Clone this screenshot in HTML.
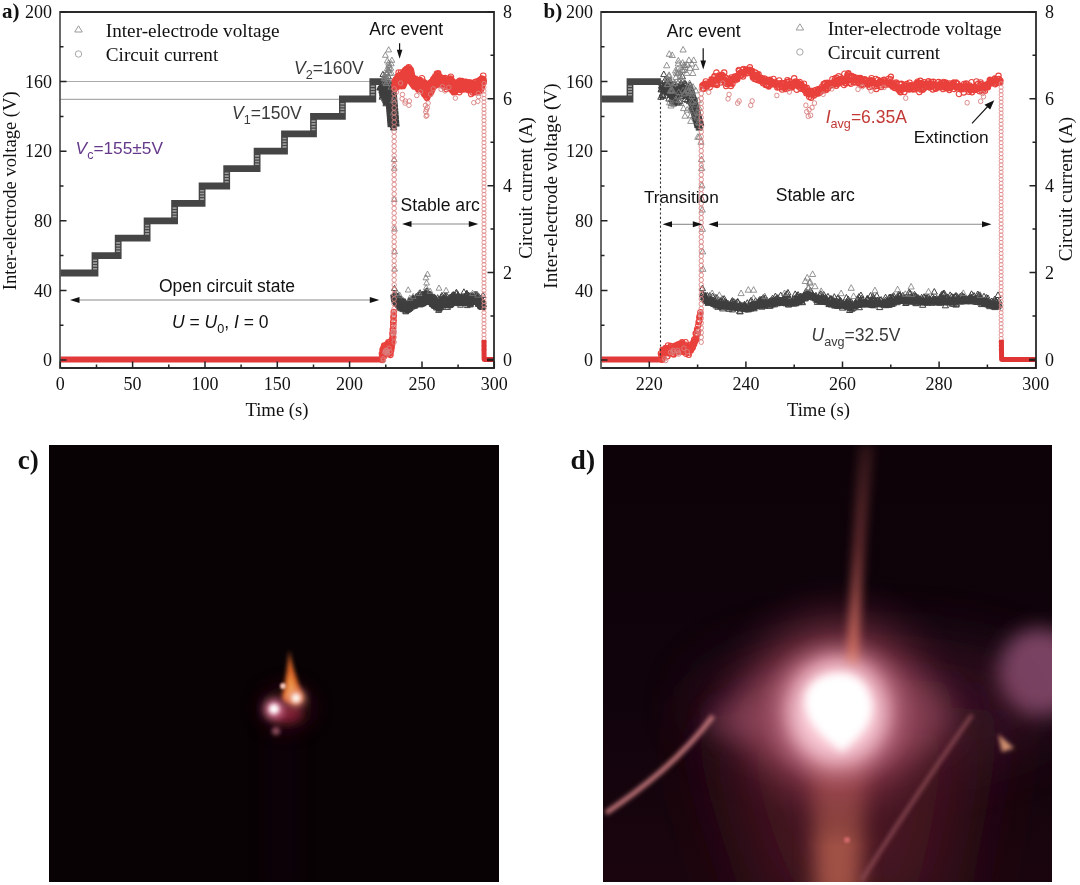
<!DOCTYPE html>
<html><head><meta charset="utf-8"><style>
html,body{margin:0;padding:0;background:#fff;width:1080px;height:885px;overflow:hidden}
svg{display:block;filter:blur(0.45px)}
</style></head><body>
<svg width="1080" height="885" viewBox="0 0 1080 885">
<rect width="1080" height="885" fill="#fff"/>
<clipPath id="clipa"><rect x="60" y="12" width="434" height="356"/></clipPath>
<g clip-path="url(#clipa)">
<line x1="60" y1="81.5" x2="372.8" y2="81.5" stroke="#aaa" stroke-width="1.2"/>
<line x1="60" y1="99.3" x2="342.4" y2="99.3" stroke="#aaa" stroke-width="1.2"/>
<path d="M53.1,273.0 L95.0,273.0 L95.0,255.6 L118.2,255.6 L118.2,238.2 L147.1,238.2 L147.1,220.8 L174.6,220.8 L174.6,203.4 L202.1,203.4 L202.1,186.0 L226.7,186.0 L226.7,168.6 L257.1,168.6 L257.1,151.2 L284.5,151.2 L284.5,133.8 L313.5,133.8 L313.5,116.4 L342.4,116.4 L342.4,99.0 L372.8,99.0 L372.8,81.6 L382.0,81.6" fill="none" stroke="#454545" stroke-width="6.8" stroke-linejoin="miter"/>
<line x1="95.0" y1="269.5" x2="95.0" y2="259.1" stroke="#9a9a9a" stroke-width="4" stroke-dasharray="1.6,1.2"/>
<line x1="118.2" y1="252.1" x2="118.2" y2="241.7" stroke="#9a9a9a" stroke-width="4" stroke-dasharray="1.6,1.2"/>
<line x1="147.1" y1="234.7" x2="147.1" y2="224.3" stroke="#9a9a9a" stroke-width="4" stroke-dasharray="1.6,1.2"/>
<line x1="174.6" y1="217.3" x2="174.6" y2="206.9" stroke="#9a9a9a" stroke-width="4" stroke-dasharray="1.6,1.2"/>
<line x1="202.1" y1="199.9" x2="202.1" y2="189.5" stroke="#9a9a9a" stroke-width="4" stroke-dasharray="1.6,1.2"/>
<line x1="226.7" y1="182.5" x2="226.7" y2="172.1" stroke="#9a9a9a" stroke-width="4" stroke-dasharray="1.6,1.2"/>
<line x1="257.1" y1="165.1" x2="257.1" y2="154.7" stroke="#9a9a9a" stroke-width="4" stroke-dasharray="1.6,1.2"/>
<line x1="284.5" y1="147.7" x2="284.5" y2="137.3" stroke="#9a9a9a" stroke-width="4" stroke-dasharray="1.6,1.2"/>
<line x1="313.5" y1="130.3" x2="313.5" y2="119.9" stroke="#9a9a9a" stroke-width="4" stroke-dasharray="1.6,1.2"/>
<line x1="342.4" y1="112.9" x2="342.4" y2="102.5" stroke="#9a9a9a" stroke-width="4" stroke-dasharray="1.6,1.2"/>
<line x1="372.8" y1="95.5" x2="372.8" y2="85.1" stroke="#9a9a9a" stroke-width="4" stroke-dasharray="1.6,1.2"/>
<path d="M56,359.5 L382.2,359.5" stroke="#e23a3a" stroke-width="6"/>
<path d="M394.6,293.9 L394.9,295.4 L395.2,298.4 L395.5,300.2 L395.8,300.6 L396.1,300.9 L396.4,301.3 L396.7,301.7 L396.9,302.1 L397.2,302.5 L397.5,302.9 L397.8,303.3 L398.1,303.7 L398.4,304.1 L398.7,304.5 L399.0,304.8 L399.3,305.0 L399.6,305.1 L399.8,305.2 L400.1,305.4 L400.4,305.5 L400.7,305.6 L401.0,305.7 L401.3,305.9 L401.6,306.0 L401.9,306.1 L402.2,306.2 L402.4,306.4 L402.7,306.5 L403.0,306.6 L403.3,306.8 L403.6,306.9 L403.9,307.0 L404.2,307.2 L404.5,307.3 L404.8,307.5 L405.0,307.6 L405.3,307.8 L405.6,307.9 L405.9,308.1 L406.2,308.2 L406.5,308.4 L406.8,308.5 L407.1,308.7 L407.4,308.8 L407.7,308.9 L407.9,308.9 L408.2,308.6 L408.5,308.3 L408.8,308.0 L409.1,307.7 L409.4,307.4 L409.7,307.1 L410.0,306.8 L410.3,306.5 L410.5,306.2 L410.8,306.0 L411.1,305.7 L411.4,305.4 L411.7,305.1 L412.0,304.8 L412.3,304.5 L412.6,304.3 L412.9,304.2 L413.2,304.0 L413.4,303.8 L413.7,303.7 L414.0,303.5 L414.3,303.4 L414.6,303.2 L414.9,303.0 L415.2,302.9 L415.5,302.7 L415.8,302.5 L416.0,302.4 L416.3,302.2 L416.6,302.1 L416.9,302.1 L417.2,302.1 L417.5,302.1 L417.8,302.1 L418.1,302.1 L418.4,302.1 L418.6,302.1 L418.9,302.1 L419.2,302.1 L419.5,302.1 L419.8,302.1 L420.1,302.1 L420.4,302.1 L420.7,302.1 L421.0,302.1 L421.3,302.1 L421.5,302.1 L421.8,302.1 L422.1,302.1 L422.4,302.1 L422.7,302.1 L423.0,302.1 L423.3,302.1 L423.6,301.3 L423.9,300.6 L424.1,299.8 L424.4,299.1 L424.7,298.3 L425.0,297.6 L425.3,296.8 L425.6,296.1 L425.9,295.3 L426.2,295.1 L426.5,295.6 L426.7,296.0 L427.0,296.4 L427.3,296.8 L427.6,297.3 L427.9,297.7 L428.2,298.1 L428.5,298.5 L428.8,299.0 L429.1,299.4 L429.4,299.8 L429.6,300.2 L429.9,300.7 L430.2,300.9 L430.5,301.1 L430.8,301.3 L431.1,301.5 L431.4,301.7 L431.7,301.9 L432.0,302.2 L432.2,302.4 L432.5,302.6 L432.8,302.8 L433.1,303.0 L433.4,303.2 L433.7,303.4 L434.0,303.7 L434.3,303.9 L434.6,304.1 L434.9,304.2 L435.1,304.4 L435.4,304.6 L435.7,304.8 L436.0,305.0 L436.3,305.1 L436.6,305.3 L436.9,305.5 L437.2,305.7 L437.5,305.9 L437.7,306.0 L438.0,306.2 L438.3,306.4 L438.6,306.6 L438.9,306.8 L439.2,306.4 L439.5,306.1 L439.8,305.8 L440.1,305.5 L440.3,305.2 L440.6,304.8 L440.9,304.5 L441.2,304.2 L441.5,303.9 L441.8,303.6 L442.1,303.2 L442.4,302.9 L442.7,303.0 L443.0,303.0 L443.2,303.1 L443.5,303.1 L443.8,303.1 L444.1,303.2 L444.4,303.2 L444.7,303.3 L445.0,303.3 L445.3,303.3 L445.6,303.4 L445.8,303.4 L446.1,303.5 L446.4,303.5 L446.7,303.6 L447.0,303.6 L447.3,303.6 L447.6,303.7 L447.9,303.7 L448.2,303.8 L448.4,303.8 L448.7,303.8 L449.0,303.9 L449.3,303.9 L449.6,304.0 L449.9,303.7 L450.2,303.4 L450.5,303.1 L450.8,302.9 L451.1,302.6 L451.3,302.3 L451.6,302.0 L451.9,301.7 L452.2,301.5 L452.5,301.2 L452.8,300.9 L453.1,300.6 L453.4,300.4 L453.7,300.1 L453.9,299.8 L454.2,299.9 L454.5,299.9 L454.8,300.0 L455.1,300.0 L455.4,300.1 L455.7,300.2 L456.0,300.2 L456.3,300.3 L456.6,300.3 L456.8,300.4 L457.1,300.5 L457.4,300.5 L457.7,300.6 L458.0,300.6 L458.3,300.7 L458.6,300.8 L458.9,300.8 L459.2,300.9 L459.4,300.9 L459.7,301.0 L460.0,301.1 L460.3,301.1 L460.6,301.2 L460.9,301.2 L461.2,301.2 L461.5,301.2 L461.8,301.2 L462.0,301.2 L462.3,301.3 L462.6,301.3 L462.9,301.3 L463.2,301.3 L463.5,301.3 L463.8,301.3 L464.1,301.3 L464.4,301.3 L464.7,301.4 L464.9,301.4 L465.2,301.4 L465.5,301.4 L465.8,301.4 L466.1,301.4 L466.4,301.4 L466.7,301.4 L467.0,301.5 L467.3,301.5 L467.5,301.5 L467.8,301.5 L468.1,301.5 L468.4,301.5 L468.7,301.5 L469.0,301.5 L469.3,301.5 L469.6,301.4 L469.9,301.4 L470.2,301.3 L470.4,301.2 L470.7,301.2 L471.0,301.1 L471.3,301.0 L471.6,301.0 L471.9,300.9 L472.2,300.9 L472.5,300.8 L472.8,300.7 L473.0,300.7 L473.3,300.6 L473.6,300.6 L473.9,300.5 L474.2,300.4 L474.5,300.4 L474.8,300.3 L475.1,300.3 L475.4,300.2 L475.6,300.1 L475.9,300.1 L476.2,300.0 L476.5,299.9 L476.8,299.9 L477.1,299.8 L477.4,300.0 L477.7,300.4 L478.0,300.8 L478.3,301.2 L478.5,301.7 L478.8,302.1 L479.1,302.5 L479.4,302.9 L479.7,303.3 L480.0,303.7 L480.3,304.1 L480.6,304.5 L480.9,305.0 L481.1,305.4 L481.4,305.3 L481.7,305.3 L482.0,305.3 L482.3,305.3 L482.6,305.3 L482.9,305.2 L483.2,305.2 L483.5,305.2" fill="none" stroke="#3e3e3e" stroke-width="9" stroke-linejoin="round"/>
<path d="M382.2,91.6 L382.3,91.2 L382.5,90.8 L382.6,90.4 L382.8,90.1 L382.9,89.8 L383.1,89.6 L383.2,89.5 L383.3,89.4 L383.5,89.5 L383.6,89.5 L383.8,89.7 L383.9,89.9 L384.1,90.2 L384.2,90.6 L384.4,91.0 L384.5,91.4 L384.7,91.8 L384.8,92.3 L384.9,92.7 L385.1,93.1 L385.2,93.5 L385.4,93.9 L385.5,94.1 L385.7,94.4 L385.8,94.5 L386.0,94.6 L386.1,94.6 L386.2,94.6 L386.4,94.5 L386.5,94.3 L386.7,94.0 L386.8,93.7 L387.0,93.3 L387.1,92.9 L387.3,92.5 L387.4,92.0 L387.5,91.6 L387.7,91.2 L387.8,90.8 L388.0,90.4 L388.1,90.1 L388.3,89.8 L388.4,89.6 L388.6,89.5 L388.7,89.4 L388.8,89.5 L389.0,89.6 L389.1,89.7 L389.3,90.0 L389.4,90.3 L389.6,90.6 L389.7,91.0 L389.9,91.4 L390.0,91.8 L390.1,92.3 L390.3,92.7 L390.4,93.1 L390.6,93.5 L390.7,93.9 L390.9,93.8 L391.0,95.5 L391.2,97.3 L391.3,99.0 L391.4,100.7 L391.6,102.5 L391.7,104.2 L391.9,106.0 L392.0,107.7 L392.2,109.4 L392.3,111.2 L392.5,112.9 L392.6,114.7 L392.8,116.4 L392.9,118.1 L393.0,119.9 L393.2,121.6 L393.3,123.4 L393.5,125.1 L393.6,126.8" fill="none" stroke="#3e3e3e" stroke-width="12" stroke-linejoin="round"/>
<path d="M394.5,87.1 L394.8,86.4 L395.1,85.7 L395.4,85.0 L395.6,84.3 L395.9,83.6 L396.2,82.9 L396.5,82.2 L396.8,81.7 L397.1,81.3 L397.4,81.0 L397.7,80.6 L398.0,80.3 L398.2,79.9 L398.5,79.6 L398.8,79.2 L399.1,78.9 L399.4,78.6 L399.7,78.2 L400.0,77.9 L400.3,77.5 L400.6,78.5 L400.9,79.4 L401.1,80.3 L401.4,81.3 L401.7,82.2 L402.0,83.2 L402.3,82.4 L402.6,81.6 L402.9,80.8 L403.2,80.0 L403.5,79.2 L403.7,78.4 L404.0,77.6 L404.3,76.8 L404.6,76.0 L404.9,75.2 L405.2,74.4 L405.5,73.6 L405.8,73.0 L406.1,72.8 L406.4,72.5 L406.6,72.3 L406.9,72.0 L407.2,71.8 L407.5,71.6 L407.8,71.3 L408.1,71.1 L408.4,70.8 L408.7,70.6 L409.0,72.0 L409.2,73.5 L409.5,74.9 L409.8,76.4 L410.1,77.3 L410.4,77.7 L410.7,78.1 L411.0,78.4 L411.3,78.8 L411.6,79.2 L411.8,79.6 L412.1,80.0 L412.4,80.4 L412.7,80.8 L413.0,81.2 L413.3,81.6 L413.6,82.0 L413.9,82.4 L414.2,82.8 L414.5,83.2 L414.7,83.3 L415.0,83.4 L415.3,83.6 L415.6,83.7 L415.9,83.9 L416.2,84.0 L416.5,84.1 L416.8,84.3 L417.1,84.4 L417.3,84.6 L417.6,84.7 L417.9,84.8 L418.2,85.0 L418.5,85.1 L418.8,85.3 L419.1,85.3 L419.4,85.3 L419.7,85.3 L419.9,85.3 L420.2,85.3 L420.5,85.3 L420.8,85.3 L421.1,85.3 L421.4,85.3 L421.7,85.3 L422.0,85.3 L422.3,85.3 L422.6,85.3 L422.8,85.3 L423.1,85.3 L423.4,85.3 L423.7,85.3 L424.0,85.3 L424.3,85.3 L424.6,86.6 L424.9,87.9 L425.2,89.2 L425.4,90.5 L425.7,91.8 L426.0,93.2 L426.3,93.1 L426.6,93.0 L426.9,92.9 L427.2,92.8 L427.5,92.7 L427.8,92.6 L428.1,92.5 L428.3,92.4 L428.6,92.3 L428.9,91.6 L429.2,91.0 L429.5,90.3 L429.8,89.6 L430.1,89.0 L430.4,88.3 L430.7,87.7 L430.9,87.0 L431.2,86.3 L431.5,85.7 L431.8,85.0 L432.1,84.4 L432.4,83.9 L432.7,83.7 L433.0,83.4 L433.3,83.2 L433.5,82.9 L433.8,82.7 L434.1,82.4 L434.4,82.2 L434.7,81.9 L435.0,81.7 L435.3,81.4 L435.6,81.2 L435.9,80.9 L436.2,80.7 L436.4,80.4 L436.7,80.2 L437.0,79.9 L437.3,79.7 L437.6,79.4 L437.9,79.2 L438.2,78.9 L438.5,78.9 L438.8,79.1 L439.0,79.4 L439.3,79.6 L439.6,79.8 L439.9,80.0 L440.2,80.3 L440.5,80.5 L440.8,80.7 L441.1,80.9 L441.4,81.2 L441.7,81.4 L441.9,81.6 L442.2,81.8 L442.5,82.0 L442.8,82.3 L443.1,82.5 L443.4,82.7 L443.7,82.9 L444.0,83.2 L444.3,83.1 L444.5,83.1 L444.8,83.0 L445.1,83.0 L445.4,83.0 L445.7,82.9 L446.0,82.9 L446.3,82.9 L446.6,82.8 L446.9,82.8 L447.1,82.7 L447.4,82.7 L447.7,82.7 L448.0,82.6 L448.3,82.6 L448.6,82.6 L448.9,82.5 L449.2,82.5 L449.5,82.4 L449.8,82.4 L450.0,82.4 L450.3,82.3 L450.6,82.3 L450.9,82.9 L451.2,83.6 L451.5,84.2 L451.8,84.9 L452.1,85.5 L452.4,86.2 L452.6,86.9 L452.9,87.5 L453.2,88.2 L453.5,88.8 L453.8,88.6 L454.1,88.5 L454.4,88.3 L454.7,88.1 L455.0,87.9 L455.2,87.7 L455.5,87.6 L455.8,87.4 L456.1,87.2 L456.4,87.0 L456.7,86.9 L457.0,86.7 L457.3,86.5 L457.6,86.3 L457.9,86.1 L458.1,86.0 L458.4,85.8 L458.7,85.6 L459.0,85.4 L459.3,85.3 L459.6,85.1 L459.9,84.9 L460.2,84.7 L460.5,84.6 L460.7,84.5 L461.0,84.5 L461.3,84.5 L461.6,84.6 L461.9,84.6 L462.2,84.6 L462.5,84.7 L462.8,84.7 L463.1,84.7 L463.4,84.7 L463.6,84.8 L463.9,84.8 L464.2,84.8 L464.5,84.9 L464.8,84.9 L465.1,84.9 L465.4,85.0 L465.7,85.0 L466.0,85.0 L466.2,85.0 L466.5,85.1 L466.8,85.1 L467.1,85.1 L467.4,85.2 L467.7,85.2 L468.0,85.2 L468.3,85.3 L468.6,85.3 L468.8,85.3 L469.1,85.4 L469.4,85.5 L469.7,85.6 L470.0,85.7 L470.3,85.8 L470.6,85.9 L470.9,86.0 L471.2,86.1 L471.5,86.2 L471.7,86.3 L472.0,86.4 L472.3,86.5 L472.6,86.6 L472.9,86.7 L473.2,86.8 L473.5,86.9 L473.8,87.1 L474.1,87.2 L474.3,87.3 L474.6,87.4 L474.9,87.5 L475.2,87.6 L475.5,87.7 L475.8,87.8 L476.1,87.9 L476.4,88.0 L476.7,88.1 L476.9,88.2 L477.2,88.3 L477.5,88.3 L477.8,88.4 L478.1,88.5 L478.4,88.6 L478.7,88.7 L479.0,88.8 L479.3,87.8 L479.6,86.8 L479.8,85.9 L480.1,84.9 L480.4,83.9 L480.7,82.9 L481.0,81.9 L481.3,81.4 L481.6,81.4 L481.9,81.4 L482.2,81.4 L482.4,81.4 L482.7,81.4 L483.0,81.4 L483.3,81.4 L483.6,81.4 L483.9,81.4" fill="none" stroke="#ea3e39" stroke-width="11" stroke-linejoin="round"/>
<path d="M382.0,94.0l2.9,5.2h-5.8zM382.1,86.5l2.9,5.2h-5.8zM382.2,85.8l2.9,5.2h-5.8zM382.3,82.8l2.9,5.2h-5.8zM382.3,80.6l2.9,5.2h-5.8zM382.4,82.9l2.9,5.2h-5.8zM382.5,90.7l2.9,5.2h-5.8zM382.6,92.1l2.9,5.2h-5.8zM382.6,85.6l2.9,5.2h-5.8zM382.7,83.5l2.9,5.2h-5.8zM382.8,92.9l2.9,5.2h-5.8zM382.8,87.1l2.9,5.2h-5.8zM382.9,71.3l2.9,5.2h-5.8zM383.0,86.3l2.9,5.2h-5.8zM383.1,86.4l2.9,5.2h-5.8zM383.1,84.3l2.9,5.2h-5.8zM383.2,77.4l2.9,5.2h-5.8zM383.3,88.1l2.9,5.2h-5.8zM383.3,81.3l2.9,5.2h-5.8zM383.4,86.4l2.9,5.2h-5.8zM383.5,82.4l2.9,5.2h-5.8zM383.6,83.8l2.9,5.2h-5.8zM383.6,84.7l2.9,5.2h-5.8zM383.7,85.1l2.9,5.2h-5.8zM383.8,83.4l2.9,5.2h-5.8zM383.9,82.7l2.9,5.2h-5.8zM383.9,78.3l2.9,5.2h-5.8zM384.0,85.4l2.9,5.2h-5.8zM384.1,82.3l2.9,5.2h-5.8zM384.1,87.0l2.9,5.2h-5.8zM384.2,87.5l2.9,5.2h-5.8zM384.3,86.9l2.9,5.2h-5.8zM384.4,81.2l2.9,5.2h-5.8zM384.4,95.7l2.9,5.2h-5.8zM384.5,80.8l2.9,5.2h-5.8zM384.6,88.7l2.9,5.2h-5.8zM384.7,83.7l2.9,5.2h-5.8zM384.7,77.2l2.9,5.2h-5.8zM384.8,89.0l2.9,5.2h-5.8zM384.9,80.5l2.9,5.2h-5.8zM384.9,90.8l2.9,5.2h-5.8zM385.0,92.1l2.9,5.2h-5.8zM385.1,91.9l2.9,5.2h-5.8zM385.2,87.8l2.9,5.2h-5.8zM385.2,96.1l2.9,5.2h-5.8zM385.3,82.8l2.9,5.2h-5.8zM385.4,89.5l2.9,5.2h-5.8zM385.4,93.9l2.9,5.2h-5.8zM385.5,97.8l2.9,5.2h-5.8zM385.6,85.6l2.9,5.2h-5.8zM385.7,88.2l2.9,5.2h-5.8zM385.7,88.2l2.9,5.2h-5.8zM385.8,100.6l2.9,5.2h-5.8zM385.9,97.9l2.9,5.2h-5.8zM386.0,87.1l2.9,5.2h-5.8zM386.0,96.4l2.9,5.2h-5.8zM386.1,81.7l2.9,5.2h-5.8zM386.2,91.4l2.9,5.2h-5.8zM386.2,99.0l2.9,5.2h-5.8zM386.3,84.9l2.9,5.2h-5.8zM386.4,89.7l2.9,5.2h-5.8zM386.5,98.4l2.9,5.2h-5.8zM386.5,84.2l2.9,5.2h-5.8zM386.6,81.9l2.9,5.2h-5.8zM386.7,93.5l2.9,5.2h-5.8zM386.7,86.8l2.9,5.2h-5.8zM386.8,99.5l2.9,5.2h-5.8zM386.9,86.4l2.9,5.2h-5.8zM387.0,85.7l2.9,5.2h-5.8zM387.0,90.0l2.9,5.2h-5.8zM387.1,86.6l2.9,5.2h-5.8zM387.2,85.8l2.9,5.2h-5.8zM387.3,99.7l2.9,5.2h-5.8zM387.3,90.2l2.9,5.2h-5.8zM387.4,86.0l2.9,5.2h-5.8zM387.5,86.6l2.9,5.2h-5.8zM387.5,91.6l2.9,5.2h-5.8zM387.6,83.7l2.9,5.2h-5.8zM387.7,98.2l2.9,5.2h-5.8zM387.8,82.2l2.9,5.2h-5.8zM387.8,86.8l2.9,5.2h-5.8zM387.9,81.2l2.9,5.2h-5.8zM388.0,93.1l2.9,5.2h-5.8zM388.0,80.0l2.9,5.2h-5.8zM388.1,93.5l2.9,5.2h-5.8zM388.2,93.4l2.9,5.2h-5.8zM388.3,81.5l2.9,5.2h-5.8zM388.3,87.8l2.9,5.2h-5.8zM388.4,90.5l2.9,5.2h-5.8zM388.5,73.6l2.9,5.2h-5.8zM388.6,87.4l2.9,5.2h-5.8zM388.6,90.6l2.9,5.2h-5.8zM388.7,83.8l2.9,5.2h-5.8zM388.8,87.4l2.9,5.2h-5.8zM388.8,89.9l2.9,5.2h-5.8zM388.9,86.6l2.9,5.2h-5.8zM389.0,81.0l2.9,5.2h-5.8zM389.1,85.0l2.9,5.2h-5.8zM389.1,89.7l2.9,5.2h-5.8zM389.2,90.4l2.9,5.2h-5.8zM389.3,80.4l2.9,5.2h-5.8zM389.4,96.1l2.9,5.2h-5.8zM389.4,91.9l2.9,5.2h-5.8zM389.5,81.5l2.9,5.2h-5.8zM389.6,88.0l2.9,5.2h-5.8zM389.6,87.8l2.9,5.2h-5.8zM389.7,88.9l2.9,5.2h-5.8zM389.8,88.2l2.9,5.2h-5.8zM389.9,83.9l2.9,5.2h-5.8zM389.9,96.9l2.9,5.2h-5.8zM390.0,88.1l2.9,5.2h-5.8zM390.1,90.0l2.9,5.2h-5.8zM390.1,92.4l2.9,5.2h-5.8zM390.2,91.2l2.9,5.2h-5.8zM390.3,83.9l2.9,5.2h-5.8zM390.4,92.0l2.9,5.2h-5.8zM390.4,93.1l2.9,5.2h-5.8zM390.5,94.0l2.9,5.2h-5.8zM390.6,90.4l2.9,5.2h-5.8zM390.7,98.3l2.9,5.2h-5.8zM390.7,89.9l2.9,5.2h-5.8zM390.8,82.0l2.9,5.2h-5.8zM390.9,85.3l2.9,5.2h-5.8zM390.9,87.1l2.9,5.2h-5.8zM391.0,85.4l2.9,5.2h-5.8zM391.1,93.1l2.9,5.2h-5.8zM391.2,93.0l2.9,5.2h-5.8zM391.2,96.3l2.9,5.2h-5.8zM391.3,92.6l2.9,5.2h-5.8zM391.4,94.5l2.9,5.2h-5.8zM391.4,104.6l2.9,5.2h-5.8zM391.5,102.8l2.9,5.2h-5.8zM391.6,101.5l2.9,5.2h-5.8zM391.7,100.1l2.9,5.2h-5.8zM391.7,101.4l2.9,5.2h-5.8zM391.8,101.6l2.9,5.2h-5.8zM391.9,105.5l2.9,5.2h-5.8zM392.0,106.6l2.9,5.2h-5.8zM392.0,104.6l2.9,5.2h-5.8zM392.1,95.0l2.9,5.2h-5.8zM392.2,98.4l2.9,5.2h-5.8zM392.2,112.4l2.9,5.2h-5.8zM392.3,107.9l2.9,5.2h-5.8zM392.4,104.2l2.9,5.2h-5.8zM392.5,109.0l2.9,5.2h-5.8zM392.5,112.5l2.9,5.2h-5.8zM392.6,115.5l2.9,5.2h-5.8zM392.7,112.9l2.9,5.2h-5.8zM392.8,111.8l2.9,5.2h-5.8zM392.8,113.8l2.9,5.2h-5.8zM392.9,113.7l2.9,5.2h-5.8zM393.0,105.6l2.9,5.2h-5.8zM393.0,110.5l2.9,5.2h-5.8zM393.1,118.4l2.9,5.2h-5.8zM393.2,122.4l2.9,5.2h-5.8zM393.3,120.0l2.9,5.2h-5.8zM393.3,115.3l2.9,5.2h-5.8zM393.4,122.2l2.9,5.2h-5.8zM393.5,124.8l2.9,5.2h-5.8zM393.5,122.6l2.9,5.2h-5.8zM393.6,116.9l2.9,5.2h-5.8zM393.7,124.1l2.9,5.2h-5.8zM394.5,290.8l2.9,5.2h-5.8zM394.5,285.4l2.9,5.2h-5.8zM394.6,291.3l2.9,5.2h-5.8zM394.8,294.3l2.9,5.2h-5.8zM394.9,292.4l2.9,5.2h-5.8zM395.1,294.0l2.9,5.2h-5.8zM395.2,295.4l2.9,5.2h-5.8zM395.4,297.3l2.9,5.2h-5.8zM395.5,296.7l2.9,5.2h-5.8zM395.6,298.3l2.9,5.2h-5.8zM395.8,297.9l2.9,5.2h-5.8zM395.9,297.3l2.9,5.2h-5.8zM395.9,292.6l2.9,5.2h-5.8zM396.1,296.8l2.9,5.2h-5.8zM396.2,299.9l2.9,5.2h-5.8zM396.4,299.8l2.9,5.2h-5.8zM396.5,299.3l2.9,5.2h-5.8zM396.7,295.0l2.9,5.2h-5.8zM396.7,292.8l2.9,5.2h-5.8zM396.8,298.6l2.9,5.2h-5.8zM396.9,296.7l2.9,5.2h-5.8zM397.1,296.5l2.9,5.2h-5.8zM397.2,297.6l2.9,5.2h-5.8zM397.4,298.7l2.9,5.2h-5.8zM397.5,297.7l2.9,5.2h-5.8zM397.5,293.2l2.9,5.2h-5.8zM397.7,297.3l2.9,5.2h-5.8zM397.8,300.9l2.9,5.2h-5.8zM398.0,299.3l2.9,5.2h-5.8zM398.1,301.1l2.9,5.2h-5.8zM398.2,298.3l2.9,5.2h-5.8zM398.4,297.6l2.9,5.2h-5.8zM398.4,294.8l2.9,5.2h-5.8zM398.5,302.5l2.9,5.2h-5.8zM398.7,301.6l2.9,5.2h-5.8zM398.8,300.5l2.9,5.2h-5.8zM398.8,294.7l2.9,5.2h-5.8zM399.0,301.7l2.9,5.2h-5.8zM399.1,304.0l2.9,5.2h-5.8zM399.3,302.0l2.9,5.2h-5.8zM399.4,300.8l2.9,5.2h-5.8zM399.6,299.9l2.9,5.2h-5.8zM399.7,302.5l2.9,5.2h-5.8zM399.8,298.2l2.9,5.2h-5.8zM400.0,303.2l2.9,5.2h-5.8zM400.1,303.1l2.9,5.2h-5.8zM400.1,297.6l2.9,5.2h-5.8zM400.3,301.2l2.9,5.2h-5.8zM400.4,304.0l2.9,5.2h-5.8zM400.4,299.0l2.9,5.2h-5.8zM400.6,305.5l2.9,5.2h-5.8zM400.6,296.1l2.9,5.2h-5.8zM400.7,302.2l2.9,5.2h-5.8zM400.9,301.9l2.9,5.2h-5.8zM401.0,302.7l2.9,5.2h-5.8zM401.0,295.8l2.9,5.2h-5.8zM401.1,300.8l2.9,5.2h-5.8zM401.1,298.6l2.9,5.2h-5.8zM401.3,303.0l2.9,5.2h-5.8zM401.4,301.8l2.9,5.2h-5.8zM401.6,299.5l2.9,5.2h-5.8zM401.7,299.9l2.9,5.2h-5.8zM401.9,303.0l2.9,5.2h-5.8zM402.0,301.0l2.9,5.2h-5.8zM402.2,303.6l2.9,5.2h-5.8zM402.3,300.9l2.9,5.2h-5.8zM402.4,305.9l2.9,5.2h-5.8zM402.6,302.3l2.9,5.2h-5.8zM402.7,304.6l2.9,5.2h-5.8zM402.9,303.7l2.9,5.2h-5.8zM403.0,302.3l2.9,5.2h-5.8zM403.2,301.7l2.9,5.2h-5.8zM403.2,299.7l2.9,5.2h-5.8zM403.3,303.0l2.9,5.2h-5.8zM403.3,298.9l2.9,5.2h-5.8zM403.5,306.5l2.9,5.2h-5.8zM403.5,297.7l2.9,5.2h-5.8zM403.6,302.8l2.9,5.2h-5.8zM403.7,302.3l2.9,5.2h-5.8zM403.9,302.9l2.9,5.2h-5.8zM403.9,298.9l2.9,5.2h-5.8zM404.0,304.4l2.9,5.2h-5.8zM404.2,301.6l2.9,5.2h-5.8zM404.3,302.3l2.9,5.2h-5.8zM404.5,304.6l2.9,5.2h-5.8zM404.6,299.8l2.9,5.2h-5.8zM404.8,302.6l2.9,5.2h-5.8zM404.9,304.8l2.9,5.2h-5.8zM405.0,298.8l2.9,5.2h-5.8zM405.0,298.9l2.9,5.2h-5.8zM405.2,303.8l2.9,5.2h-5.8zM405.3,303.6l2.9,5.2h-5.8zM405.5,303.4l2.9,5.2h-5.8zM405.6,307.9l2.9,5.2h-5.8zM405.8,308.6l2.9,5.2h-5.8zM405.8,301.8l2.9,5.2h-5.8zM405.9,304.6l2.9,5.2h-5.8zM406.1,303.3l2.9,5.2h-5.8zM406.2,303.9l2.9,5.2h-5.8zM406.4,302.5l2.9,5.2h-5.8zM406.5,305.4l2.9,5.2h-5.8zM406.6,304.2l2.9,5.2h-5.8zM406.8,305.3l2.9,5.2h-5.8zM406.9,303.2l2.9,5.2h-5.8zM407.1,302.3l2.9,5.2h-5.8zM407.1,301.4l2.9,5.2h-5.8zM407.2,303.3l2.9,5.2h-5.8zM407.4,303.8l2.9,5.2h-5.8zM407.5,304.2l2.9,5.2h-5.8zM407.7,303.7l2.9,5.2h-5.8zM407.8,305.3l2.9,5.2h-5.8zM407.9,299.9l2.9,5.2h-5.8zM408.1,304.8l2.9,5.2h-5.8zM408.2,306.5l2.9,5.2h-5.8zM408.4,303.3l2.9,5.2h-5.8zM408.5,304.7l2.9,5.2h-5.8zM408.7,303.4l2.9,5.2h-5.8zM408.8,304.7l2.9,5.2h-5.8zM409.0,305.8l2.9,5.2h-5.8zM409.0,298.4l2.9,5.2h-5.8zM409.1,302.6l2.9,5.2h-5.8zM409.1,297.4l2.9,5.2h-5.8zM409.2,302.1l2.9,5.2h-5.8zM409.2,301.1l2.9,5.2h-5.8zM409.4,302.8l2.9,5.2h-5.8zM409.5,302.1l2.9,5.2h-5.8zM409.7,304.4l2.9,5.2h-5.8zM409.8,304.6l2.9,5.2h-5.8zM410.0,305.4l2.9,5.2h-5.8zM410.1,301.5l2.9,5.2h-5.8zM410.3,301.4l2.9,5.2h-5.8zM410.4,302.6l2.9,5.2h-5.8zM410.4,297.9l2.9,5.2h-5.8zM410.5,301.2l2.9,5.2h-5.8zM410.7,300.9l2.9,5.2h-5.8zM410.8,299.9l2.9,5.2h-5.8zM411.0,300.5l2.9,5.2h-5.8zM411.1,299.9l2.9,5.2h-5.8zM411.3,300.6l2.9,5.2h-5.8zM411.4,297.8l2.9,5.2h-5.8zM411.4,299.0l2.9,5.2h-5.8zM411.6,299.3l2.9,5.2h-5.8zM411.7,302.7l2.9,5.2h-5.8zM411.7,296.6l2.9,5.2h-5.8zM411.8,298.9l2.9,5.2h-5.8zM412.0,298.4l2.9,5.2h-5.8zM412.1,296.5l2.9,5.2h-5.8zM412.3,303.8l2.9,5.2h-5.8zM412.3,297.3l2.9,5.2h-5.8zM412.4,302.1l2.9,5.2h-5.8zM412.6,300.2l2.9,5.2h-5.8zM412.7,301.6l2.9,5.2h-5.8zM412.7,294.8l2.9,5.2h-5.8zM412.9,295.9l2.9,5.2h-5.8zM413.0,301.8l2.9,5.2h-5.8zM413.2,302.9l2.9,5.2h-5.8zM413.3,298.5l2.9,5.2h-5.8zM413.3,295.2l2.9,5.2h-5.8zM413.4,298.8l2.9,5.2h-5.8zM413.6,301.6l2.9,5.2h-5.8zM413.7,300.7l2.9,5.2h-5.8zM413.9,297.7l2.9,5.2h-5.8zM414.0,300.5l2.9,5.2h-5.8zM414.2,299.7l2.9,5.2h-5.8zM414.3,302.7l2.9,5.2h-5.8zM414.5,301.2l2.9,5.2h-5.8zM414.6,298.6l2.9,5.2h-5.8zM414.7,303.0l2.9,5.2h-5.8zM414.9,297.9l2.9,5.2h-5.8zM415.0,299.6l2.9,5.2h-5.8zM415.2,301.6l2.9,5.2h-5.8zM415.3,297.8l2.9,5.2h-5.8zM415.5,297.8l2.9,5.2h-5.8zM415.5,295.4l2.9,5.2h-5.8zM415.6,301.0l2.9,5.2h-5.8zM415.8,298.9l2.9,5.2h-5.8zM415.9,298.2l2.9,5.2h-5.8zM416.0,301.6l2.9,5.2h-5.8zM416.2,297.2l2.9,5.2h-5.8zM416.3,296.1l2.9,5.2h-5.8zM416.3,293.3l2.9,5.2h-5.8zM416.5,298.5l2.9,5.2h-5.8zM416.6,298.5l2.9,5.2h-5.8zM416.8,295.9l2.9,5.2h-5.8zM416.9,300.4l2.9,5.2h-5.8zM417.1,294.8l2.9,5.2h-5.8zM417.2,297.7l2.9,5.2h-5.8zM417.3,299.6l2.9,5.2h-5.8zM417.5,298.3l2.9,5.2h-5.8zM417.6,297.6l2.9,5.2h-5.8zM417.8,299.8l2.9,5.2h-5.8zM417.9,297.7l2.9,5.2h-5.8zM417.9,292.3l2.9,5.2h-5.8zM418.1,297.7l2.9,5.2h-5.8zM418.2,298.2l2.9,5.2h-5.8zM418.4,298.7l2.9,5.2h-5.8zM418.5,299.4l2.9,5.2h-5.8zM418.6,298.2l2.9,5.2h-5.8zM418.8,297.0l2.9,5.2h-5.8zM418.8,295.5l2.9,5.2h-5.8zM418.9,295.9l2.9,5.2h-5.8zM419.1,296.7l2.9,5.2h-5.8zM419.2,300.0l2.9,5.2h-5.8zM419.4,298.9l2.9,5.2h-5.8zM419.4,292.2l2.9,5.2h-5.8zM419.5,300.4l2.9,5.2h-5.8zM419.7,297.7l2.9,5.2h-5.8zM419.8,298.5l2.9,5.2h-5.8zM419.8,291.1l2.9,5.2h-5.8zM419.9,298.4l2.9,5.2h-5.8zM420.1,299.8l2.9,5.2h-5.8zM420.1,289.7l2.9,5.2h-5.8zM420.2,301.6l2.9,5.2h-5.8zM420.4,301.5l2.9,5.2h-5.8zM420.5,295.8l2.9,5.2h-5.8zM420.7,300.1l2.9,5.2h-5.8zM420.8,296.5l2.9,5.2h-5.8zM421.0,299.3l2.9,5.2h-5.8zM421.1,300.4l2.9,5.2h-5.8zM421.3,299.5l2.9,5.2h-5.8zM421.4,299.3l2.9,5.2h-5.8zM421.5,298.3l2.9,5.2h-5.8zM421.7,296.5l2.9,5.2h-5.8zM421.8,300.7l2.9,5.2h-5.8zM422.0,300.0l2.9,5.2h-5.8zM422.0,295.6l2.9,5.2h-5.8zM422.1,298.2l2.9,5.2h-5.8zM422.3,298.7l2.9,5.2h-5.8zM422.3,291.2l2.9,5.2h-5.8zM422.4,300.4l2.9,5.2h-5.8zM422.6,299.4l2.9,5.2h-5.8zM422.6,295.6l2.9,5.2h-5.8zM422.7,298.0l2.9,5.2h-5.8zM422.8,298.7l2.9,5.2h-5.8zM422.8,292.4l2.9,5.2h-5.8zM423.0,297.8l2.9,5.2h-5.8zM423.0,294.1l2.9,5.2h-5.8zM423.1,297.0l2.9,5.2h-5.8zM423.1,291.8l2.9,5.2h-5.8zM423.3,299.3l2.9,5.2h-5.8zM423.4,297.2l2.9,5.2h-5.8zM423.6,296.7l2.9,5.2h-5.8zM423.7,297.4l2.9,5.2h-5.8zM423.7,294.4l2.9,5.2h-5.8zM423.9,293.3l2.9,5.2h-5.8zM424.0,297.2l2.9,5.2h-5.8zM424.0,293.5l2.9,5.2h-5.8zM424.1,296.0l2.9,5.2h-5.8zM424.3,298.7l2.9,5.2h-5.8zM424.4,299.4l2.9,5.2h-5.8zM424.6,294.1l2.9,5.2h-5.8zM424.7,293.0l2.9,5.2h-5.8zM424.9,293.9l2.9,5.2h-5.8zM425.0,292.4l2.9,5.2h-5.8zM425.2,295.3l2.9,5.2h-5.8zM425.3,295.4l2.9,5.2h-5.8zM425.4,290.8l2.9,5.2h-5.8zM425.4,288.7l2.9,5.2h-5.8zM425.6,292.8l2.9,5.2h-5.8zM425.7,292.8l2.9,5.2h-5.8zM425.9,289.9l2.9,5.2h-5.8zM426.0,291.8l2.9,5.2h-5.8zM426.2,291.1l2.9,5.2h-5.8zM426.3,290.5l2.9,5.2h-5.8zM426.5,292.3l2.9,5.2h-5.8zM426.6,293.5l2.9,5.2h-5.8zM426.7,292.1l2.9,5.2h-5.8zM426.9,293.4l2.9,5.2h-5.8zM426.9,287.7l2.9,5.2h-5.8zM427.0,294.2l2.9,5.2h-5.8zM427.2,290.4l2.9,5.2h-5.8zM427.3,292.3l2.9,5.2h-5.8zM427.5,293.2l2.9,5.2h-5.8zM427.6,294.6l2.9,5.2h-5.8zM427.8,294.1l2.9,5.2h-5.8zM427.9,293.4l2.9,5.2h-5.8zM428.1,293.4l2.9,5.2h-5.8zM428.2,293.7l2.9,5.2h-5.8zM428.3,295.7l2.9,5.2h-5.8zM428.5,292.5l2.9,5.2h-5.8zM428.6,294.8l2.9,5.2h-5.8zM428.8,297.2l2.9,5.2h-5.8zM428.9,299.0l2.9,5.2h-5.8zM429.1,294.9l2.9,5.2h-5.8zM429.2,296.9l2.9,5.2h-5.8zM429.4,294.6l2.9,5.2h-5.8zM429.5,295.8l2.9,5.2h-5.8zM429.6,298.3l2.9,5.2h-5.8zM429.6,292.3l2.9,5.2h-5.8zM429.8,296.8l2.9,5.2h-5.8zM429.9,296.3l2.9,5.2h-5.8zM429.9,290.9l2.9,5.2h-5.8zM430.1,298.5l2.9,5.2h-5.8zM430.2,296.2l2.9,5.2h-5.8zM430.2,294.0l2.9,5.2h-5.8zM430.4,297.1l2.9,5.2h-5.8zM430.5,298.1l2.9,5.2h-5.8zM430.5,293.1l2.9,5.2h-5.8zM430.7,295.9l2.9,5.2h-5.8zM430.8,299.1l2.9,5.2h-5.8zM430.8,291.6l2.9,5.2h-5.8zM430.9,297.4l2.9,5.2h-5.8zM431.1,295.1l2.9,5.2h-5.8zM431.2,299.1l2.9,5.2h-5.8zM431.4,298.7l2.9,5.2h-5.8zM431.5,295.0l2.9,5.2h-5.8zM431.7,297.0l2.9,5.2h-5.8zM431.8,296.9l2.9,5.2h-5.8zM432.0,298.1l2.9,5.2h-5.8zM432.1,297.5l2.9,5.2h-5.8zM432.1,293.5l2.9,5.2h-5.8zM432.2,299.2l2.9,5.2h-5.8zM432.4,301.2l2.9,5.2h-5.8zM432.5,299.7l2.9,5.2h-5.8zM432.7,301.2l2.9,5.2h-5.8zM432.8,296.2l2.9,5.2h-5.8zM433.0,296.1l2.9,5.2h-5.8zM433.0,295.6l2.9,5.2h-5.8zM433.1,301.7l2.9,5.2h-5.8zM433.3,299.4l2.9,5.2h-5.8zM433.4,299.5l2.9,5.2h-5.8zM433.5,298.4l2.9,5.2h-5.8zM433.7,299.2l2.9,5.2h-5.8zM433.7,296.9l2.9,5.2h-5.8zM433.8,298.5l2.9,5.2h-5.8zM434.0,298.8l2.9,5.2h-5.8zM434.0,293.9l2.9,5.2h-5.8zM434.1,302.8l2.9,5.2h-5.8zM434.3,299.8l2.9,5.2h-5.8zM434.4,302.0l2.9,5.2h-5.8zM434.6,301.9l2.9,5.2h-5.8zM434.7,298.0l2.9,5.2h-5.8zM434.9,301.3l2.9,5.2h-5.8zM435.0,303.1l2.9,5.2h-5.8zM435.0,295.3l2.9,5.2h-5.8zM435.1,299.0l2.9,5.2h-5.8zM435.1,294.8l2.9,5.2h-5.8zM435.3,300.7l2.9,5.2h-5.8zM435.4,301.7l2.9,5.2h-5.8zM435.6,302.8l2.9,5.2h-5.8zM435.7,298.6l2.9,5.2h-5.8zM435.7,297.3l2.9,5.2h-5.8zM435.9,301.9l2.9,5.2h-5.8zM436.0,298.6l2.9,5.2h-5.8zM436.2,302.0l2.9,5.2h-5.8zM436.3,300.5l2.9,5.2h-5.8zM436.4,304.8l2.9,5.2h-5.8zM436.6,300.0l2.9,5.2h-5.8zM436.7,302.0l2.9,5.2h-5.8zM436.9,301.5l2.9,5.2h-5.8zM437.0,301.3l2.9,5.2h-5.8zM437.2,302.2l2.9,5.2h-5.8zM437.3,301.9l2.9,5.2h-5.8zM437.5,302.0l2.9,5.2h-5.8zM437.6,300.4l2.9,5.2h-5.8zM437.6,294.7l2.9,5.2h-5.8zM437.7,301.0l2.9,5.2h-5.8zM437.7,298.6l2.9,5.2h-5.8zM437.9,300.7l2.9,5.2h-5.8zM438.0,304.4l2.9,5.2h-5.8zM438.2,302.5l2.9,5.2h-5.8zM438.2,296.5l2.9,5.2h-5.8zM438.3,303.6l2.9,5.2h-5.8zM438.5,299.2l2.9,5.2h-5.8zM438.6,307.2l2.9,5.2h-5.8zM438.8,302.0l2.9,5.2h-5.8zM438.8,300.2l2.9,5.2h-5.8zM438.9,305.0l2.9,5.2h-5.8zM439.0,300.7l2.9,5.2h-5.8zM439.0,298.8l2.9,5.2h-5.8zM439.2,306.0l2.9,5.2h-5.8zM439.3,303.2l2.9,5.2h-5.8zM439.5,301.1l2.9,5.2h-5.8zM439.6,305.0l2.9,5.2h-5.8zM439.8,302.6l2.9,5.2h-5.8zM439.9,303.2l2.9,5.2h-5.8zM440.1,302.5l2.9,5.2h-5.8zM440.2,303.4l2.9,5.2h-5.8zM440.3,299.7l2.9,5.2h-5.8zM440.5,300.1l2.9,5.2h-5.8zM440.6,300.4l2.9,5.2h-5.8zM440.8,301.5l2.9,5.2h-5.8zM440.8,297.0l2.9,5.2h-5.8zM440.9,302.0l2.9,5.2h-5.8zM440.9,296.1l2.9,5.2h-5.8zM441.1,302.0l2.9,5.2h-5.8zM441.2,299.7l2.9,5.2h-5.8zM441.4,301.7l2.9,5.2h-5.8zM441.4,293.9l2.9,5.2h-5.8zM441.5,304.3l2.9,5.2h-5.8zM441.7,298.2l2.9,5.2h-5.8zM441.8,300.4l2.9,5.2h-5.8zM441.9,297.2l2.9,5.2h-5.8zM441.9,292.3l2.9,5.2h-5.8zM442.1,295.5l2.9,5.2h-5.8zM442.2,300.2l2.9,5.2h-5.8zM442.4,300.3l2.9,5.2h-5.8zM442.5,301.6l2.9,5.2h-5.8zM442.5,296.6l2.9,5.2h-5.8zM442.7,300.1l2.9,5.2h-5.8zM442.8,301.2l2.9,5.2h-5.8zM443.0,301.2l2.9,5.2h-5.8zM443.1,300.8l2.9,5.2h-5.8zM443.2,301.4l2.9,5.2h-5.8zM443.4,300.8l2.9,5.2h-5.8zM443.5,299.6l2.9,5.2h-5.8zM443.7,301.0l2.9,5.2h-5.8zM443.8,295.8l2.9,5.2h-5.8zM444.0,295.8l2.9,5.2h-5.8zM444.1,296.6l2.9,5.2h-5.8zM444.3,300.9l2.9,5.2h-5.8zM444.4,297.7l2.9,5.2h-5.8zM444.5,301.6l2.9,5.2h-5.8zM444.7,298.9l2.9,5.2h-5.8zM444.8,300.5l2.9,5.2h-5.8zM444.8,292.8l2.9,5.2h-5.8zM445.0,300.7l2.9,5.2h-5.8zM445.1,297.9l2.9,5.2h-5.8zM445.3,302.1l2.9,5.2h-5.8zM445.4,300.3l2.9,5.2h-5.8zM445.4,296.3l2.9,5.2h-5.8zM445.6,297.6l2.9,5.2h-5.8zM445.6,293.5l2.9,5.2h-5.8zM445.7,302.4l2.9,5.2h-5.8zM445.8,297.7l2.9,5.2h-5.8zM445.8,295.5l2.9,5.2h-5.8zM446.0,299.9l2.9,5.2h-5.8zM446.1,299.0l2.9,5.2h-5.8zM446.3,300.7l2.9,5.2h-5.8zM446.4,298.6l2.9,5.2h-5.8zM446.6,299.6l2.9,5.2h-5.8zM446.7,299.1l2.9,5.2h-5.8zM446.7,292.7l2.9,5.2h-5.8zM446.9,297.2l2.9,5.2h-5.8zM447.0,297.3l2.9,5.2h-5.8zM447.1,300.1l2.9,5.2h-5.8zM447.3,298.6l2.9,5.2h-5.8zM447.4,298.1l2.9,5.2h-5.8zM447.6,304.2l2.9,5.2h-5.8zM447.7,300.3l2.9,5.2h-5.8zM447.9,300.9l2.9,5.2h-5.8zM448.0,296.7l2.9,5.2h-5.8zM448.2,298.6l2.9,5.2h-5.8zM448.3,300.9l2.9,5.2h-5.8zM448.4,301.4l2.9,5.2h-5.8zM448.6,299.5l2.9,5.2h-5.8zM448.7,300.9l2.9,5.2h-5.8zM448.9,301.4l2.9,5.2h-5.8zM449.0,301.7l2.9,5.2h-5.8zM449.2,299.6l2.9,5.2h-5.8zM449.3,297.3l2.9,5.2h-5.8zM449.3,294.5l2.9,5.2h-5.8zM449.5,302.3l2.9,5.2h-5.8zM449.6,298.4l2.9,5.2h-5.8zM449.8,297.8l2.9,5.2h-5.8zM449.9,299.7l2.9,5.2h-5.8zM450.0,301.1l2.9,5.2h-5.8zM450.2,301.9l2.9,5.2h-5.8zM450.3,298.5l2.9,5.2h-5.8zM450.5,301.8l2.9,5.2h-5.8zM450.5,294.4l2.9,5.2h-5.8zM450.6,299.0l2.9,5.2h-5.8zM450.8,298.8l2.9,5.2h-5.8zM450.8,294.2l2.9,5.2h-5.8zM450.9,299.2l2.9,5.2h-5.8zM450.9,295.4l2.9,5.2h-5.8zM451.1,301.0l2.9,5.2h-5.8zM451.2,300.8l2.9,5.2h-5.8zM451.3,297.3l2.9,5.2h-5.8zM451.3,294.1l2.9,5.2h-5.8zM451.5,295.1l2.9,5.2h-5.8zM451.5,294.1l2.9,5.2h-5.8zM451.6,300.5l2.9,5.2h-5.8zM451.6,295.1l2.9,5.2h-5.8zM451.8,298.9l2.9,5.2h-5.8zM451.8,292.7l2.9,5.2h-5.8zM451.9,297.6l2.9,5.2h-5.8zM452.1,297.5l2.9,5.2h-5.8zM452.2,298.4l2.9,5.2h-5.8zM452.4,297.4l2.9,5.2h-5.8zM452.5,297.1l2.9,5.2h-5.8zM452.6,298.1l2.9,5.2h-5.8zM452.8,299.3l2.9,5.2h-5.8zM452.9,295.8l2.9,5.2h-5.8zM453.1,294.4l2.9,5.2h-5.8zM453.2,295.7l2.9,5.2h-5.8zM453.2,291.6l2.9,5.2h-5.8zM453.4,298.2l2.9,5.2h-5.8zM453.5,292.3l2.9,5.2h-5.8zM453.5,293.1l2.9,5.2h-5.8zM453.7,296.1l2.9,5.2h-5.8zM453.7,291.8l2.9,5.2h-5.8zM453.8,297.1l2.9,5.2h-5.8zM453.9,294.1l2.9,5.2h-5.8zM454.1,297.0l2.9,5.2h-5.8zM454.2,296.4l2.9,5.2h-5.8zM454.4,297.6l2.9,5.2h-5.8zM454.5,298.0l2.9,5.2h-5.8zM454.5,292.5l2.9,5.2h-5.8zM454.7,294.4l2.9,5.2h-5.8zM454.8,295.6l2.9,5.2h-5.8zM455.0,297.5l2.9,5.2h-5.8zM455.1,295.4l2.9,5.2h-5.8zM455.2,294.7l2.9,5.2h-5.8zM455.4,300.2l2.9,5.2h-5.8zM455.5,299.0l2.9,5.2h-5.8zM455.7,298.4l2.9,5.2h-5.8zM455.8,298.1l2.9,5.2h-5.8zM456.0,295.9l2.9,5.2h-5.8zM456.1,296.4l2.9,5.2h-5.8zM456.3,295.6l2.9,5.2h-5.8zM456.4,298.1l2.9,5.2h-5.8zM456.4,289.2l2.9,5.2h-5.8zM456.6,297.1l2.9,5.2h-5.8zM456.7,296.2l2.9,5.2h-5.8zM456.7,290.5l2.9,5.2h-5.8zM456.8,294.5l2.9,5.2h-5.8zM457.0,296.1l2.9,5.2h-5.8zM457.1,298.0l2.9,5.2h-5.8zM457.3,298.7l2.9,5.2h-5.8zM457.4,296.3l2.9,5.2h-5.8zM457.6,297.3l2.9,5.2h-5.8zM457.7,298.8l2.9,5.2h-5.8zM457.7,293.5l2.9,5.2h-5.8zM457.9,297.1l2.9,5.2h-5.8zM457.9,293.4l2.9,5.2h-5.8zM458.0,298.1l2.9,5.2h-5.8zM458.0,291.6l2.9,5.2h-5.8zM458.1,298.7l2.9,5.2h-5.8zM458.3,293.1l2.9,5.2h-5.8zM458.4,300.4l2.9,5.2h-5.8zM458.4,293.4l2.9,5.2h-5.8zM458.6,297.6l2.9,5.2h-5.8zM458.7,297.1l2.9,5.2h-5.8zM458.9,299.9l2.9,5.2h-5.8zM459.0,297.2l2.9,5.2h-5.8zM459.0,294.6l2.9,5.2h-5.8zM459.2,298.3l2.9,5.2h-5.8zM459.3,296.5l2.9,5.2h-5.8zM459.4,296.0l2.9,5.2h-5.8zM459.6,296.5l2.9,5.2h-5.8zM459.7,298.8l2.9,5.2h-5.8zM459.9,297.9l2.9,5.2h-5.8zM460.0,298.7l2.9,5.2h-5.8zM460.2,294.5l2.9,5.2h-5.8zM460.3,296.3l2.9,5.2h-5.8zM460.5,302.0l2.9,5.2h-5.8zM460.6,299.3l2.9,5.2h-5.8zM460.7,297.6l2.9,5.2h-5.8zM460.9,298.4l2.9,5.2h-5.8zM460.9,293.9l2.9,5.2h-5.8zM461.0,299.7l2.9,5.2h-5.8zM461.2,294.8l2.9,5.2h-5.8zM461.3,298.5l2.9,5.2h-5.8zM461.5,297.0l2.9,5.2h-5.8zM461.6,295.6l2.9,5.2h-5.8zM461.8,294.5l2.9,5.2h-5.8zM461.9,300.0l2.9,5.2h-5.8zM462.0,298.5l2.9,5.2h-5.8zM462.2,294.3l2.9,5.2h-5.8zM462.3,298.0l2.9,5.2h-5.8zM462.5,296.3l2.9,5.2h-5.8zM462.6,296.2l2.9,5.2h-5.8zM462.8,297.0l2.9,5.2h-5.8zM462.9,298.4l2.9,5.2h-5.8zM463.1,297.9l2.9,5.2h-5.8zM463.2,299.8l2.9,5.2h-5.8zM463.4,293.9l2.9,5.2h-5.8zM463.5,296.3l2.9,5.2h-5.8zM463.6,299.6l2.9,5.2h-5.8zM463.8,295.7l2.9,5.2h-5.8zM463.9,297.3l2.9,5.2h-5.8zM463.9,288.8l2.9,5.2h-5.8zM464.1,298.1l2.9,5.2h-5.8zM464.2,298.3l2.9,5.2h-5.8zM464.4,296.3l2.9,5.2h-5.8zM464.5,297.9l2.9,5.2h-5.8zM464.7,295.5l2.9,5.2h-5.8zM464.8,297.3l2.9,5.2h-5.8zM464.9,298.5l2.9,5.2h-5.8zM465.1,297.9l2.9,5.2h-5.8zM465.2,298.9l2.9,5.2h-5.8zM465.4,297.8l2.9,5.2h-5.8zM465.5,300.0l2.9,5.2h-5.8zM465.7,297.6l2.9,5.2h-5.8zM465.7,294.5l2.9,5.2h-5.8zM465.8,296.3l2.9,5.2h-5.8zM466.0,294.0l2.9,5.2h-5.8zM466.1,299.0l2.9,5.2h-5.8zM466.1,291.7l2.9,5.2h-5.8zM466.2,297.7l2.9,5.2h-5.8zM466.4,297.2l2.9,5.2h-5.8zM466.5,298.1l2.9,5.2h-5.8zM466.5,291.2l2.9,5.2h-5.8zM466.7,295.6l2.9,5.2h-5.8zM466.7,290.4l2.9,5.2h-5.8zM466.8,297.2l2.9,5.2h-5.8zM467.0,297.7l2.9,5.2h-5.8zM467.0,290.5l2.9,5.2h-5.8zM467.1,296.6l2.9,5.2h-5.8zM467.3,302.4l2.9,5.2h-5.8zM467.4,294.9l2.9,5.2h-5.8zM467.5,297.6l2.9,5.2h-5.8zM467.7,298.8l2.9,5.2h-5.8zM467.8,299.6l2.9,5.2h-5.8zM467.8,294.1l2.9,5.2h-5.8zM468.0,296.8l2.9,5.2h-5.8zM468.1,297.7l2.9,5.2h-5.8zM468.3,295.4l2.9,5.2h-5.8zM468.4,297.4l2.9,5.2h-5.8zM468.6,296.8l2.9,5.2h-5.8zM468.7,297.4l2.9,5.2h-5.8zM468.7,292.2l2.9,5.2h-5.8zM468.8,297.9l2.9,5.2h-5.8zM469.0,296.7l2.9,5.2h-5.8zM469.1,293.4l2.9,5.2h-5.8zM469.3,300.7l2.9,5.2h-5.8zM469.4,299.5l2.9,5.2h-5.8zM469.6,295.2l2.9,5.2h-5.8zM469.7,301.0l2.9,5.2h-5.8zM469.7,294.4l2.9,5.2h-5.8zM469.9,298.2l2.9,5.2h-5.8zM470.0,297.3l2.9,5.2h-5.8zM470.2,293.8l2.9,5.2h-5.8zM470.3,298.7l2.9,5.2h-5.8zM470.3,293.7l2.9,5.2h-5.8zM470.4,301.7l2.9,5.2h-5.8zM470.4,292.7l2.9,5.2h-5.8zM470.6,300.8l2.9,5.2h-5.8zM470.7,298.2l2.9,5.2h-5.8zM470.9,296.9l2.9,5.2h-5.8zM470.9,294.0l2.9,5.2h-5.8zM471.0,296.0l2.9,5.2h-5.8zM471.2,296.0l2.9,5.2h-5.8zM471.3,296.0l2.9,5.2h-5.8zM471.5,296.7l2.9,5.2h-5.8zM471.6,297.6l2.9,5.2h-5.8zM471.7,295.5l2.9,5.2h-5.8zM471.7,293.3l2.9,5.2h-5.8zM471.9,298.7l2.9,5.2h-5.8zM472.0,297.9l2.9,5.2h-5.8zM472.2,296.2l2.9,5.2h-5.8zM472.2,292.3l2.9,5.2h-5.8zM472.3,296.9l2.9,5.2h-5.8zM472.5,297.3l2.9,5.2h-5.8zM472.5,293.8l2.9,5.2h-5.8zM472.6,296.3l2.9,5.2h-5.8zM472.8,294.1l2.9,5.2h-5.8zM472.9,298.2l2.9,5.2h-5.8zM472.9,294.1l2.9,5.2h-5.8zM473.0,295.8l2.9,5.2h-5.8zM473.2,296.7l2.9,5.2h-5.8zM473.3,297.7l2.9,5.2h-5.8zM473.5,295.5l2.9,5.2h-5.8zM473.6,298.5l2.9,5.2h-5.8zM473.8,296.5l2.9,5.2h-5.8zM473.9,296.1l2.9,5.2h-5.8zM474.1,297.6l2.9,5.2h-5.8zM474.2,297.1l2.9,5.2h-5.8zM474.3,298.1l2.9,5.2h-5.8zM474.5,294.6l2.9,5.2h-5.8zM474.6,295.2l2.9,5.2h-5.8zM474.8,298.4l2.9,5.2h-5.8zM474.8,293.9l2.9,5.2h-5.8zM474.9,297.0l2.9,5.2h-5.8zM475.1,294.4l2.9,5.2h-5.8zM475.1,291.1l2.9,5.2h-5.8zM475.2,296.6l2.9,5.2h-5.8zM475.4,297.3l2.9,5.2h-5.8zM475.5,296.3l2.9,5.2h-5.8zM475.6,296.6l2.9,5.2h-5.8zM475.8,292.7l2.9,5.2h-5.8zM475.9,298.5l2.9,5.2h-5.8zM476.1,296.3l2.9,5.2h-5.8zM476.2,296.0l2.9,5.2h-5.8zM476.4,295.2l2.9,5.2h-5.8zM476.5,297.6l2.9,5.2h-5.8zM476.7,299.2l2.9,5.2h-5.8zM476.8,295.7l2.9,5.2h-5.8zM476.9,297.6l2.9,5.2h-5.8zM476.9,291.3l2.9,5.2h-5.8zM477.1,296.3l2.9,5.2h-5.8zM477.2,293.9l2.9,5.2h-5.8zM477.2,292.0l2.9,5.2h-5.8zM477.4,292.6l2.9,5.2h-5.8zM477.5,293.5l2.9,5.2h-5.8zM477.5,292.5l2.9,5.2h-5.8zM477.7,299.6l2.9,5.2h-5.8zM477.8,297.1l2.9,5.2h-5.8zM478.0,297.8l2.9,5.2h-5.8zM478.1,301.2l2.9,5.2h-5.8zM478.3,299.4l2.9,5.2h-5.8zM478.4,296.8l2.9,5.2h-5.8zM478.5,297.9l2.9,5.2h-5.8zM478.7,299.0l2.9,5.2h-5.8zM478.8,300.4l2.9,5.2h-5.8zM478.8,293.5l2.9,5.2h-5.8zM479.0,300.8l2.9,5.2h-5.8zM479.1,297.7l2.9,5.2h-5.8zM479.3,299.8l2.9,5.2h-5.8zM479.4,300.0l2.9,5.2h-5.8zM479.6,298.3l2.9,5.2h-5.8zM479.6,294.8l2.9,5.2h-5.8zM479.7,301.3l2.9,5.2h-5.8zM479.8,299.2l2.9,5.2h-5.8zM480.0,297.9l2.9,5.2h-5.8zM480.0,295.2l2.9,5.2h-5.8zM480.1,299.8l2.9,5.2h-5.8zM480.3,302.1l2.9,5.2h-5.8zM480.4,299.8l2.9,5.2h-5.8zM480.6,303.4l2.9,5.2h-5.8zM480.7,300.1l2.9,5.2h-5.8zM480.9,300.3l2.9,5.2h-5.8zM481.0,302.3l2.9,5.2h-5.8zM481.1,301.7l2.9,5.2h-5.8zM481.1,298.3l2.9,5.2h-5.8zM481.3,302.2l2.9,5.2h-5.8zM481.4,299.0l2.9,5.2h-5.8zM481.6,302.3l2.9,5.2h-5.8zM481.7,303.6l2.9,5.2h-5.8zM481.9,301.3l2.9,5.2h-5.8zM481.9,298.5l2.9,5.2h-5.8zM482.0,302.3l2.9,5.2h-5.8zM482.0,296.5l2.9,5.2h-5.8zM482.2,304.3l2.9,5.2h-5.8zM482.3,303.0l2.9,5.2h-5.8zM482.4,299.1l2.9,5.2h-5.8zM482.4,297.9l2.9,5.2h-5.8zM482.6,302.0l2.9,5.2h-5.8zM482.6,299.0l2.9,5.2h-5.8zM482.7,302.5l2.9,5.2h-5.8zM482.9,301.5l2.9,5.2h-5.8zM483.0,303.6l2.9,5.2h-5.8zM483.0,292.2l2.9,5.2h-5.8zM483.2,301.0l2.9,5.2h-5.8zM483.3,298.2l2.9,5.2h-5.8zM483.5,301.7l2.9,5.2h-5.8z" fill="none" stroke="#3f3f3f" stroke-width="1"/>
<path d="M383.9,75.3l2.9,5.2h-5.8zM384.1,75.8l2.9,5.2h-5.8zM384.4,73.4l2.9,5.2h-5.8zM384.5,72.1l2.9,5.2h-5.8zM384.7,78.8l2.9,5.2h-5.8zM385.4,52.1l2.9,5.2h-5.8zM386.0,80.4l2.9,5.2h-5.8zM386.2,80.1l2.9,5.2h-5.8zM386.5,74.2l2.9,5.2h-5.8zM386.7,69.9l2.9,5.2h-5.8zM387.1,70.5l2.9,5.2h-5.8zM387.2,65.5l2.9,5.2h-5.8zM387.3,57.7l2.9,5.2h-5.8zM387.5,78.1l2.9,5.2h-5.8zM388.0,76.3l2.9,5.2h-5.8zM388.4,66.7l2.9,5.2h-5.8zM388.6,59.9l2.9,5.2h-5.8zM388.6,67.4l2.9,5.2h-5.8zM388.8,62.1l2.9,5.2h-5.8zM389.2,64.0l2.9,5.2h-5.8zM389.8,70.0l2.9,5.2h-5.8zM390.7,80.4l2.9,5.2h-5.8zM390.8,65.1l2.9,5.2h-5.8zM390.9,83.9l2.9,5.2h-5.8zM391.6,70.1l2.9,5.2h-5.8zM393.2,109.7l2.9,5.2h-5.8zM393.3,97.4l2.9,5.2h-5.8zM388.7,46.7l2.9,5.2h-5.8zM391.3,60.6l2.9,5.2h-5.8zM391.9,57.1l2.9,5.2h-5.8zM394.2,156.3l2.9,5.2h-5.8zM394.3,165.0l2.9,5.2h-5.8zM394.5,225.9l2.9,5.2h-5.8zM394.6,248.5l2.9,5.2h-5.8zM394.6,265.9l2.9,5.2h-5.8zM394.3,196.3l2.9,5.2h-5.8zM409.8,295.1l2.9,5.2h-5.8zM413.2,293.4l2.9,5.2h-5.8zM426.2,284.6l2.9,5.2h-5.8zM430.1,288.1l2.9,5.2h-5.8zM439.0,285.0l2.9,5.2h-5.8zM446.1,287.3l2.9,5.2h-5.8zM472.6,290.2l2.9,5.2h-5.8zM397.4,290.3l2.9,5.2h-5.8zM399.6,292.0l2.9,5.2h-5.8zM408.2,286.8l2.9,5.2h-5.8zM419.1,290.3l2.9,5.2h-5.8zM425.9,274.6l2.9,5.2h-5.8zM426.6,279.8l2.9,5.2h-5.8zM427.5,271.1l2.9,5.2h-5.8zM477.7,292.0l2.9,5.2h-5.8z" fill="none" stroke="#7a7a7a" stroke-width="0.8"/>
<path d="M384.8,353.5a2.8,2.8 0 1 0 -5.6,0a2.8,2.8 0 1 0 5.6,0M384.9,359.1a2.8,2.8 0 1 0 -5.6,0a2.8,2.8 0 1 0 5.6,0M385.0,355.6a2.8,2.8 0 1 0 -5.6,0a2.8,2.8 0 1 0 5.6,0M385.1,357.7a2.8,2.8 0 1 0 -5.6,0a2.8,2.8 0 1 0 5.6,0M385.1,354.8a2.8,2.8 0 1 0 -5.6,0a2.8,2.8 0 1 0 5.6,0M385.2,359.8a2.8,2.8 0 1 0 -5.6,0a2.8,2.8 0 1 0 5.6,0M385.3,354.2a2.8,2.8 0 1 0 -5.6,0a2.8,2.8 0 1 0 5.6,0M385.4,349.8a2.8,2.8 0 1 0 -5.6,0a2.8,2.8 0 1 0 5.6,0M385.4,357.8a2.8,2.8 0 1 0 -5.6,0a2.8,2.8 0 1 0 5.6,0M385.5,355.5a2.8,2.8 0 1 0 -5.6,0a2.8,2.8 0 1 0 5.6,0M385.6,356.6a2.8,2.8 0 1 0 -5.6,0a2.8,2.8 0 1 0 5.6,0M385.6,350.0a2.8,2.8 0 1 0 -5.6,0a2.8,2.8 0 1 0 5.6,0M385.7,353.6a2.8,2.8 0 1 0 -5.6,0a2.8,2.8 0 1 0 5.6,0M385.8,353.1a2.8,2.8 0 1 0 -5.6,0a2.8,2.8 0 1 0 5.6,0M385.9,353.1a2.8,2.8 0 1 0 -5.6,0a2.8,2.8 0 1 0 5.6,0M385.9,349.5a2.8,2.8 0 1 0 -5.6,0a2.8,2.8 0 1 0 5.6,0M386.0,351.3a2.8,2.8 0 1 0 -5.6,0a2.8,2.8 0 1 0 5.6,0M386.1,348.8a2.8,2.8 0 1 0 -5.6,0a2.8,2.8 0 1 0 5.6,0M386.1,351.4a2.8,2.8 0 1 0 -5.6,0a2.8,2.8 0 1 0 5.6,0M386.2,350.9a2.8,2.8 0 1 0 -5.6,0a2.8,2.8 0 1 0 5.6,0M386.3,347.9a2.8,2.8 0 1 0 -5.6,0a2.8,2.8 0 1 0 5.6,0M386.4,352.6a2.8,2.8 0 1 0 -5.6,0a2.8,2.8 0 1 0 5.6,0M386.4,350.7a2.8,2.8 0 1 0 -5.6,0a2.8,2.8 0 1 0 5.6,0M386.5,351.2a2.8,2.8 0 1 0 -5.6,0a2.8,2.8 0 1 0 5.6,0M386.6,350.8a2.8,2.8 0 1 0 -5.6,0a2.8,2.8 0 1 0 5.6,0M386.7,350.5a2.8,2.8 0 1 0 -5.6,0a2.8,2.8 0 1 0 5.6,0M386.7,349.8a2.8,2.8 0 1 0 -5.6,0a2.8,2.8 0 1 0 5.6,0M386.8,356.3a2.8,2.8 0 1 0 -5.6,0a2.8,2.8 0 1 0 5.6,0M386.9,351.1a2.8,2.8 0 1 0 -5.6,0a2.8,2.8 0 1 0 5.6,0M386.9,351.0a2.8,2.8 0 1 0 -5.6,0a2.8,2.8 0 1 0 5.6,0M387.0,345.5a2.8,2.8 0 1 0 -5.6,0a2.8,2.8 0 1 0 5.6,0M387.1,352.2a2.8,2.8 0 1 0 -5.6,0a2.8,2.8 0 1 0 5.6,0M387.2,350.7a2.8,2.8 0 1 0 -5.6,0a2.8,2.8 0 1 0 5.6,0M387.2,353.3a2.8,2.8 0 1 0 -5.6,0a2.8,2.8 0 1 0 5.6,0M387.3,353.4a2.8,2.8 0 1 0 -5.6,0a2.8,2.8 0 1 0 5.6,0M387.4,348.7a2.8,2.8 0 1 0 -5.6,0a2.8,2.8 0 1 0 5.6,0M387.5,352.2a2.8,2.8 0 1 0 -5.6,0a2.8,2.8 0 1 0 5.6,0M387.5,352.8a2.8,2.8 0 1 0 -5.6,0a2.8,2.8 0 1 0 5.6,0M387.6,349.0a2.8,2.8 0 1 0 -5.6,0a2.8,2.8 0 1 0 5.6,0M387.7,347.5a2.8,2.8 0 1 0 -5.6,0a2.8,2.8 0 1 0 5.6,0M387.7,350.6a2.8,2.8 0 1 0 -5.6,0a2.8,2.8 0 1 0 5.6,0M387.8,346.1a2.8,2.8 0 1 0 -5.6,0a2.8,2.8 0 1 0 5.6,0M387.9,348.7a2.8,2.8 0 1 0 -5.6,0a2.8,2.8 0 1 0 5.6,0M388.0,352.2a2.8,2.8 0 1 0 -5.6,0a2.8,2.8 0 1 0 5.6,0M388.0,350.5a2.8,2.8 0 1 0 -5.6,0a2.8,2.8 0 1 0 5.6,0M388.1,350.1a2.8,2.8 0 1 0 -5.6,0a2.8,2.8 0 1 0 5.6,0M388.2,348.6a2.8,2.8 0 1 0 -5.6,0a2.8,2.8 0 1 0 5.6,0M388.2,348.1a2.8,2.8 0 1 0 -5.6,0a2.8,2.8 0 1 0 5.6,0M388.3,349.9a2.8,2.8 0 1 0 -5.6,0a2.8,2.8 0 1 0 5.6,0M388.4,348.2a2.8,2.8 0 1 0 -5.6,0a2.8,2.8 0 1 0 5.6,0M388.5,354.0a2.8,2.8 0 1 0 -5.6,0a2.8,2.8 0 1 0 5.6,0M388.5,353.8a2.8,2.8 0 1 0 -5.6,0a2.8,2.8 0 1 0 5.6,0M388.6,347.6a2.8,2.8 0 1 0 -5.6,0a2.8,2.8 0 1 0 5.6,0M388.7,354.4a2.8,2.8 0 1 0 -5.6,0a2.8,2.8 0 1 0 5.6,0M388.8,350.4a2.8,2.8 0 1 0 -5.6,0a2.8,2.8 0 1 0 5.6,0M388.8,351.8a2.8,2.8 0 1 0 -5.6,0a2.8,2.8 0 1 0 5.6,0M388.9,351.7a2.8,2.8 0 1 0 -5.6,0a2.8,2.8 0 1 0 5.6,0M389.0,349.1a2.8,2.8 0 1 0 -5.6,0a2.8,2.8 0 1 0 5.6,0M389.0,352.6a2.8,2.8 0 1 0 -5.6,0a2.8,2.8 0 1 0 5.6,0M389.1,350.8a2.8,2.8 0 1 0 -5.6,0a2.8,2.8 0 1 0 5.6,0M389.2,348.6a2.8,2.8 0 1 0 -5.6,0a2.8,2.8 0 1 0 5.6,0M389.3,345.5a2.8,2.8 0 1 0 -5.6,0a2.8,2.8 0 1 0 5.6,0M389.3,350.5a2.8,2.8 0 1 0 -5.6,0a2.8,2.8 0 1 0 5.6,0M389.4,346.6a2.8,2.8 0 1 0 -5.6,0a2.8,2.8 0 1 0 5.6,0M389.5,345.4a2.8,2.8 0 1 0 -5.6,0a2.8,2.8 0 1 0 5.6,0M389.5,350.7a2.8,2.8 0 1 0 -5.6,0a2.8,2.8 0 1 0 5.6,0M389.6,349.1a2.8,2.8 0 1 0 -5.6,0a2.8,2.8 0 1 0 5.6,0M389.7,350.3a2.8,2.8 0 1 0 -5.6,0a2.8,2.8 0 1 0 5.6,0M389.8,348.1a2.8,2.8 0 1 0 -5.6,0a2.8,2.8 0 1 0 5.6,0M389.8,345.9a2.8,2.8 0 1 0 -5.6,0a2.8,2.8 0 1 0 5.6,0M389.9,344.4a2.8,2.8 0 1 0 -5.6,0a2.8,2.8 0 1 0 5.6,0M390.0,346.4a2.8,2.8 0 1 0 -5.6,0a2.8,2.8 0 1 0 5.6,0M390.1,350.8a2.8,2.8 0 1 0 -5.6,0a2.8,2.8 0 1 0 5.6,0M390.1,347.3a2.8,2.8 0 1 0 -5.6,0a2.8,2.8 0 1 0 5.6,0M390.2,352.1a2.8,2.8 0 1 0 -5.6,0a2.8,2.8 0 1 0 5.6,0M390.3,347.4a2.8,2.8 0 1 0 -5.6,0a2.8,2.8 0 1 0 5.6,0M390.3,347.4a2.8,2.8 0 1 0 -5.6,0a2.8,2.8 0 1 0 5.6,0M390.4,348.2a2.8,2.8 0 1 0 -5.6,0a2.8,2.8 0 1 0 5.6,0M390.5,343.8a2.8,2.8 0 1 0 -5.6,0a2.8,2.8 0 1 0 5.6,0M390.6,349.7a2.8,2.8 0 1 0 -5.6,0a2.8,2.8 0 1 0 5.6,0M390.6,347.1a2.8,2.8 0 1 0 -5.6,0a2.8,2.8 0 1 0 5.6,0M390.7,348.7a2.8,2.8 0 1 0 -5.6,0a2.8,2.8 0 1 0 5.6,0M390.8,345.9a2.8,2.8 0 1 0 -5.6,0a2.8,2.8 0 1 0 5.6,0M390.8,345.2a2.8,2.8 0 1 0 -5.6,0a2.8,2.8 0 1 0 5.6,0M390.9,347.1a2.8,2.8 0 1 0 -5.6,0a2.8,2.8 0 1 0 5.6,0M391.0,343.5a2.8,2.8 0 1 0 -5.6,0a2.8,2.8 0 1 0 5.6,0M391.1,344.1a2.8,2.8 0 1 0 -5.6,0a2.8,2.8 0 1 0 5.6,0M391.1,349.4a2.8,2.8 0 1 0 -5.6,0a2.8,2.8 0 1 0 5.6,0M391.2,342.3a2.8,2.8 0 1 0 -5.6,0a2.8,2.8 0 1 0 5.6,0M391.3,349.5a2.8,2.8 0 1 0 -5.6,0a2.8,2.8 0 1 0 5.6,0M391.4,350.7a2.8,2.8 0 1 0 -5.6,0a2.8,2.8 0 1 0 5.6,0M391.4,349.8a2.8,2.8 0 1 0 -5.6,0a2.8,2.8 0 1 0 5.6,0M391.5,345.5a2.8,2.8 0 1 0 -5.6,0a2.8,2.8 0 1 0 5.6,0M391.6,352.0a2.8,2.8 0 1 0 -5.6,0a2.8,2.8 0 1 0 5.6,0M391.6,348.5a2.8,2.8 0 1 0 -5.6,0a2.8,2.8 0 1 0 5.6,0M391.7,345.4a2.8,2.8 0 1 0 -5.6,0a2.8,2.8 0 1 0 5.6,0M391.8,346.6a2.8,2.8 0 1 0 -5.6,0a2.8,2.8 0 1 0 5.6,0M391.9,351.2a2.8,2.8 0 1 0 -5.6,0a2.8,2.8 0 1 0 5.6,0M391.9,344.4a2.8,2.8 0 1 0 -5.6,0a2.8,2.8 0 1 0 5.6,0M392.0,351.5a2.8,2.8 0 1 0 -5.6,0a2.8,2.8 0 1 0 5.6,0M392.1,348.0a2.8,2.8 0 1 0 -5.6,0a2.8,2.8 0 1 0 5.6,0M392.2,350.9a2.8,2.8 0 1 0 -5.6,0a2.8,2.8 0 1 0 5.6,0M392.2,342.2a2.8,2.8 0 1 0 -5.6,0a2.8,2.8 0 1 0 5.6,0M392.3,353.7a2.8,2.8 0 1 0 -5.6,0a2.8,2.8 0 1 0 5.6,0M392.4,346.5a2.8,2.8 0 1 0 -5.6,0a2.8,2.8 0 1 0 5.6,0M392.4,347.5a2.8,2.8 0 1 0 -5.6,0a2.8,2.8 0 1 0 5.6,0M392.5,350.7a2.8,2.8 0 1 0 -5.6,0a2.8,2.8 0 1 0 5.6,0M392.6,348.8a2.8,2.8 0 1 0 -5.6,0a2.8,2.8 0 1 0 5.6,0M392.7,347.6a2.8,2.8 0 1 0 -5.6,0a2.8,2.8 0 1 0 5.6,0M392.7,348.8a2.8,2.8 0 1 0 -5.6,0a2.8,2.8 0 1 0 5.6,0M392.8,346.8a2.8,2.8 0 1 0 -5.6,0a2.8,2.8 0 1 0 5.6,0M392.9,346.4a2.8,2.8 0 1 0 -5.6,0a2.8,2.8 0 1 0 5.6,0M392.9,346.9a2.8,2.8 0 1 0 -5.6,0a2.8,2.8 0 1 0 5.6,0M393.0,348.9a2.8,2.8 0 1 0 -5.6,0a2.8,2.8 0 1 0 5.6,0M393.1,352.7a2.8,2.8 0 1 0 -5.6,0a2.8,2.8 0 1 0 5.6,0M393.2,354.8a2.8,2.8 0 1 0 -5.6,0a2.8,2.8 0 1 0 5.6,0M393.2,348.1a2.8,2.8 0 1 0 -5.6,0a2.8,2.8 0 1 0 5.6,0M393.3,352.6a2.8,2.8 0 1 0 -5.6,0a2.8,2.8 0 1 0 5.6,0M393.4,348.5a2.8,2.8 0 1 0 -5.6,0a2.8,2.8 0 1 0 5.6,0M393.5,349.9a2.8,2.8 0 1 0 -5.6,0a2.8,2.8 0 1 0 5.6,0M393.5,350.3a2.8,2.8 0 1 0 -5.6,0a2.8,2.8 0 1 0 5.6,0M393.6,349.7a2.8,2.8 0 1 0 -5.6,0a2.8,2.8 0 1 0 5.6,0M393.7,348.9a2.8,2.8 0 1 0 -5.6,0a2.8,2.8 0 1 0 5.6,0M393.7,346.5a2.8,2.8 0 1 0 -5.6,0a2.8,2.8 0 1 0 5.6,0M393.8,350.5a2.8,2.8 0 1 0 -5.6,0a2.8,2.8 0 1 0 5.6,0M393.9,349.8a2.8,2.8 0 1 0 -5.6,0a2.8,2.8 0 1 0 5.6,0M394.0,344.4a2.8,2.8 0 1 0 -5.6,0a2.8,2.8 0 1 0 5.6,0M394.0,348.3a2.8,2.8 0 1 0 -5.6,0a2.8,2.8 0 1 0 5.6,0M394.1,348.4a2.8,2.8 0 1 0 -5.6,0a2.8,2.8 0 1 0 5.6,0M394.2,348.1a2.8,2.8 0 1 0 -5.6,0a2.8,2.8 0 1 0 5.6,0M394.2,347.3a2.8,2.8 0 1 0 -5.6,0a2.8,2.8 0 1 0 5.6,0M394.3,345.3a2.8,2.8 0 1 0 -5.6,0a2.8,2.8 0 1 0 5.6,0M394.4,347.6a2.8,2.8 0 1 0 -5.6,0a2.8,2.8 0 1 0 5.6,0M394.5,345.0a2.8,2.8 0 1 0 -5.6,0a2.8,2.8 0 1 0 5.6,0M394.5,342.6a2.8,2.8 0 1 0 -5.6,0a2.8,2.8 0 1 0 5.6,0M394.6,342.2a2.8,2.8 0 1 0 -5.6,0a2.8,2.8 0 1 0 5.6,0M394.7,343.9a2.8,2.8 0 1 0 -5.6,0a2.8,2.8 0 1 0 5.6,0M394.8,344.2a2.8,2.8 0 1 0 -5.6,0a2.8,2.8 0 1 0 5.6,0M394.8,339.3a2.8,2.8 0 1 0 -5.6,0a2.8,2.8 0 1 0 5.6,0M394.9,340.8a2.8,2.8 0 1 0 -5.6,0a2.8,2.8 0 1 0 5.6,0M395.0,342.2a2.8,2.8 0 1 0 -5.6,0a2.8,2.8 0 1 0 5.6,0M395.0,341.5a2.8,2.8 0 1 0 -5.6,0a2.8,2.8 0 1 0 5.6,0M395.1,341.0a2.8,2.8 0 1 0 -5.6,0a2.8,2.8 0 1 0 5.6,0M395.2,340.5a2.8,2.8 0 1 0 -5.6,0a2.8,2.8 0 1 0 5.6,0M395.3,333.4a2.8,2.8 0 1 0 -5.6,0a2.8,2.8 0 1 0 5.6,0M395.3,339.1a2.8,2.8 0 1 0 -5.6,0a2.8,2.8 0 1 0 5.6,0M395.4,339.5a2.8,2.8 0 1 0 -5.6,0a2.8,2.8 0 1 0 5.6,0M395.5,336.1a2.8,2.8 0 1 0 -5.6,0a2.8,2.8 0 1 0 5.6,0M395.6,334.1a2.8,2.8 0 1 0 -5.6,0a2.8,2.8 0 1 0 5.6,0M395.6,333.8a2.8,2.8 0 1 0 -5.6,0a2.8,2.8 0 1 0 5.6,0M395.7,329.3a2.8,2.8 0 1 0 -5.6,0a2.8,2.8 0 1 0 5.6,0M395.8,330.8a2.8,2.8 0 1 0 -5.6,0a2.8,2.8 0 1 0 5.6,0M395.8,334.1a2.8,2.8 0 1 0 -5.6,0a2.8,2.8 0 1 0 5.6,0M395.9,331.1a2.8,2.8 0 1 0 -5.6,0a2.8,2.8 0 1 0 5.6,0M396.0,331.0a2.8,2.8 0 1 0 -5.6,0a2.8,2.8 0 1 0 5.6,0M396.1,325.2a2.8,2.8 0 1 0 -5.6,0a2.8,2.8 0 1 0 5.6,0M396.1,322.2a2.8,2.8 0 1 0 -5.6,0a2.8,2.8 0 1 0 5.6,0M396.2,321.8a2.8,2.8 0 1 0 -5.6,0a2.8,2.8 0 1 0 5.6,0M396.3,321.3a2.8,2.8 0 1 0 -5.6,0a2.8,2.8 0 1 0 5.6,0M396.3,317.2a2.8,2.8 0 1 0 -5.6,0a2.8,2.8 0 1 0 5.6,0M396.4,320.6a2.8,2.8 0 1 0 -5.6,0a2.8,2.8 0 1 0 5.6,0M396.5,316.1a2.8,2.8 0 1 0 -5.6,0a2.8,2.8 0 1 0 5.6,0M396.6,315.1a2.8,2.8 0 1 0 -5.6,0a2.8,2.8 0 1 0 5.6,0M396.6,312.2a2.8,2.8 0 1 0 -5.6,0a2.8,2.8 0 1 0 5.6,0M397.3,85.4a2.8,2.8 0 1 0 -5.6,0a2.8,2.8 0 1 0 5.6,0M397.4,88.4a2.8,2.8 0 1 0 -5.6,0a2.8,2.8 0 1 0 5.6,0M397.6,84.5a2.8,2.8 0 1 0 -5.6,0a2.8,2.8 0 1 0 5.6,0M397.7,88.7a2.8,2.8 0 1 0 -5.6,0a2.8,2.8 0 1 0 5.6,0M397.9,84.2a2.8,2.8 0 1 0 -5.6,0a2.8,2.8 0 1 0 5.6,0M398.0,84.1a2.8,2.8 0 1 0 -5.6,0a2.8,2.8 0 1 0 5.6,0M398.2,83.9a2.8,2.8 0 1 0 -5.6,0a2.8,2.8 0 1 0 5.6,0M398.3,81.4a2.8,2.8 0 1 0 -5.6,0a2.8,2.8 0 1 0 5.6,0M398.4,86.5a2.8,2.8 0 1 0 -5.6,0a2.8,2.8 0 1 0 5.6,0M398.6,84.5a2.8,2.8 0 1 0 -5.6,0a2.8,2.8 0 1 0 5.6,0M398.7,86.0a2.8,2.8 0 1 0 -5.6,0a2.8,2.8 0 1 0 5.6,0M398.9,83.4a2.8,2.8 0 1 0 -5.6,0a2.8,2.8 0 1 0 5.6,0M399.0,84.1a2.8,2.8 0 1 0 -5.6,0a2.8,2.8 0 1 0 5.6,0M399.2,83.6a2.8,2.8 0 1 0 -5.6,0a2.8,2.8 0 1 0 5.6,0M399.3,84.3a2.8,2.8 0 1 0 -5.6,0a2.8,2.8 0 1 0 5.6,0M399.5,87.3a2.8,2.8 0 1 0 -5.6,0a2.8,2.8 0 1 0 5.6,0M399.6,83.2a2.8,2.8 0 1 0 -5.6,0a2.8,2.8 0 1 0 5.6,0M399.7,82.1a2.8,2.8 0 1 0 -5.6,0a2.8,2.8 0 1 0 5.6,0M399.9,83.6a2.8,2.8 0 1 0 -5.6,0a2.8,2.8 0 1 0 5.6,0M400.0,79.3a2.8,2.8 0 1 0 -5.6,0a2.8,2.8 0 1 0 5.6,0M400.2,80.5a2.8,2.8 0 1 0 -5.6,0a2.8,2.8 0 1 0 5.6,0M400.3,80.0a2.8,2.8 0 1 0 -5.6,0a2.8,2.8 0 1 0 5.6,0M400.5,84.3a2.8,2.8 0 1 0 -5.6,0a2.8,2.8 0 1 0 5.6,0M400.6,84.1a2.8,2.8 0 1 0 -5.6,0a2.8,2.8 0 1 0 5.6,0M400.8,77.4a2.8,2.8 0 1 0 -5.6,0a2.8,2.8 0 1 0 5.6,0M400.9,76.2a2.8,2.8 0 1 0 -5.6,0a2.8,2.8 0 1 0 5.6,0M401.0,80.4a2.8,2.8 0 1 0 -5.6,0a2.8,2.8 0 1 0 5.6,0M401.2,84.5a2.8,2.8 0 1 0 -5.6,0a2.8,2.8 0 1 0 5.6,0M401.3,83.3a2.8,2.8 0 1 0 -5.6,0a2.8,2.8 0 1 0 5.6,0M401.5,72.6a2.8,2.8 0 1 0 -5.6,0a2.8,2.8 0 1 0 5.6,0M401.6,84.9a2.8,2.8 0 1 0 -5.6,0a2.8,2.8 0 1 0 5.6,0M401.8,77.8a2.8,2.8 0 1 0 -5.6,0a2.8,2.8 0 1 0 5.6,0M401.9,79.2a2.8,2.8 0 1 0 -5.6,0a2.8,2.8 0 1 0 5.6,0M402.1,75.9a2.8,2.8 0 1 0 -5.6,0a2.8,2.8 0 1 0 5.6,0M402.2,75.5a2.8,2.8 0 1 0 -5.6,0a2.8,2.8 0 1 0 5.6,0M402.4,78.8a2.8,2.8 0 1 0 -5.6,0a2.8,2.8 0 1 0 5.6,0M402.5,76.1a2.8,2.8 0 1 0 -5.6,0a2.8,2.8 0 1 0 5.6,0M402.6,82.5a2.8,2.8 0 1 0 -5.6,0a2.8,2.8 0 1 0 5.6,0M402.8,76.3a2.8,2.8 0 1 0 -5.6,0a2.8,2.8 0 1 0 5.6,0M402.9,80.1a2.8,2.8 0 1 0 -5.6,0a2.8,2.8 0 1 0 5.6,0M403.1,74.8a2.8,2.8 0 1 0 -5.6,0a2.8,2.8 0 1 0 5.6,0M403.2,77.0a2.8,2.8 0 1 0 -5.6,0a2.8,2.8 0 1 0 5.6,0M403.4,75.6a2.8,2.8 0 1 0 -5.6,0a2.8,2.8 0 1 0 5.6,0M403.5,78.9a2.8,2.8 0 1 0 -5.6,0a2.8,2.8 0 1 0 5.6,0M403.7,80.6a2.8,2.8 0 1 0 -5.6,0a2.8,2.8 0 1 0 5.6,0M403.8,72.6a2.8,2.8 0 1 0 -5.6,0a2.8,2.8 0 1 0 5.6,0M403.9,80.7a2.8,2.8 0 1 0 -5.6,0a2.8,2.8 0 1 0 5.6,0M404.1,82.5a2.8,2.8 0 1 0 -5.6,0a2.8,2.8 0 1 0 5.6,0M404.2,77.8a2.8,2.8 0 1 0 -5.6,0a2.8,2.8 0 1 0 5.6,0M404.4,86.1a2.8,2.8 0 1 0 -5.6,0a2.8,2.8 0 1 0 5.6,0M404.5,83.9a2.8,2.8 0 1 0 -5.6,0a2.8,2.8 0 1 0 5.6,0M404.7,81.4a2.8,2.8 0 1 0 -5.6,0a2.8,2.8 0 1 0 5.6,0M404.8,83.7a2.8,2.8 0 1 0 -5.6,0a2.8,2.8 0 1 0 5.6,0M405.0,84.0a2.8,2.8 0 1 0 -5.6,0a2.8,2.8 0 1 0 5.6,0M405.1,81.4a2.8,2.8 0 1 0 -5.6,0a2.8,2.8 0 1 0 5.6,0M405.2,78.8a2.8,2.8 0 1 0 -5.6,0a2.8,2.8 0 1 0 5.6,0M405.4,82.9a2.8,2.8 0 1 0 -5.6,0a2.8,2.8 0 1 0 5.6,0M405.5,80.4a2.8,2.8 0 1 0 -5.6,0a2.8,2.8 0 1 0 5.6,0M405.7,83.6a2.8,2.8 0 1 0 -5.6,0a2.8,2.8 0 1 0 5.6,0M405.8,85.9a2.8,2.8 0 1 0 -5.6,0a2.8,2.8 0 1 0 5.6,0M406.0,77.4a2.8,2.8 0 1 0 -5.6,0a2.8,2.8 0 1 0 5.6,0M406.1,79.0a2.8,2.8 0 1 0 -5.6,0a2.8,2.8 0 1 0 5.6,0M406.3,83.7a2.8,2.8 0 1 0 -5.6,0a2.8,2.8 0 1 0 5.6,0M406.4,80.2a2.8,2.8 0 1 0 -5.6,0a2.8,2.8 0 1 0 5.6,0M406.5,78.7a2.8,2.8 0 1 0 -5.6,0a2.8,2.8 0 1 0 5.6,0M406.7,78.4a2.8,2.8 0 1 0 -5.6,0a2.8,2.8 0 1 0 5.6,0M406.8,77.1a2.8,2.8 0 1 0 -5.6,0a2.8,2.8 0 1 0 5.6,0M407.0,76.4a2.8,2.8 0 1 0 -5.6,0a2.8,2.8 0 1 0 5.6,0M407.1,80.3a2.8,2.8 0 1 0 -5.6,0a2.8,2.8 0 1 0 5.6,0M407.3,79.1a2.8,2.8 0 1 0 -5.6,0a2.8,2.8 0 1 0 5.6,0M407.4,77.8a2.8,2.8 0 1 0 -5.6,0a2.8,2.8 0 1 0 5.6,0M407.6,79.0a2.8,2.8 0 1 0 -5.6,0a2.8,2.8 0 1 0 5.6,0M407.7,79.3a2.8,2.8 0 1 0 -5.6,0a2.8,2.8 0 1 0 5.6,0M407.8,77.1a2.8,2.8 0 1 0 -5.6,0a2.8,2.8 0 1 0 5.6,0M408.0,75.3a2.8,2.8 0 1 0 -5.6,0a2.8,2.8 0 1 0 5.6,0M408.1,70.0a2.8,2.8 0 1 0 -5.6,0a2.8,2.8 0 1 0 5.6,0M408.3,70.9a2.8,2.8 0 1 0 -5.6,0a2.8,2.8 0 1 0 5.6,0M408.4,73.0a2.8,2.8 0 1 0 -5.6,0a2.8,2.8 0 1 0 5.6,0M408.6,75.9a2.8,2.8 0 1 0 -5.6,0a2.8,2.8 0 1 0 5.6,0M408.7,73.1a2.8,2.8 0 1 0 -5.6,0a2.8,2.8 0 1 0 5.6,0M408.9,75.6a2.8,2.8 0 1 0 -5.6,0a2.8,2.8 0 1 0 5.6,0M409.0,74.9a2.8,2.8 0 1 0 -5.6,0a2.8,2.8 0 1 0 5.6,0M409.2,73.2a2.8,2.8 0 1 0 -5.6,0a2.8,2.8 0 1 0 5.6,0M409.3,69.9a2.8,2.8 0 1 0 -5.6,0a2.8,2.8 0 1 0 5.6,0M409.4,76.5a2.8,2.8 0 1 0 -5.6,0a2.8,2.8 0 1 0 5.6,0M409.6,68.9a2.8,2.8 0 1 0 -5.6,0a2.8,2.8 0 1 0 5.6,0M409.7,74.3a2.8,2.8 0 1 0 -5.6,0a2.8,2.8 0 1 0 5.6,0M409.9,71.6a2.8,2.8 0 1 0 -5.6,0a2.8,2.8 0 1 0 5.6,0M410.0,72.6a2.8,2.8 0 1 0 -5.6,0a2.8,2.8 0 1 0 5.6,0M410.2,71.1a2.8,2.8 0 1 0 -5.6,0a2.8,2.8 0 1 0 5.6,0M410.3,70.1a2.8,2.8 0 1 0 -5.6,0a2.8,2.8 0 1 0 5.6,0M410.5,69.4a2.8,2.8 0 1 0 -5.6,0a2.8,2.8 0 1 0 5.6,0M410.6,73.2a2.8,2.8 0 1 0 -5.6,0a2.8,2.8 0 1 0 5.6,0M410.7,70.5a2.8,2.8 0 1 0 -5.6,0a2.8,2.8 0 1 0 5.6,0M410.9,71.0a2.8,2.8 0 1 0 -5.6,0a2.8,2.8 0 1 0 5.6,0M411.0,70.6a2.8,2.8 0 1 0 -5.6,0a2.8,2.8 0 1 0 5.6,0M411.2,69.9a2.8,2.8 0 1 0 -5.6,0a2.8,2.8 0 1 0 5.6,0M411.3,69.7a2.8,2.8 0 1 0 -5.6,0a2.8,2.8 0 1 0 5.6,0M411.5,67.3a2.8,2.8 0 1 0 -5.6,0a2.8,2.8 0 1 0 5.6,0M411.6,69.9a2.8,2.8 0 1 0 -5.6,0a2.8,2.8 0 1 0 5.6,0M411.8,72.6a2.8,2.8 0 1 0 -5.6,0a2.8,2.8 0 1 0 5.6,0M411.9,73.2a2.8,2.8 0 1 0 -5.6,0a2.8,2.8 0 1 0 5.6,0M412.0,70.9a2.8,2.8 0 1 0 -5.6,0a2.8,2.8 0 1 0 5.6,0M412.2,70.9a2.8,2.8 0 1 0 -5.6,0a2.8,2.8 0 1 0 5.6,0M412.3,76.5a2.8,2.8 0 1 0 -5.6,0a2.8,2.8 0 1 0 5.6,0M412.5,77.8a2.8,2.8 0 1 0 -5.6,0a2.8,2.8 0 1 0 5.6,0M412.6,76.2a2.8,2.8 0 1 0 -5.6,0a2.8,2.8 0 1 0 5.6,0M412.8,76.4a2.8,2.8 0 1 0 -5.6,0a2.8,2.8 0 1 0 5.6,0M412.9,79.0a2.8,2.8 0 1 0 -5.6,0a2.8,2.8 0 1 0 5.6,0M413.1,72.4a2.8,2.8 0 1 0 -5.6,0a2.8,2.8 0 1 0 5.6,0M413.2,72.8a2.8,2.8 0 1 0 -5.6,0a2.8,2.8 0 1 0 5.6,0M413.3,75.4a2.8,2.8 0 1 0 -5.6,0a2.8,2.8 0 1 0 5.6,0M413.5,79.7a2.8,2.8 0 1 0 -5.6,0a2.8,2.8 0 1 0 5.6,0M413.6,74.8a2.8,2.8 0 1 0 -5.6,0a2.8,2.8 0 1 0 5.6,0M413.8,75.7a2.8,2.8 0 1 0 -5.6,0a2.8,2.8 0 1 0 5.6,0M413.9,77.9a2.8,2.8 0 1 0 -5.6,0a2.8,2.8 0 1 0 5.6,0M414.1,74.3a2.8,2.8 0 1 0 -5.6,0a2.8,2.8 0 1 0 5.6,0M414.2,80.5a2.8,2.8 0 1 0 -5.6,0a2.8,2.8 0 1 0 5.6,0M414.4,79.8a2.8,2.8 0 1 0 -5.6,0a2.8,2.8 0 1 0 5.6,0M414.5,78.1a2.8,2.8 0 1 0 -5.6,0a2.8,2.8 0 1 0 5.6,0M414.6,80.9a2.8,2.8 0 1 0 -5.6,0a2.8,2.8 0 1 0 5.6,0M414.8,77.7a2.8,2.8 0 1 0 -5.6,0a2.8,2.8 0 1 0 5.6,0M414.9,81.2a2.8,2.8 0 1 0 -5.6,0a2.8,2.8 0 1 0 5.6,0M415.1,79.9a2.8,2.8 0 1 0 -5.6,0a2.8,2.8 0 1 0 5.6,0M415.2,79.1a2.8,2.8 0 1 0 -5.6,0a2.8,2.8 0 1 0 5.6,0M415.4,83.1a2.8,2.8 0 1 0 -5.6,0a2.8,2.8 0 1 0 5.6,0M415.5,81.8a2.8,2.8 0 1 0 -5.6,0a2.8,2.8 0 1 0 5.6,0M415.7,79.9a2.8,2.8 0 1 0 -5.6,0a2.8,2.8 0 1 0 5.6,0M415.8,78.6a2.8,2.8 0 1 0 -5.6,0a2.8,2.8 0 1 0 5.6,0M416.0,78.7a2.8,2.8 0 1 0 -5.6,0a2.8,2.8 0 1 0 5.6,0M416.1,81.2a2.8,2.8 0 1 0 -5.6,0a2.8,2.8 0 1 0 5.6,0M416.2,85.0a2.8,2.8 0 1 0 -5.6,0a2.8,2.8 0 1 0 5.6,0M416.4,84.9a2.8,2.8 0 1 0 -5.6,0a2.8,2.8 0 1 0 5.6,0M416.5,80.3a2.8,2.8 0 1 0 -5.6,0a2.8,2.8 0 1 0 5.6,0M416.7,84.7a2.8,2.8 0 1 0 -5.6,0a2.8,2.8 0 1 0 5.6,0M416.8,80.0a2.8,2.8 0 1 0 -5.6,0a2.8,2.8 0 1 0 5.6,0M417.0,80.3a2.8,2.8 0 1 0 -5.6,0a2.8,2.8 0 1 0 5.6,0M417.1,86.5a2.8,2.8 0 1 0 -5.6,0a2.8,2.8 0 1 0 5.6,0M417.3,85.7a2.8,2.8 0 1 0 -5.6,0a2.8,2.8 0 1 0 5.6,0M417.4,81.0a2.8,2.8 0 1 0 -5.6,0a2.8,2.8 0 1 0 5.6,0M417.5,79.8a2.8,2.8 0 1 0 -5.6,0a2.8,2.8 0 1 0 5.6,0M417.7,80.8a2.8,2.8 0 1 0 -5.6,0a2.8,2.8 0 1 0 5.6,0M417.8,84.3a2.8,2.8 0 1 0 -5.6,0a2.8,2.8 0 1 0 5.6,0M418.0,82.7a2.8,2.8 0 1 0 -5.6,0a2.8,2.8 0 1 0 5.6,0M418.1,82.8a2.8,2.8 0 1 0 -5.6,0a2.8,2.8 0 1 0 5.6,0M418.3,84.3a2.8,2.8 0 1 0 -5.6,0a2.8,2.8 0 1 0 5.6,0M418.4,83.0a2.8,2.8 0 1 0 -5.6,0a2.8,2.8 0 1 0 5.6,0M418.6,78.9a2.8,2.8 0 1 0 -5.6,0a2.8,2.8 0 1 0 5.6,0M418.7,83.3a2.8,2.8 0 1 0 -5.6,0a2.8,2.8 0 1 0 5.6,0M418.8,82.0a2.8,2.8 0 1 0 -5.6,0a2.8,2.8 0 1 0 5.6,0M419.0,84.1a2.8,2.8 0 1 0 -5.6,0a2.8,2.8 0 1 0 5.6,0M419.1,84.7a2.8,2.8 0 1 0 -5.6,0a2.8,2.8 0 1 0 5.6,0M419.3,84.9a2.8,2.8 0 1 0 -5.6,0a2.8,2.8 0 1 0 5.6,0M419.4,82.8a2.8,2.8 0 1 0 -5.6,0a2.8,2.8 0 1 0 5.6,0M419.6,83.4a2.8,2.8 0 1 0 -5.6,0a2.8,2.8 0 1 0 5.6,0M419.7,87.4a2.8,2.8 0 1 0 -5.6,0a2.8,2.8 0 1 0 5.6,0M419.9,83.5a2.8,2.8 0 1 0 -5.6,0a2.8,2.8 0 1 0 5.6,0M420.0,86.5a2.8,2.8 0 1 0 -5.6,0a2.8,2.8 0 1 0 5.6,0M420.1,83.5a2.8,2.8 0 1 0 -5.6,0a2.8,2.8 0 1 0 5.6,0M420.3,80.4a2.8,2.8 0 1 0 -5.6,0a2.8,2.8 0 1 0 5.6,0M420.4,86.9a2.8,2.8 0 1 0 -5.6,0a2.8,2.8 0 1 0 5.6,0M420.6,84.4a2.8,2.8 0 1 0 -5.6,0a2.8,2.8 0 1 0 5.6,0M420.7,85.8a2.8,2.8 0 1 0 -5.6,0a2.8,2.8 0 1 0 5.6,0M420.9,82.9a2.8,2.8 0 1 0 -5.6,0a2.8,2.8 0 1 0 5.6,0M421.0,83.6a2.8,2.8 0 1 0 -5.6,0a2.8,2.8 0 1 0 5.6,0M421.2,89.5a2.8,2.8 0 1 0 -5.6,0a2.8,2.8 0 1 0 5.6,0M421.3,87.5a2.8,2.8 0 1 0 -5.6,0a2.8,2.8 0 1 0 5.6,0M421.4,86.8a2.8,2.8 0 1 0 -5.6,0a2.8,2.8 0 1 0 5.6,0M421.6,87.4a2.8,2.8 0 1 0 -5.6,0a2.8,2.8 0 1 0 5.6,0M421.7,83.7a2.8,2.8 0 1 0 -5.6,0a2.8,2.8 0 1 0 5.6,0M421.9,82.9a2.8,2.8 0 1 0 -5.6,0a2.8,2.8 0 1 0 5.6,0M422.0,86.2a2.8,2.8 0 1 0 -5.6,0a2.8,2.8 0 1 0 5.6,0M422.2,88.9a2.8,2.8 0 1 0 -5.6,0a2.8,2.8 0 1 0 5.6,0M422.3,84.9a2.8,2.8 0 1 0 -5.6,0a2.8,2.8 0 1 0 5.6,0M422.5,86.3a2.8,2.8 0 1 0 -5.6,0a2.8,2.8 0 1 0 5.6,0M422.6,82.1a2.8,2.8 0 1 0 -5.6,0a2.8,2.8 0 1 0 5.6,0M422.7,80.2a2.8,2.8 0 1 0 -5.6,0a2.8,2.8 0 1 0 5.6,0M422.9,88.3a2.8,2.8 0 1 0 -5.6,0a2.8,2.8 0 1 0 5.6,0M423.0,84.7a2.8,2.8 0 1 0 -5.6,0a2.8,2.8 0 1 0 5.6,0M423.2,87.6a2.8,2.8 0 1 0 -5.6,0a2.8,2.8 0 1 0 5.6,0M423.3,81.3a2.8,2.8 0 1 0 -5.6,0a2.8,2.8 0 1 0 5.6,0M423.5,85.6a2.8,2.8 0 1 0 -5.6,0a2.8,2.8 0 1 0 5.6,0M423.6,83.6a2.8,2.8 0 1 0 -5.6,0a2.8,2.8 0 1 0 5.6,0M423.8,84.5a2.8,2.8 0 1 0 -5.6,0a2.8,2.8 0 1 0 5.6,0M423.9,86.6a2.8,2.8 0 1 0 -5.6,0a2.8,2.8 0 1 0 5.6,0M424.1,87.5a2.8,2.8 0 1 0 -5.6,0a2.8,2.8 0 1 0 5.6,0M424.2,87.1a2.8,2.8 0 1 0 -5.6,0a2.8,2.8 0 1 0 5.6,0M424.3,84.9a2.8,2.8 0 1 0 -5.6,0a2.8,2.8 0 1 0 5.6,0M424.5,84.3a2.8,2.8 0 1 0 -5.6,0a2.8,2.8 0 1 0 5.6,0M424.6,84.1a2.8,2.8 0 1 0 -5.6,0a2.8,2.8 0 1 0 5.6,0M424.8,78.3a2.8,2.8 0 1 0 -5.6,0a2.8,2.8 0 1 0 5.6,0M424.9,85.2a2.8,2.8 0 1 0 -5.6,0a2.8,2.8 0 1 0 5.6,0M425.1,82.9a2.8,2.8 0 1 0 -5.6,0a2.8,2.8 0 1 0 5.6,0M425.2,81.6a2.8,2.8 0 1 0 -5.6,0a2.8,2.8 0 1 0 5.6,0M425.4,85.2a2.8,2.8 0 1 0 -5.6,0a2.8,2.8 0 1 0 5.6,0M425.5,89.7a2.8,2.8 0 1 0 -5.6,0a2.8,2.8 0 1 0 5.6,0M425.6,84.3a2.8,2.8 0 1 0 -5.6,0a2.8,2.8 0 1 0 5.6,0M425.8,84.3a2.8,2.8 0 1 0 -5.6,0a2.8,2.8 0 1 0 5.6,0M425.9,83.0a2.8,2.8 0 1 0 -5.6,0a2.8,2.8 0 1 0 5.6,0M426.1,86.8a2.8,2.8 0 1 0 -5.6,0a2.8,2.8 0 1 0 5.6,0M426.2,85.1a2.8,2.8 0 1 0 -5.6,0a2.8,2.8 0 1 0 5.6,0M426.4,81.9a2.8,2.8 0 1 0 -5.6,0a2.8,2.8 0 1 0 5.6,0M426.5,87.8a2.8,2.8 0 1 0 -5.6,0a2.8,2.8 0 1 0 5.6,0M426.7,84.3a2.8,2.8 0 1 0 -5.6,0a2.8,2.8 0 1 0 5.6,0M426.8,88.8a2.8,2.8 0 1 0 -5.6,0a2.8,2.8 0 1 0 5.6,0M426.9,84.3a2.8,2.8 0 1 0 -5.6,0a2.8,2.8 0 1 0 5.6,0M427.1,86.6a2.8,2.8 0 1 0 -5.6,0a2.8,2.8 0 1 0 5.6,0M427.2,86.5a2.8,2.8 0 1 0 -5.6,0a2.8,2.8 0 1 0 5.6,0M427.4,87.0a2.8,2.8 0 1 0 -5.6,0a2.8,2.8 0 1 0 5.6,0M427.5,86.8a2.8,2.8 0 1 0 -5.6,0a2.8,2.8 0 1 0 5.6,0M427.7,83.7a2.8,2.8 0 1 0 -5.6,0a2.8,2.8 0 1 0 5.6,0M427.8,90.2a2.8,2.8 0 1 0 -5.6,0a2.8,2.8 0 1 0 5.6,0M428.0,90.6a2.8,2.8 0 1 0 -5.6,0a2.8,2.8 0 1 0 5.6,0M428.1,88.4a2.8,2.8 0 1 0 -5.6,0a2.8,2.8 0 1 0 5.6,0M428.2,89.3a2.8,2.8 0 1 0 -5.6,0a2.8,2.8 0 1 0 5.6,0M428.4,93.2a2.8,2.8 0 1 0 -5.6,0a2.8,2.8 0 1 0 5.6,0M428.5,87.8a2.8,2.8 0 1 0 -5.6,0a2.8,2.8 0 1 0 5.6,0M428.7,92.1a2.8,2.8 0 1 0 -5.6,0a2.8,2.8 0 1 0 5.6,0M428.8,92.9a2.8,2.8 0 1 0 -5.6,0a2.8,2.8 0 1 0 5.6,0M429.0,94.1a2.8,2.8 0 1 0 -5.6,0a2.8,2.8 0 1 0 5.6,0M429.1,92.6a2.8,2.8 0 1 0 -5.6,0a2.8,2.8 0 1 0 5.6,0M429.3,96.9a2.8,2.8 0 1 0 -5.6,0a2.8,2.8 0 1 0 5.6,0M429.4,94.6a2.8,2.8 0 1 0 -5.6,0a2.8,2.8 0 1 0 5.6,0M429.5,90.8a2.8,2.8 0 1 0 -5.6,0a2.8,2.8 0 1 0 5.6,0M429.7,90.9a2.8,2.8 0 1 0 -5.6,0a2.8,2.8 0 1 0 5.6,0M429.8,97.8a2.8,2.8 0 1 0 -5.6,0a2.8,2.8 0 1 0 5.6,0M430.0,91.4a2.8,2.8 0 1 0 -5.6,0a2.8,2.8 0 1 0 5.6,0M430.1,93.3a2.8,2.8 0 1 0 -5.6,0a2.8,2.8 0 1 0 5.6,0M430.3,92.3a2.8,2.8 0 1 0 -5.6,0a2.8,2.8 0 1 0 5.6,0M430.4,93.8a2.8,2.8 0 1 0 -5.6,0a2.8,2.8 0 1 0 5.6,0M430.6,90.7a2.8,2.8 0 1 0 -5.6,0a2.8,2.8 0 1 0 5.6,0M430.7,95.6a2.8,2.8 0 1 0 -5.6,0a2.8,2.8 0 1 0 5.6,0M430.9,90.6a2.8,2.8 0 1 0 -5.6,0a2.8,2.8 0 1 0 5.6,0M431.0,94.6a2.8,2.8 0 1 0 -5.6,0a2.8,2.8 0 1 0 5.6,0M431.1,93.0a2.8,2.8 0 1 0 -5.6,0a2.8,2.8 0 1 0 5.6,0M431.3,89.9a2.8,2.8 0 1 0 -5.6,0a2.8,2.8 0 1 0 5.6,0M431.4,91.9a2.8,2.8 0 1 0 -5.6,0a2.8,2.8 0 1 0 5.6,0M431.6,92.8a2.8,2.8 0 1 0 -5.6,0a2.8,2.8 0 1 0 5.6,0M431.7,92.5a2.8,2.8 0 1 0 -5.6,0a2.8,2.8 0 1 0 5.6,0M431.9,89.8a2.8,2.8 0 1 0 -5.6,0a2.8,2.8 0 1 0 5.6,0M432.0,93.5a2.8,2.8 0 1 0 -5.6,0a2.8,2.8 0 1 0 5.6,0M432.2,89.1a2.8,2.8 0 1 0 -5.6,0a2.8,2.8 0 1 0 5.6,0M432.3,90.4a2.8,2.8 0 1 0 -5.6,0a2.8,2.8 0 1 0 5.6,0M432.4,89.5a2.8,2.8 0 1 0 -5.6,0a2.8,2.8 0 1 0 5.6,0M432.6,92.0a2.8,2.8 0 1 0 -5.6,0a2.8,2.8 0 1 0 5.6,0M432.7,89.2a2.8,2.8 0 1 0 -5.6,0a2.8,2.8 0 1 0 5.6,0M432.9,89.6a2.8,2.8 0 1 0 -5.6,0a2.8,2.8 0 1 0 5.6,0M433.0,86.7a2.8,2.8 0 1 0 -5.6,0a2.8,2.8 0 1 0 5.6,0M433.2,88.8a2.8,2.8 0 1 0 -5.6,0a2.8,2.8 0 1 0 5.6,0M433.3,87.9a2.8,2.8 0 1 0 -5.6,0a2.8,2.8 0 1 0 5.6,0M433.5,90.4a2.8,2.8 0 1 0 -5.6,0a2.8,2.8 0 1 0 5.6,0M433.6,84.0a2.8,2.8 0 1 0 -5.6,0a2.8,2.8 0 1 0 5.6,0M433.7,84.5a2.8,2.8 0 1 0 -5.6,0a2.8,2.8 0 1 0 5.6,0M433.9,88.9a2.8,2.8 0 1 0 -5.6,0a2.8,2.8 0 1 0 5.6,0M434.0,83.0a2.8,2.8 0 1 0 -5.6,0a2.8,2.8 0 1 0 5.6,0M434.2,83.4a2.8,2.8 0 1 0 -5.6,0a2.8,2.8 0 1 0 5.6,0M434.3,90.0a2.8,2.8 0 1 0 -5.6,0a2.8,2.8 0 1 0 5.6,0M434.5,88.2a2.8,2.8 0 1 0 -5.6,0a2.8,2.8 0 1 0 5.6,0M434.6,84.3a2.8,2.8 0 1 0 -5.6,0a2.8,2.8 0 1 0 5.6,0M434.8,82.7a2.8,2.8 0 1 0 -5.6,0a2.8,2.8 0 1 0 5.6,0M434.9,88.6a2.8,2.8 0 1 0 -5.6,0a2.8,2.8 0 1 0 5.6,0M435.0,86.4a2.8,2.8 0 1 0 -5.6,0a2.8,2.8 0 1 0 5.6,0M435.2,86.1a2.8,2.8 0 1 0 -5.6,0a2.8,2.8 0 1 0 5.6,0M435.3,86.1a2.8,2.8 0 1 0 -5.6,0a2.8,2.8 0 1 0 5.6,0M435.5,83.3a2.8,2.8 0 1 0 -5.6,0a2.8,2.8 0 1 0 5.6,0M435.6,84.8a2.8,2.8 0 1 0 -5.6,0a2.8,2.8 0 1 0 5.6,0M435.8,83.9a2.8,2.8 0 1 0 -5.6,0a2.8,2.8 0 1 0 5.6,0M435.9,83.5a2.8,2.8 0 1 0 -5.6,0a2.8,2.8 0 1 0 5.6,0M436.1,85.2a2.8,2.8 0 1 0 -5.6,0a2.8,2.8 0 1 0 5.6,0M436.2,79.2a2.8,2.8 0 1 0 -5.6,0a2.8,2.8 0 1 0 5.6,0M436.3,82.6a2.8,2.8 0 1 0 -5.6,0a2.8,2.8 0 1 0 5.6,0M436.5,84.7a2.8,2.8 0 1 0 -5.6,0a2.8,2.8 0 1 0 5.6,0M436.6,82.8a2.8,2.8 0 1 0 -5.6,0a2.8,2.8 0 1 0 5.6,0M436.8,83.4a2.8,2.8 0 1 0 -5.6,0a2.8,2.8 0 1 0 5.6,0M436.9,79.7a2.8,2.8 0 1 0 -5.6,0a2.8,2.8 0 1 0 5.6,0M437.1,81.7a2.8,2.8 0 1 0 -5.6,0a2.8,2.8 0 1 0 5.6,0M437.2,78.0a2.8,2.8 0 1 0 -5.6,0a2.8,2.8 0 1 0 5.6,0M437.4,85.7a2.8,2.8 0 1 0 -5.6,0a2.8,2.8 0 1 0 5.6,0M437.5,82.4a2.8,2.8 0 1 0 -5.6,0a2.8,2.8 0 1 0 5.6,0M437.7,78.3a2.8,2.8 0 1 0 -5.6,0a2.8,2.8 0 1 0 5.6,0M437.8,84.0a2.8,2.8 0 1 0 -5.6,0a2.8,2.8 0 1 0 5.6,0M437.9,80.1a2.8,2.8 0 1 0 -5.6,0a2.8,2.8 0 1 0 5.6,0M438.1,76.3a2.8,2.8 0 1 0 -5.6,0a2.8,2.8 0 1 0 5.6,0M438.2,83.3a2.8,2.8 0 1 0 -5.6,0a2.8,2.8 0 1 0 5.6,0M438.4,80.9a2.8,2.8 0 1 0 -5.6,0a2.8,2.8 0 1 0 5.6,0M438.5,79.3a2.8,2.8 0 1 0 -5.6,0a2.8,2.8 0 1 0 5.6,0M438.7,82.7a2.8,2.8 0 1 0 -5.6,0a2.8,2.8 0 1 0 5.6,0M438.8,82.2a2.8,2.8 0 1 0 -5.6,0a2.8,2.8 0 1 0 5.6,0M439.0,79.6a2.8,2.8 0 1 0 -5.6,0a2.8,2.8 0 1 0 5.6,0M439.1,80.4a2.8,2.8 0 1 0 -5.6,0a2.8,2.8 0 1 0 5.6,0M439.2,80.1a2.8,2.8 0 1 0 -5.6,0a2.8,2.8 0 1 0 5.6,0M439.4,80.9a2.8,2.8 0 1 0 -5.6,0a2.8,2.8 0 1 0 5.6,0M439.5,79.0a2.8,2.8 0 1 0 -5.6,0a2.8,2.8 0 1 0 5.6,0M439.7,85.0a2.8,2.8 0 1 0 -5.6,0a2.8,2.8 0 1 0 5.6,0M439.8,73.7a2.8,2.8 0 1 0 -5.6,0a2.8,2.8 0 1 0 5.6,0M440.0,81.1a2.8,2.8 0 1 0 -5.6,0a2.8,2.8 0 1 0 5.6,0M440.1,79.8a2.8,2.8 0 1 0 -5.6,0a2.8,2.8 0 1 0 5.6,0M440.3,83.6a2.8,2.8 0 1 0 -5.6,0a2.8,2.8 0 1 0 5.6,0M440.4,82.9a2.8,2.8 0 1 0 -5.6,0a2.8,2.8 0 1 0 5.6,0M440.5,79.9a2.8,2.8 0 1 0 -5.6,0a2.8,2.8 0 1 0 5.6,0M440.7,75.3a2.8,2.8 0 1 0 -5.6,0a2.8,2.8 0 1 0 5.6,0M440.8,74.0a2.8,2.8 0 1 0 -5.6,0a2.8,2.8 0 1 0 5.6,0M441.0,73.3a2.8,2.8 0 1 0 -5.6,0a2.8,2.8 0 1 0 5.6,0M441.1,80.3a2.8,2.8 0 1 0 -5.6,0a2.8,2.8 0 1 0 5.6,0M441.3,76.4a2.8,2.8 0 1 0 -5.6,0a2.8,2.8 0 1 0 5.6,0M441.4,82.6a2.8,2.8 0 1 0 -5.6,0a2.8,2.8 0 1 0 5.6,0M441.6,79.7a2.8,2.8 0 1 0 -5.6,0a2.8,2.8 0 1 0 5.6,0M441.7,83.8a2.8,2.8 0 1 0 -5.6,0a2.8,2.8 0 1 0 5.6,0M441.8,75.8a2.8,2.8 0 1 0 -5.6,0a2.8,2.8 0 1 0 5.6,0M442.0,78.0a2.8,2.8 0 1 0 -5.6,0a2.8,2.8 0 1 0 5.6,0M442.1,77.0a2.8,2.8 0 1 0 -5.6,0a2.8,2.8 0 1 0 5.6,0M442.3,79.9a2.8,2.8 0 1 0 -5.6,0a2.8,2.8 0 1 0 5.6,0M442.4,80.6a2.8,2.8 0 1 0 -5.6,0a2.8,2.8 0 1 0 5.6,0M442.6,82.1a2.8,2.8 0 1 0 -5.6,0a2.8,2.8 0 1 0 5.6,0M442.7,76.9a2.8,2.8 0 1 0 -5.6,0a2.8,2.8 0 1 0 5.6,0M442.9,82.4a2.8,2.8 0 1 0 -5.6,0a2.8,2.8 0 1 0 5.6,0M443.0,79.5a2.8,2.8 0 1 0 -5.6,0a2.8,2.8 0 1 0 5.6,0M443.1,77.9a2.8,2.8 0 1 0 -5.6,0a2.8,2.8 0 1 0 5.6,0M443.3,80.3a2.8,2.8 0 1 0 -5.6,0a2.8,2.8 0 1 0 5.6,0M443.4,80.5a2.8,2.8 0 1 0 -5.6,0a2.8,2.8 0 1 0 5.6,0M443.6,80.5a2.8,2.8 0 1 0 -5.6,0a2.8,2.8 0 1 0 5.6,0M443.7,79.1a2.8,2.8 0 1 0 -5.6,0a2.8,2.8 0 1 0 5.6,0M443.9,77.9a2.8,2.8 0 1 0 -5.6,0a2.8,2.8 0 1 0 5.6,0M444.0,78.8a2.8,2.8 0 1 0 -5.6,0a2.8,2.8 0 1 0 5.6,0M444.2,83.6a2.8,2.8 0 1 0 -5.6,0a2.8,2.8 0 1 0 5.6,0M444.3,82.6a2.8,2.8 0 1 0 -5.6,0a2.8,2.8 0 1 0 5.6,0M444.5,79.7a2.8,2.8 0 1 0 -5.6,0a2.8,2.8 0 1 0 5.6,0M444.6,78.1a2.8,2.8 0 1 0 -5.6,0a2.8,2.8 0 1 0 5.6,0M444.7,80.4a2.8,2.8 0 1 0 -5.6,0a2.8,2.8 0 1 0 5.6,0M444.9,85.1a2.8,2.8 0 1 0 -5.6,0a2.8,2.8 0 1 0 5.6,0M445.0,84.5a2.8,2.8 0 1 0 -5.6,0a2.8,2.8 0 1 0 5.6,0M445.2,79.3a2.8,2.8 0 1 0 -5.6,0a2.8,2.8 0 1 0 5.6,0M445.3,84.6a2.8,2.8 0 1 0 -5.6,0a2.8,2.8 0 1 0 5.6,0M445.5,84.4a2.8,2.8 0 1 0 -5.6,0a2.8,2.8 0 1 0 5.6,0M445.6,82.4a2.8,2.8 0 1 0 -5.6,0a2.8,2.8 0 1 0 5.6,0M445.8,82.2a2.8,2.8 0 1 0 -5.6,0a2.8,2.8 0 1 0 5.6,0M445.9,79.3a2.8,2.8 0 1 0 -5.6,0a2.8,2.8 0 1 0 5.6,0M446.0,82.9a2.8,2.8 0 1 0 -5.6,0a2.8,2.8 0 1 0 5.6,0M446.2,80.1a2.8,2.8 0 1 0 -5.6,0a2.8,2.8 0 1 0 5.6,0M446.3,83.0a2.8,2.8 0 1 0 -5.6,0a2.8,2.8 0 1 0 5.6,0M446.5,80.8a2.8,2.8 0 1 0 -5.6,0a2.8,2.8 0 1 0 5.6,0M446.6,82.9a2.8,2.8 0 1 0 -5.6,0a2.8,2.8 0 1 0 5.6,0M446.8,84.7a2.8,2.8 0 1 0 -5.6,0a2.8,2.8 0 1 0 5.6,0M446.9,82.0a2.8,2.8 0 1 0 -5.6,0a2.8,2.8 0 1 0 5.6,0M447.1,83.9a2.8,2.8 0 1 0 -5.6,0a2.8,2.8 0 1 0 5.6,0M447.2,80.8a2.8,2.8 0 1 0 -5.6,0a2.8,2.8 0 1 0 5.6,0M447.3,86.9a2.8,2.8 0 1 0 -5.6,0a2.8,2.8 0 1 0 5.6,0M447.5,81.1a2.8,2.8 0 1 0 -5.6,0a2.8,2.8 0 1 0 5.6,0M447.6,82.1a2.8,2.8 0 1 0 -5.6,0a2.8,2.8 0 1 0 5.6,0M447.8,80.3a2.8,2.8 0 1 0 -5.6,0a2.8,2.8 0 1 0 5.6,0M447.9,78.2a2.8,2.8 0 1 0 -5.6,0a2.8,2.8 0 1 0 5.6,0M448.1,85.9a2.8,2.8 0 1 0 -5.6,0a2.8,2.8 0 1 0 5.6,0M448.2,82.8a2.8,2.8 0 1 0 -5.6,0a2.8,2.8 0 1 0 5.6,0M448.4,80.9a2.8,2.8 0 1 0 -5.6,0a2.8,2.8 0 1 0 5.6,0M448.5,82.0a2.8,2.8 0 1 0 -5.6,0a2.8,2.8 0 1 0 5.6,0M448.6,82.4a2.8,2.8 0 1 0 -5.6,0a2.8,2.8 0 1 0 5.6,0M448.8,86.6a2.8,2.8 0 1 0 -5.6,0a2.8,2.8 0 1 0 5.6,0M448.9,82.9a2.8,2.8 0 1 0 -5.6,0a2.8,2.8 0 1 0 5.6,0M449.1,83.7a2.8,2.8 0 1 0 -5.6,0a2.8,2.8 0 1 0 5.6,0M449.2,79.0a2.8,2.8 0 1 0 -5.6,0a2.8,2.8 0 1 0 5.6,0M449.4,88.9a2.8,2.8 0 1 0 -5.6,0a2.8,2.8 0 1 0 5.6,0M449.5,85.8a2.8,2.8 0 1 0 -5.6,0a2.8,2.8 0 1 0 5.6,0M449.7,84.1a2.8,2.8 0 1 0 -5.6,0a2.8,2.8 0 1 0 5.6,0M449.8,80.0a2.8,2.8 0 1 0 -5.6,0a2.8,2.8 0 1 0 5.6,0M449.9,83.3a2.8,2.8 0 1 0 -5.6,0a2.8,2.8 0 1 0 5.6,0M450.1,83.4a2.8,2.8 0 1 0 -5.6,0a2.8,2.8 0 1 0 5.6,0M450.2,82.1a2.8,2.8 0 1 0 -5.6,0a2.8,2.8 0 1 0 5.6,0M450.4,82.3a2.8,2.8 0 1 0 -5.6,0a2.8,2.8 0 1 0 5.6,0M450.5,80.7a2.8,2.8 0 1 0 -5.6,0a2.8,2.8 0 1 0 5.6,0M450.7,85.3a2.8,2.8 0 1 0 -5.6,0a2.8,2.8 0 1 0 5.6,0M450.8,87.1a2.8,2.8 0 1 0 -5.6,0a2.8,2.8 0 1 0 5.6,0M451.0,81.0a2.8,2.8 0 1 0 -5.6,0a2.8,2.8 0 1 0 5.6,0M451.1,83.5a2.8,2.8 0 1 0 -5.6,0a2.8,2.8 0 1 0 5.6,0M451.2,83.4a2.8,2.8 0 1 0 -5.6,0a2.8,2.8 0 1 0 5.6,0M451.4,83.0a2.8,2.8 0 1 0 -5.6,0a2.8,2.8 0 1 0 5.6,0M451.5,79.9a2.8,2.8 0 1 0 -5.6,0a2.8,2.8 0 1 0 5.6,0M451.7,79.8a2.8,2.8 0 1 0 -5.6,0a2.8,2.8 0 1 0 5.6,0M451.8,83.3a2.8,2.8 0 1 0 -5.6,0a2.8,2.8 0 1 0 5.6,0M452.0,81.3a2.8,2.8 0 1 0 -5.6,0a2.8,2.8 0 1 0 5.6,0M452.1,85.0a2.8,2.8 0 1 0 -5.6,0a2.8,2.8 0 1 0 5.6,0M452.3,82.6a2.8,2.8 0 1 0 -5.6,0a2.8,2.8 0 1 0 5.6,0M452.4,83.1a2.8,2.8 0 1 0 -5.6,0a2.8,2.8 0 1 0 5.6,0M452.6,82.9a2.8,2.8 0 1 0 -5.6,0a2.8,2.8 0 1 0 5.6,0M452.7,83.5a2.8,2.8 0 1 0 -5.6,0a2.8,2.8 0 1 0 5.6,0M452.8,84.3a2.8,2.8 0 1 0 -5.6,0a2.8,2.8 0 1 0 5.6,0M453.0,78.7a2.8,2.8 0 1 0 -5.6,0a2.8,2.8 0 1 0 5.6,0M453.1,84.2a2.8,2.8 0 1 0 -5.6,0a2.8,2.8 0 1 0 5.6,0M453.3,82.6a2.8,2.8 0 1 0 -5.6,0a2.8,2.8 0 1 0 5.6,0M453.4,84.7a2.8,2.8 0 1 0 -5.6,0a2.8,2.8 0 1 0 5.6,0M453.6,79.3a2.8,2.8 0 1 0 -5.6,0a2.8,2.8 0 1 0 5.6,0M453.7,76.8a2.8,2.8 0 1 0 -5.6,0a2.8,2.8 0 1 0 5.6,0M453.9,83.2a2.8,2.8 0 1 0 -5.6,0a2.8,2.8 0 1 0 5.6,0M454.0,84.3a2.8,2.8 0 1 0 -5.6,0a2.8,2.8 0 1 0 5.6,0M454.1,84.4a2.8,2.8 0 1 0 -5.6,0a2.8,2.8 0 1 0 5.6,0M454.3,86.8a2.8,2.8 0 1 0 -5.6,0a2.8,2.8 0 1 0 5.6,0M454.4,86.7a2.8,2.8 0 1 0 -5.6,0a2.8,2.8 0 1 0 5.6,0M454.6,84.7a2.8,2.8 0 1 0 -5.6,0a2.8,2.8 0 1 0 5.6,0M454.7,83.5a2.8,2.8 0 1 0 -5.6,0a2.8,2.8 0 1 0 5.6,0M454.9,88.0a2.8,2.8 0 1 0 -5.6,0a2.8,2.8 0 1 0 5.6,0M455.0,85.8a2.8,2.8 0 1 0 -5.6,0a2.8,2.8 0 1 0 5.6,0M455.2,87.9a2.8,2.8 0 1 0 -5.6,0a2.8,2.8 0 1 0 5.6,0M455.3,82.4a2.8,2.8 0 1 0 -5.6,0a2.8,2.8 0 1 0 5.6,0M455.4,83.6a2.8,2.8 0 1 0 -5.6,0a2.8,2.8 0 1 0 5.6,0M455.6,86.6a2.8,2.8 0 1 0 -5.6,0a2.8,2.8 0 1 0 5.6,0M455.7,88.0a2.8,2.8 0 1 0 -5.6,0a2.8,2.8 0 1 0 5.6,0M455.9,89.5a2.8,2.8 0 1 0 -5.6,0a2.8,2.8 0 1 0 5.6,0M456.0,88.4a2.8,2.8 0 1 0 -5.6,0a2.8,2.8 0 1 0 5.6,0M456.2,90.3a2.8,2.8 0 1 0 -5.6,0a2.8,2.8 0 1 0 5.6,0M456.3,84.1a2.8,2.8 0 1 0 -5.6,0a2.8,2.8 0 1 0 5.6,0M456.5,91.5a2.8,2.8 0 1 0 -5.6,0a2.8,2.8 0 1 0 5.6,0M456.6,92.2a2.8,2.8 0 1 0 -5.6,0a2.8,2.8 0 1 0 5.6,0M456.7,84.7a2.8,2.8 0 1 0 -5.6,0a2.8,2.8 0 1 0 5.6,0M456.9,83.7a2.8,2.8 0 1 0 -5.6,0a2.8,2.8 0 1 0 5.6,0M457.0,87.1a2.8,2.8 0 1 0 -5.6,0a2.8,2.8 0 1 0 5.6,0M457.2,89.3a2.8,2.8 0 1 0 -5.6,0a2.8,2.8 0 1 0 5.6,0M457.3,86.9a2.8,2.8 0 1 0 -5.6,0a2.8,2.8 0 1 0 5.6,0M457.5,88.7a2.8,2.8 0 1 0 -5.6,0a2.8,2.8 0 1 0 5.6,0M457.6,88.9a2.8,2.8 0 1 0 -5.6,0a2.8,2.8 0 1 0 5.6,0M457.8,92.0a2.8,2.8 0 1 0 -5.6,0a2.8,2.8 0 1 0 5.6,0M457.9,86.3a2.8,2.8 0 1 0 -5.6,0a2.8,2.8 0 1 0 5.6,0M458.0,87.7a2.8,2.8 0 1 0 -5.6,0a2.8,2.8 0 1 0 5.6,0M458.2,85.3a2.8,2.8 0 1 0 -5.6,0a2.8,2.8 0 1 0 5.6,0M458.3,88.6a2.8,2.8 0 1 0 -5.6,0a2.8,2.8 0 1 0 5.6,0M458.5,84.0a2.8,2.8 0 1 0 -5.6,0a2.8,2.8 0 1 0 5.6,0M458.6,88.6a2.8,2.8 0 1 0 -5.6,0a2.8,2.8 0 1 0 5.6,0M458.8,89.2a2.8,2.8 0 1 0 -5.6,0a2.8,2.8 0 1 0 5.6,0M458.9,87.0a2.8,2.8 0 1 0 -5.6,0a2.8,2.8 0 1 0 5.6,0M459.1,88.0a2.8,2.8 0 1 0 -5.6,0a2.8,2.8 0 1 0 5.6,0M459.2,89.4a2.8,2.8 0 1 0 -5.6,0a2.8,2.8 0 1 0 5.6,0M459.4,82.7a2.8,2.8 0 1 0 -5.6,0a2.8,2.8 0 1 0 5.6,0M459.5,88.7a2.8,2.8 0 1 0 -5.6,0a2.8,2.8 0 1 0 5.6,0M459.6,85.3a2.8,2.8 0 1 0 -5.6,0a2.8,2.8 0 1 0 5.6,0M459.8,86.8a2.8,2.8 0 1 0 -5.6,0a2.8,2.8 0 1 0 5.6,0M459.9,86.5a2.8,2.8 0 1 0 -5.6,0a2.8,2.8 0 1 0 5.6,0M460.1,86.3a2.8,2.8 0 1 0 -5.6,0a2.8,2.8 0 1 0 5.6,0M460.2,85.3a2.8,2.8 0 1 0 -5.6,0a2.8,2.8 0 1 0 5.6,0M460.4,89.4a2.8,2.8 0 1 0 -5.6,0a2.8,2.8 0 1 0 5.6,0M460.5,87.0a2.8,2.8 0 1 0 -5.6,0a2.8,2.8 0 1 0 5.6,0M460.7,87.2a2.8,2.8 0 1 0 -5.6,0a2.8,2.8 0 1 0 5.6,0M460.8,88.7a2.8,2.8 0 1 0 -5.6,0a2.8,2.8 0 1 0 5.6,0M460.9,89.3a2.8,2.8 0 1 0 -5.6,0a2.8,2.8 0 1 0 5.6,0M461.1,86.3a2.8,2.8 0 1 0 -5.6,0a2.8,2.8 0 1 0 5.6,0M461.2,84.5a2.8,2.8 0 1 0 -5.6,0a2.8,2.8 0 1 0 5.6,0M461.4,83.3a2.8,2.8 0 1 0 -5.6,0a2.8,2.8 0 1 0 5.6,0M461.5,88.3a2.8,2.8 0 1 0 -5.6,0a2.8,2.8 0 1 0 5.6,0M461.7,81.7a2.8,2.8 0 1 0 -5.6,0a2.8,2.8 0 1 0 5.6,0M461.8,87.8a2.8,2.8 0 1 0 -5.6,0a2.8,2.8 0 1 0 5.6,0M462.0,84.9a2.8,2.8 0 1 0 -5.6,0a2.8,2.8 0 1 0 5.6,0M462.1,83.1a2.8,2.8 0 1 0 -5.6,0a2.8,2.8 0 1 0 5.6,0M462.2,92.1a2.8,2.8 0 1 0 -5.6,0a2.8,2.8 0 1 0 5.6,0M462.4,83.9a2.8,2.8 0 1 0 -5.6,0a2.8,2.8 0 1 0 5.6,0M462.5,80.8a2.8,2.8 0 1 0 -5.6,0a2.8,2.8 0 1 0 5.6,0M462.7,89.6a2.8,2.8 0 1 0 -5.6,0a2.8,2.8 0 1 0 5.6,0M462.8,83.1a2.8,2.8 0 1 0 -5.6,0a2.8,2.8 0 1 0 5.6,0M463.0,85.6a2.8,2.8 0 1 0 -5.6,0a2.8,2.8 0 1 0 5.6,0M463.1,87.3a2.8,2.8 0 1 0 -5.6,0a2.8,2.8 0 1 0 5.6,0M463.3,89.8a2.8,2.8 0 1 0 -5.6,0a2.8,2.8 0 1 0 5.6,0M463.4,85.3a2.8,2.8 0 1 0 -5.6,0a2.8,2.8 0 1 0 5.6,0M463.5,84.8a2.8,2.8 0 1 0 -5.6,0a2.8,2.8 0 1 0 5.6,0M463.7,88.3a2.8,2.8 0 1 0 -5.6,0a2.8,2.8 0 1 0 5.6,0M463.8,82.3a2.8,2.8 0 1 0 -5.6,0a2.8,2.8 0 1 0 5.6,0M464.0,87.0a2.8,2.8 0 1 0 -5.6,0a2.8,2.8 0 1 0 5.6,0M464.1,83.9a2.8,2.8 0 1 0 -5.6,0a2.8,2.8 0 1 0 5.6,0M464.3,86.8a2.8,2.8 0 1 0 -5.6,0a2.8,2.8 0 1 0 5.6,0M464.4,85.6a2.8,2.8 0 1 0 -5.6,0a2.8,2.8 0 1 0 5.6,0M464.6,83.5a2.8,2.8 0 1 0 -5.6,0a2.8,2.8 0 1 0 5.6,0M464.7,84.1a2.8,2.8 0 1 0 -5.6,0a2.8,2.8 0 1 0 5.6,0M464.8,81.7a2.8,2.8 0 1 0 -5.6,0a2.8,2.8 0 1 0 5.6,0M465.0,81.2a2.8,2.8 0 1 0 -5.6,0a2.8,2.8 0 1 0 5.6,0M465.1,86.0a2.8,2.8 0 1 0 -5.6,0a2.8,2.8 0 1 0 5.6,0M465.3,85.1a2.8,2.8 0 1 0 -5.6,0a2.8,2.8 0 1 0 5.6,0M465.4,87.6a2.8,2.8 0 1 0 -5.6,0a2.8,2.8 0 1 0 5.6,0M465.6,86.4a2.8,2.8 0 1 0 -5.6,0a2.8,2.8 0 1 0 5.6,0M465.7,83.9a2.8,2.8 0 1 0 -5.6,0a2.8,2.8 0 1 0 5.6,0M465.9,82.3a2.8,2.8 0 1 0 -5.6,0a2.8,2.8 0 1 0 5.6,0M466.0,86.3a2.8,2.8 0 1 0 -5.6,0a2.8,2.8 0 1 0 5.6,0M466.2,85.7a2.8,2.8 0 1 0 -5.6,0a2.8,2.8 0 1 0 5.6,0M466.3,89.4a2.8,2.8 0 1 0 -5.6,0a2.8,2.8 0 1 0 5.6,0M466.4,81.8a2.8,2.8 0 1 0 -5.6,0a2.8,2.8 0 1 0 5.6,0M466.6,84.2a2.8,2.8 0 1 0 -5.6,0a2.8,2.8 0 1 0 5.6,0M466.7,84.7a2.8,2.8 0 1 0 -5.6,0a2.8,2.8 0 1 0 5.6,0M466.9,84.6a2.8,2.8 0 1 0 -5.6,0a2.8,2.8 0 1 0 5.6,0M467.0,84.5a2.8,2.8 0 1 0 -5.6,0a2.8,2.8 0 1 0 5.6,0M467.2,88.8a2.8,2.8 0 1 0 -5.6,0a2.8,2.8 0 1 0 5.6,0M467.3,88.3a2.8,2.8 0 1 0 -5.6,0a2.8,2.8 0 1 0 5.6,0M467.5,86.4a2.8,2.8 0 1 0 -5.6,0a2.8,2.8 0 1 0 5.6,0M467.6,86.1a2.8,2.8 0 1 0 -5.6,0a2.8,2.8 0 1 0 5.6,0M467.7,82.5a2.8,2.8 0 1 0 -5.6,0a2.8,2.8 0 1 0 5.6,0M467.9,87.6a2.8,2.8 0 1 0 -5.6,0a2.8,2.8 0 1 0 5.6,0M468.0,81.9a2.8,2.8 0 1 0 -5.6,0a2.8,2.8 0 1 0 5.6,0M468.2,85.9a2.8,2.8 0 1 0 -5.6,0a2.8,2.8 0 1 0 5.6,0M468.3,85.4a2.8,2.8 0 1 0 -5.6,0a2.8,2.8 0 1 0 5.6,0M468.5,83.9a2.8,2.8 0 1 0 -5.6,0a2.8,2.8 0 1 0 5.6,0M468.6,84.9a2.8,2.8 0 1 0 -5.6,0a2.8,2.8 0 1 0 5.6,0M468.8,83.9a2.8,2.8 0 1 0 -5.6,0a2.8,2.8 0 1 0 5.6,0M468.9,85.0a2.8,2.8 0 1 0 -5.6,0a2.8,2.8 0 1 0 5.6,0M469.0,87.0a2.8,2.8 0 1 0 -5.6,0a2.8,2.8 0 1 0 5.6,0M469.2,82.9a2.8,2.8 0 1 0 -5.6,0a2.8,2.8 0 1 0 5.6,0M469.3,89.1a2.8,2.8 0 1 0 -5.6,0a2.8,2.8 0 1 0 5.6,0M469.5,82.0a2.8,2.8 0 1 0 -5.6,0a2.8,2.8 0 1 0 5.6,0M469.6,86.4a2.8,2.8 0 1 0 -5.6,0a2.8,2.8 0 1 0 5.6,0M469.8,87.4a2.8,2.8 0 1 0 -5.6,0a2.8,2.8 0 1 0 5.6,0M469.9,83.0a2.8,2.8 0 1 0 -5.6,0a2.8,2.8 0 1 0 5.6,0M470.1,82.6a2.8,2.8 0 1 0 -5.6,0a2.8,2.8 0 1 0 5.6,0M470.2,88.0a2.8,2.8 0 1 0 -5.6,0a2.8,2.8 0 1 0 5.6,0M470.3,86.9a2.8,2.8 0 1 0 -5.6,0a2.8,2.8 0 1 0 5.6,0M470.5,83.3a2.8,2.8 0 1 0 -5.6,0a2.8,2.8 0 1 0 5.6,0M470.6,88.5a2.8,2.8 0 1 0 -5.6,0a2.8,2.8 0 1 0 5.6,0M470.8,85.6a2.8,2.8 0 1 0 -5.6,0a2.8,2.8 0 1 0 5.6,0M470.9,88.1a2.8,2.8 0 1 0 -5.6,0a2.8,2.8 0 1 0 5.6,0M471.1,86.3a2.8,2.8 0 1 0 -5.6,0a2.8,2.8 0 1 0 5.6,0M471.2,89.9a2.8,2.8 0 1 0 -5.6,0a2.8,2.8 0 1 0 5.6,0M471.4,83.4a2.8,2.8 0 1 0 -5.6,0a2.8,2.8 0 1 0 5.6,0M471.5,87.9a2.8,2.8 0 1 0 -5.6,0a2.8,2.8 0 1 0 5.6,0M471.6,86.6a2.8,2.8 0 1 0 -5.6,0a2.8,2.8 0 1 0 5.6,0M471.8,85.1a2.8,2.8 0 1 0 -5.6,0a2.8,2.8 0 1 0 5.6,0M471.9,86.4a2.8,2.8 0 1 0 -5.6,0a2.8,2.8 0 1 0 5.6,0M472.1,85.0a2.8,2.8 0 1 0 -5.6,0a2.8,2.8 0 1 0 5.6,0M472.2,84.0a2.8,2.8 0 1 0 -5.6,0a2.8,2.8 0 1 0 5.6,0M472.4,83.9a2.8,2.8 0 1 0 -5.6,0a2.8,2.8 0 1 0 5.6,0M472.5,82.6a2.8,2.8 0 1 0 -5.6,0a2.8,2.8 0 1 0 5.6,0M472.7,88.9a2.8,2.8 0 1 0 -5.6,0a2.8,2.8 0 1 0 5.6,0M472.8,85.3a2.8,2.8 0 1 0 -5.6,0a2.8,2.8 0 1 0 5.6,0M473.0,86.4a2.8,2.8 0 1 0 -5.6,0a2.8,2.8 0 1 0 5.6,0M473.1,87.3a2.8,2.8 0 1 0 -5.6,0a2.8,2.8 0 1 0 5.6,0M473.2,82.6a2.8,2.8 0 1 0 -5.6,0a2.8,2.8 0 1 0 5.6,0M473.4,86.4a2.8,2.8 0 1 0 -5.6,0a2.8,2.8 0 1 0 5.6,0M473.5,86.5a2.8,2.8 0 1 0 -5.6,0a2.8,2.8 0 1 0 5.6,0M473.7,83.8a2.8,2.8 0 1 0 -5.6,0a2.8,2.8 0 1 0 5.6,0M473.8,86.4a2.8,2.8 0 1 0 -5.6,0a2.8,2.8 0 1 0 5.6,0M474.0,87.6a2.8,2.8 0 1 0 -5.6,0a2.8,2.8 0 1 0 5.6,0M474.1,94.0a2.8,2.8 0 1 0 -5.6,0a2.8,2.8 0 1 0 5.6,0M474.3,86.0a2.8,2.8 0 1 0 -5.6,0a2.8,2.8 0 1 0 5.6,0M474.4,85.9a2.8,2.8 0 1 0 -5.6,0a2.8,2.8 0 1 0 5.6,0M474.5,86.1a2.8,2.8 0 1 0 -5.6,0a2.8,2.8 0 1 0 5.6,0M474.7,89.5a2.8,2.8 0 1 0 -5.6,0a2.8,2.8 0 1 0 5.6,0M474.8,89.2a2.8,2.8 0 1 0 -5.6,0a2.8,2.8 0 1 0 5.6,0M475.0,89.2a2.8,2.8 0 1 0 -5.6,0a2.8,2.8 0 1 0 5.6,0M475.1,88.6a2.8,2.8 0 1 0 -5.6,0a2.8,2.8 0 1 0 5.6,0M475.3,87.5a2.8,2.8 0 1 0 -5.6,0a2.8,2.8 0 1 0 5.6,0M475.4,87.0a2.8,2.8 0 1 0 -5.6,0a2.8,2.8 0 1 0 5.6,0M475.6,92.4a2.8,2.8 0 1 0 -5.6,0a2.8,2.8 0 1 0 5.6,0M475.7,84.0a2.8,2.8 0 1 0 -5.6,0a2.8,2.8 0 1 0 5.6,0M475.8,89.0a2.8,2.8 0 1 0 -5.6,0a2.8,2.8 0 1 0 5.6,0M476.0,87.0a2.8,2.8 0 1 0 -5.6,0a2.8,2.8 0 1 0 5.6,0M476.1,85.2a2.8,2.8 0 1 0 -5.6,0a2.8,2.8 0 1 0 5.6,0M476.3,83.6a2.8,2.8 0 1 0 -5.6,0a2.8,2.8 0 1 0 5.6,0M476.4,86.0a2.8,2.8 0 1 0 -5.6,0a2.8,2.8 0 1 0 5.6,0M476.6,87.1a2.8,2.8 0 1 0 -5.6,0a2.8,2.8 0 1 0 5.6,0M476.7,87.8a2.8,2.8 0 1 0 -5.6,0a2.8,2.8 0 1 0 5.6,0M476.9,88.9a2.8,2.8 0 1 0 -5.6,0a2.8,2.8 0 1 0 5.6,0M477.0,89.2a2.8,2.8 0 1 0 -5.6,0a2.8,2.8 0 1 0 5.6,0M477.1,91.8a2.8,2.8 0 1 0 -5.6,0a2.8,2.8 0 1 0 5.6,0M477.3,85.6a2.8,2.8 0 1 0 -5.6,0a2.8,2.8 0 1 0 5.6,0M477.4,90.3a2.8,2.8 0 1 0 -5.6,0a2.8,2.8 0 1 0 5.6,0M477.6,86.9a2.8,2.8 0 1 0 -5.6,0a2.8,2.8 0 1 0 5.6,0M477.7,90.1a2.8,2.8 0 1 0 -5.6,0a2.8,2.8 0 1 0 5.6,0M477.9,82.2a2.8,2.8 0 1 0 -5.6,0a2.8,2.8 0 1 0 5.6,0M478.0,92.2a2.8,2.8 0 1 0 -5.6,0a2.8,2.8 0 1 0 5.6,0M478.2,89.0a2.8,2.8 0 1 0 -5.6,0a2.8,2.8 0 1 0 5.6,0M478.3,89.6a2.8,2.8 0 1 0 -5.6,0a2.8,2.8 0 1 0 5.6,0M478.4,87.6a2.8,2.8 0 1 0 -5.6,0a2.8,2.8 0 1 0 5.6,0M478.6,90.1a2.8,2.8 0 1 0 -5.6,0a2.8,2.8 0 1 0 5.6,0M478.7,86.9a2.8,2.8 0 1 0 -5.6,0a2.8,2.8 0 1 0 5.6,0M478.9,89.9a2.8,2.8 0 1 0 -5.6,0a2.8,2.8 0 1 0 5.6,0M479.0,89.8a2.8,2.8 0 1 0 -5.6,0a2.8,2.8 0 1 0 5.6,0M479.2,87.5a2.8,2.8 0 1 0 -5.6,0a2.8,2.8 0 1 0 5.6,0M479.3,81.5a2.8,2.8 0 1 0 -5.6,0a2.8,2.8 0 1 0 5.6,0M479.5,88.2a2.8,2.8 0 1 0 -5.6,0a2.8,2.8 0 1 0 5.6,0M479.6,84.3a2.8,2.8 0 1 0 -5.6,0a2.8,2.8 0 1 0 5.6,0M479.7,88.3a2.8,2.8 0 1 0 -5.6,0a2.8,2.8 0 1 0 5.6,0M479.9,83.5a2.8,2.8 0 1 0 -5.6,0a2.8,2.8 0 1 0 5.6,0M480.0,90.5a2.8,2.8 0 1 0 -5.6,0a2.8,2.8 0 1 0 5.6,0M480.2,87.4a2.8,2.8 0 1 0 -5.6,0a2.8,2.8 0 1 0 5.6,0M480.3,91.3a2.8,2.8 0 1 0 -5.6,0a2.8,2.8 0 1 0 5.6,0M480.5,89.3a2.8,2.8 0 1 0 -5.6,0a2.8,2.8 0 1 0 5.6,0M480.6,82.5a2.8,2.8 0 1 0 -5.6,0a2.8,2.8 0 1 0 5.6,0M480.8,84.3a2.8,2.8 0 1 0 -5.6,0a2.8,2.8 0 1 0 5.6,0M480.9,87.1a2.8,2.8 0 1 0 -5.6,0a2.8,2.8 0 1 0 5.6,0M481.1,87.3a2.8,2.8 0 1 0 -5.6,0a2.8,2.8 0 1 0 5.6,0M481.2,86.1a2.8,2.8 0 1 0 -5.6,0a2.8,2.8 0 1 0 5.6,0M481.3,88.3a2.8,2.8 0 1 0 -5.6,0a2.8,2.8 0 1 0 5.6,0M481.5,89.8a2.8,2.8 0 1 0 -5.6,0a2.8,2.8 0 1 0 5.6,0M481.6,86.2a2.8,2.8 0 1 0 -5.6,0a2.8,2.8 0 1 0 5.6,0M481.8,86.9a2.8,2.8 0 1 0 -5.6,0a2.8,2.8 0 1 0 5.6,0M481.9,90.8a2.8,2.8 0 1 0 -5.6,0a2.8,2.8 0 1 0 5.6,0M482.1,87.7a2.8,2.8 0 1 0 -5.6,0a2.8,2.8 0 1 0 5.6,0M482.2,85.0a2.8,2.8 0 1 0 -5.6,0a2.8,2.8 0 1 0 5.6,0M482.4,84.4a2.8,2.8 0 1 0 -5.6,0a2.8,2.8 0 1 0 5.6,0M482.5,87.6a2.8,2.8 0 1 0 -5.6,0a2.8,2.8 0 1 0 5.6,0M482.6,85.2a2.8,2.8 0 1 0 -5.6,0a2.8,2.8 0 1 0 5.6,0M482.8,87.2a2.8,2.8 0 1 0 -5.6,0a2.8,2.8 0 1 0 5.6,0M482.9,84.8a2.8,2.8 0 1 0 -5.6,0a2.8,2.8 0 1 0 5.6,0M483.1,82.8a2.8,2.8 0 1 0 -5.6,0a2.8,2.8 0 1 0 5.6,0M483.2,83.4a2.8,2.8 0 1 0 -5.6,0a2.8,2.8 0 1 0 5.6,0M483.4,79.8a2.8,2.8 0 1 0 -5.6,0a2.8,2.8 0 1 0 5.6,0M483.5,80.7a2.8,2.8 0 1 0 -5.6,0a2.8,2.8 0 1 0 5.6,0M483.7,82.5a2.8,2.8 0 1 0 -5.6,0a2.8,2.8 0 1 0 5.6,0M483.8,83.4a2.8,2.8 0 1 0 -5.6,0a2.8,2.8 0 1 0 5.6,0M483.9,81.5a2.8,2.8 0 1 0 -5.6,0a2.8,2.8 0 1 0 5.6,0M484.1,80.9a2.8,2.8 0 1 0 -5.6,0a2.8,2.8 0 1 0 5.6,0M484.2,81.0a2.8,2.8 0 1 0 -5.6,0a2.8,2.8 0 1 0 5.6,0M484.4,80.8a2.8,2.8 0 1 0 -5.6,0a2.8,2.8 0 1 0 5.6,0M484.5,79.7a2.8,2.8 0 1 0 -5.6,0a2.8,2.8 0 1 0 5.6,0M484.7,79.3a2.8,2.8 0 1 0 -5.6,0a2.8,2.8 0 1 0 5.6,0M484.8,78.5a2.8,2.8 0 1 0 -5.6,0a2.8,2.8 0 1 0 5.6,0M485.0,84.2a2.8,2.8 0 1 0 -5.6,0a2.8,2.8 0 1 0 5.6,0M485.1,80.4a2.8,2.8 0 1 0 -5.6,0a2.8,2.8 0 1 0 5.6,0M485.2,81.0a2.8,2.8 0 1 0 -5.6,0a2.8,2.8 0 1 0 5.6,0M485.4,83.2a2.8,2.8 0 1 0 -5.6,0a2.8,2.8 0 1 0 5.6,0M485.5,79.5a2.8,2.8 0 1 0 -5.6,0a2.8,2.8 0 1 0 5.6,0M485.7,79.4a2.8,2.8 0 1 0 -5.6,0a2.8,2.8 0 1 0 5.6,0M485.8,82.6a2.8,2.8 0 1 0 -5.6,0a2.8,2.8 0 1 0 5.6,0M486.0,75.8a2.8,2.8 0 1 0 -5.6,0a2.8,2.8 0 1 0 5.6,0M486.1,79.0a2.8,2.8 0 1 0 -5.6,0a2.8,2.8 0 1 0 5.6,0M486.3,82.3a2.8,2.8 0 1 0 -5.6,0a2.8,2.8 0 1 0 5.6,0M486.4,82.4a2.8,2.8 0 1 0 -5.6,0a2.8,2.8 0 1 0 5.6,0M486.5,80.7a2.8,2.8 0 1 0 -5.6,0a2.8,2.8 0 1 0 5.6,0" fill="none" stroke="#e9403b" stroke-width="1.1"/>
<path d="M385.4,358.8a2.2399999999999998,2.2399999999999998 0 1 0 -4.5,0a2.2399999999999998,2.2399999999999998 0 1 0 4.5,0M385.7,360.4a2.2399999999999998,2.2399999999999998 0 1 0 -4.5,0a2.2399999999999998,2.2399999999999998 0 1 0 4.5,0M387.2,352.3a2.2399999999999998,2.2399999999999998 0 1 0 -4.5,0a2.2399999999999998,2.2399999999999998 0 1 0 4.5,0M387.8,352.2a2.2399999999999998,2.2399999999999998 0 1 0 -4.5,0a2.2399999999999998,2.2399999999999998 0 1 0 4.5,0M388.0,350.4a2.2399999999999998,2.2399999999999998 0 1 0 -4.5,0a2.2399999999999998,2.2399999999999998 0 1 0 4.5,0M389.3,350.6a2.2399999999999998,2.2399999999999998 0 1 0 -4.5,0a2.2399999999999998,2.2399999999999998 0 1 0 4.5,0M389.5,352.7a2.2399999999999998,2.2399999999999998 0 1 0 -4.5,0a2.2399999999999998,2.2399999999999998 0 1 0 4.5,0M389.6,354.0a2.2399999999999998,2.2399999999999998 0 1 0 -4.5,0a2.2399999999999998,2.2399999999999998 0 1 0 4.5,0M391.2,348.2a2.2399999999999998,2.2399999999999998 0 1 0 -4.5,0a2.2399999999999998,2.2399999999999998 0 1 0 4.5,0M392.2,351.8a2.2399999999999998,2.2399999999999998 0 1 0 -4.5,0a2.2399999999999998,2.2399999999999998 0 1 0 4.5,0M395.1,333.3a2.2399999999999998,2.2399999999999998 0 1 0 -4.5,0a2.2399999999999998,2.2399999999999998 0 1 0 4.5,0M395.6,331.5a2.2399999999999998,2.2399999999999998 0 1 0 -4.5,0a2.2399999999999998,2.2399999999999998 0 1 0 4.5,0M396.1,313.8a2.2399999999999998,2.2399999999999998 0 1 0 -4.5,0a2.2399999999999998,2.2399999999999998 0 1 0 4.5,0M396.4,342.1a2.2399999999999998,2.2399999999999998 0 1 0 -4.5,0a2.2399999999999998,2.2399999999999998 0 1 0 4.5,0M396.4,337.3a2.2399999999999998,2.2399999999999998 0 1 0 -4.5,0a2.2399999999999998,2.2399999999999998 0 1 0 4.5,0M396.4,332.6a2.2399999999999998,2.2399999999999998 0 1 0 -4.5,0a2.2399999999999998,2.2399999999999998 0 1 0 4.5,0M396.4,327.8a2.2399999999999998,2.2399999999999998 0 1 0 -4.5,0a2.2399999999999998,2.2399999999999998 0 1 0 4.5,0M396.4,323.0a2.2399999999999998,2.2399999999999998 0 1 0 -4.5,0a2.2399999999999998,2.2399999999999998 0 1 0 4.5,0M396.4,318.2a2.2399999999999998,2.2399999999999998 0 1 0 -4.5,0a2.2399999999999998,2.2399999999999998 0 1 0 4.5,0M396.4,313.4a2.2399999999999998,2.2399999999999998 0 1 0 -4.5,0a2.2399999999999998,2.2399999999999998 0 1 0 4.5,0M396.4,308.7a2.2399999999999998,2.2399999999999998 0 1 0 -4.5,0a2.2399999999999998,2.2399999999999998 0 1 0 4.5,0M396.4,303.9a2.2399999999999998,2.2399999999999998 0 1 0 -4.5,0a2.2399999999999998,2.2399999999999998 0 1 0 4.5,0M396.4,299.1a2.2399999999999998,2.2399999999999998 0 1 0 -4.5,0a2.2399999999999998,2.2399999999999998 0 1 0 4.5,0M396.4,294.3a2.2399999999999998,2.2399999999999998 0 1 0 -4.5,0a2.2399999999999998,2.2399999999999998 0 1 0 4.5,0M396.4,289.5a2.2399999999999998,2.2399999999999998 0 1 0 -4.5,0a2.2399999999999998,2.2399999999999998 0 1 0 4.5,0M396.4,284.8a2.2399999999999998,2.2399999999999998 0 1 0 -4.5,0a2.2399999999999998,2.2399999999999998 0 1 0 4.5,0M396.4,280.0a2.2399999999999998,2.2399999999999998 0 1 0 -4.5,0a2.2399999999999998,2.2399999999999998 0 1 0 4.5,0M396.4,275.2a2.2399999999999998,2.2399999999999998 0 1 0 -4.5,0a2.2399999999999998,2.2399999999999998 0 1 0 4.5,0M396.4,270.4a2.2399999999999998,2.2399999999999998 0 1 0 -4.5,0a2.2399999999999998,2.2399999999999998 0 1 0 4.5,0M396.4,265.6a2.2399999999999998,2.2399999999999998 0 1 0 -4.5,0a2.2399999999999998,2.2399999999999998 0 1 0 4.5,0M396.4,260.9a2.2399999999999998,2.2399999999999998 0 1 0 -4.5,0a2.2399999999999998,2.2399999999999998 0 1 0 4.5,0M396.4,256.1a2.2399999999999998,2.2399999999999998 0 1 0 -4.5,0a2.2399999999999998,2.2399999999999998 0 1 0 4.5,0M396.4,251.3a2.2399999999999998,2.2399999999999998 0 1 0 -4.5,0a2.2399999999999998,2.2399999999999998 0 1 0 4.5,0M396.4,246.5a2.2399999999999998,2.2399999999999998 0 1 0 -4.5,0a2.2399999999999998,2.2399999999999998 0 1 0 4.5,0M396.4,241.8a2.2399999999999998,2.2399999999999998 0 1 0 -4.5,0a2.2399999999999998,2.2399999999999998 0 1 0 4.5,0M396.4,237.0a2.2399999999999998,2.2399999999999998 0 1 0 -4.5,0a2.2399999999999998,2.2399999999999998 0 1 0 4.5,0M396.4,232.2a2.2399999999999998,2.2399999999999998 0 1 0 -4.5,0a2.2399999999999998,2.2399999999999998 0 1 0 4.5,0M396.4,227.4a2.2399999999999998,2.2399999999999998 0 1 0 -4.5,0a2.2399999999999998,2.2399999999999998 0 1 0 4.5,0M396.4,222.6a2.2399999999999998,2.2399999999999998 0 1 0 -4.5,0a2.2399999999999998,2.2399999999999998 0 1 0 4.5,0M396.4,217.9a2.2399999999999998,2.2399999999999998 0 1 0 -4.5,0a2.2399999999999998,2.2399999999999998 0 1 0 4.5,0M396.4,213.1a2.2399999999999998,2.2399999999999998 0 1 0 -4.5,0a2.2399999999999998,2.2399999999999998 0 1 0 4.5,0M396.4,208.3a2.2399999999999998,2.2399999999999998 0 1 0 -4.5,0a2.2399999999999998,2.2399999999999998 0 1 0 4.5,0M396.4,203.5a2.2399999999999998,2.2399999999999998 0 1 0 -4.5,0a2.2399999999999998,2.2399999999999998 0 1 0 4.5,0M396.4,198.7a2.2399999999999998,2.2399999999999998 0 1 0 -4.5,0a2.2399999999999998,2.2399999999999998 0 1 0 4.5,0M396.4,194.0a2.2399999999999998,2.2399999999999998 0 1 0 -4.5,0a2.2399999999999998,2.2399999999999998 0 1 0 4.5,0M396.4,189.2a2.2399999999999998,2.2399999999999998 0 1 0 -4.5,0a2.2399999999999998,2.2399999999999998 0 1 0 4.5,0M396.4,184.4a2.2399999999999998,2.2399999999999998 0 1 0 -4.5,0a2.2399999999999998,2.2399999999999998 0 1 0 4.5,0M396.4,179.6a2.2399999999999998,2.2399999999999998 0 1 0 -4.5,0a2.2399999999999998,2.2399999999999998 0 1 0 4.5,0M396.4,174.8a2.2399999999999998,2.2399999999999998 0 1 0 -4.5,0a2.2399999999999998,2.2399999999999998 0 1 0 4.5,0M396.4,170.1a2.2399999999999998,2.2399999999999998 0 1 0 -4.5,0a2.2399999999999998,2.2399999999999998 0 1 0 4.5,0M396.4,165.3a2.2399999999999998,2.2399999999999998 0 1 0 -4.5,0a2.2399999999999998,2.2399999999999998 0 1 0 4.5,0M396.4,160.5a2.2399999999999998,2.2399999999999998 0 1 0 -4.5,0a2.2399999999999998,2.2399999999999998 0 1 0 4.5,0M396.4,155.7a2.2399999999999998,2.2399999999999998 0 1 0 -4.5,0a2.2399999999999998,2.2399999999999998 0 1 0 4.5,0M396.4,150.9a2.2399999999999998,2.2399999999999998 0 1 0 -4.5,0a2.2399999999999998,2.2399999999999998 0 1 0 4.5,0M396.4,146.2a2.2399999999999998,2.2399999999999998 0 1 0 -4.5,0a2.2399999999999998,2.2399999999999998 0 1 0 4.5,0M396.4,141.4a2.2399999999999998,2.2399999999999998 0 1 0 -4.5,0a2.2399999999999998,2.2399999999999998 0 1 0 4.5,0M396.4,136.6a2.2399999999999998,2.2399999999999998 0 1 0 -4.5,0a2.2399999999999998,2.2399999999999998 0 1 0 4.5,0M396.4,131.8a2.2399999999999998,2.2399999999999998 0 1 0 -4.5,0a2.2399999999999998,2.2399999999999998 0 1 0 4.5,0M396.4,127.0a2.2399999999999998,2.2399999999999998 0 1 0 -4.5,0a2.2399999999999998,2.2399999999999998 0 1 0 4.5,0M396.4,122.3a2.2399999999999998,2.2399999999999998 0 1 0 -4.5,0a2.2399999999999998,2.2399999999999998 0 1 0 4.5,0M396.4,117.5a2.2399999999999998,2.2399999999999998 0 1 0 -4.5,0a2.2399999999999998,2.2399999999999998 0 1 0 4.5,0M396.4,112.7a2.2399999999999998,2.2399999999999998 0 1 0 -4.5,0a2.2399999999999998,2.2399999999999998 0 1 0 4.5,0M396.4,107.9a2.2399999999999998,2.2399999999999998 0 1 0 -4.5,0a2.2399999999999998,2.2399999999999998 0 1 0 4.5,0M396.4,103.1a2.2399999999999998,2.2399999999999998 0 1 0 -4.5,0a2.2399999999999998,2.2399999999999998 0 1 0 4.5,0M396.4,98.4a2.2399999999999998,2.2399999999999998 0 1 0 -4.5,0a2.2399999999999998,2.2399999999999998 0 1 0 4.5,0M396.4,93.6a2.2399999999999998,2.2399999999999998 0 1 0 -4.5,0a2.2399999999999998,2.2399999999999998 0 1 0 4.5,0M396.4,88.8a2.2399999999999998,2.2399999999999998 0 1 0 -4.5,0a2.2399999999999998,2.2399999999999998 0 1 0 4.5,0M398.6,92.2a2.2399999999999998,2.2399999999999998 0 1 0 -4.5,0a2.2399999999999998,2.2399999999999998 0 1 0 4.5,0M402.8,83.1a2.2399999999999998,2.2399999999999998 0 1 0 -4.5,0a2.2399999999999998,2.2399999999999998 0 1 0 4.5,0M419.0,95.5a2.2399999999999998,2.2399999999999998 0 1 0 -4.5,0a2.2399999999999998,2.2399999999999998 0 1 0 4.5,0M422.8,91.9a2.2399999999999998,2.2399999999999998 0 1 0 -4.5,0a2.2399999999999998,2.2399999999999998 0 1 0 4.5,0M432.9,94.2a2.2399999999999998,2.2399999999999998 0 1 0 -4.5,0a2.2399999999999998,2.2399999999999998 0 1 0 4.5,0M435.5,88.8a2.2399999999999998,2.2399999999999998 0 1 0 -4.5,0a2.2399999999999998,2.2399999999999998 0 1 0 4.5,0M443.3,89.3a2.2399999999999998,2.2399999999999998 0 1 0 -4.5,0a2.2399999999999998,2.2399999999999998 0 1 0 4.5,0M444.6,86.6a2.2399999999999998,2.2399999999999998 0 1 0 -4.5,0a2.2399999999999998,2.2399999999999998 0 1 0 4.5,0M447.2,90.9a2.2399999999999998,2.2399999999999998 0 1 0 -4.5,0a2.2399999999999998,2.2399999999999998 0 1 0 4.5,0M451.1,87.4a2.2399999999999998,2.2399999999999998 0 1 0 -4.5,0a2.2399999999999998,2.2399999999999998 0 1 0 4.5,0M457.6,98.1a2.2399999999999998,2.2399999999999998 0 1 0 -4.5,0a2.2399999999999998,2.2399999999999998 0 1 0 4.5,0M476.0,102.7a2.2399999999999998,2.2399999999999998 0 1 0 -4.5,0a2.2399999999999998,2.2399999999999998 0 1 0 4.5,0M480.1,101.3a2.2399999999999998,2.2399999999999998 0 1 0 -4.5,0a2.2399999999999998,2.2399999999999998 0 1 0 4.5,0M480.6,93.4a2.2399999999999998,2.2399999999999998 0 1 0 -4.5,0a2.2399999999999998,2.2399999999999998 0 1 0 4.5,0M404.4,98.8a2.2399999999999998,2.2399999999999998 0 1 0 -4.5,0a2.2399999999999998,2.2399999999999998 0 1 0 4.5,0M404.7,94.5a2.2399999999999998,2.2399999999999998 0 1 0 -4.5,0a2.2399999999999998,2.2399999999999998 0 1 0 4.5,0M407.3,103.1a2.2399999999999998,2.2399999999999998 0 1 0 -4.5,0a2.2399999999999998,2.2399999999999998 0 1 0 4.5,0M407.7,101.0a2.2399999999999998,2.2399999999999998 0 1 0 -4.5,0a2.2399999999999998,2.2399999999999998 0 1 0 4.5,0M411.2,105.3a2.2399999999999998,2.2399999999999998 0 1 0 -4.5,0a2.2399999999999998,2.2399999999999998 0 1 0 4.5,0M411.6,101.0a2.2399999999999998,2.2399999999999998 0 1 0 -4.5,0a2.2399999999999998,2.2399999999999998 0 1 0 4.5,0M427.7,105.3a2.2399999999999998,2.2399999999999998 0 1 0 -4.5,0a2.2399999999999998,2.2399999999999998 0 1 0 4.5,0M428.0,111.8a2.2399999999999998,2.2399999999999998 0 1 0 -4.5,0a2.2399999999999998,2.2399999999999998 0 1 0 4.5,0M428.4,116.2a2.2399999999999998,2.2399999999999998 0 1 0 -4.5,0a2.2399999999999998,2.2399999999999998 0 1 0 4.5,0M428.7,109.7a2.2399999999999998,2.2399999999999998 0 1 0 -4.5,0a2.2399999999999998,2.2399999999999998 0 1 0 4.5,0M429.1,115.3a2.2399999999999998,2.2399999999999998 0 1 0 -4.5,0a2.2399999999999998,2.2399999999999998 0 1 0 4.5,0M429.6,107.5a2.2399999999999998,2.2399999999999998 0 1 0 -4.5,0a2.2399999999999998,2.2399999999999998 0 1 0 4.5,0M430.3,103.1a2.2399999999999998,2.2399999999999998 0 1 0 -4.5,0a2.2399999999999998,2.2399999999999998 0 1 0 4.5,0M480.9,96.6a2.2399999999999998,2.2399999999999998 0 1 0 -4.5,0a2.2399999999999998,2.2399999999999998 0 1 0 4.5,0" fill="none" stroke="#d98080" stroke-width="0.9"/>
<path d="M486.1,83.6a2.0999999999999996,2.0999999999999996 0 1 0 -4.2,0a2.0999999999999996,2.0999999999999996 0 1 0 4.2,0M486.1,87.3a2.0999999999999996,2.0999999999999996 0 1 0 -4.2,0a2.0999999999999996,2.0999999999999996 0 1 0 4.2,0M486.1,91.0a2.0999999999999996,2.0999999999999996 0 1 0 -4.2,0a2.0999999999999996,2.0999999999999996 0 1 0 4.2,0M486.1,94.7a2.0999999999999996,2.0999999999999996 0 1 0 -4.2,0a2.0999999999999996,2.0999999999999996 0 1 0 4.2,0M486.1,98.4a2.0999999999999996,2.0999999999999996 0 1 0 -4.2,0a2.0999999999999996,2.0999999999999996 0 1 0 4.2,0M486.1,102.1a2.0999999999999996,2.0999999999999996 0 1 0 -4.2,0a2.0999999999999996,2.0999999999999996 0 1 0 4.2,0M486.1,105.8a2.0999999999999996,2.0999999999999996 0 1 0 -4.2,0a2.0999999999999996,2.0999999999999996 0 1 0 4.2,0M486.1,109.4a2.0999999999999996,2.0999999999999996 0 1 0 -4.2,0a2.0999999999999996,2.0999999999999996 0 1 0 4.2,0M486.1,113.1a2.0999999999999996,2.0999999999999996 0 1 0 -4.2,0a2.0999999999999996,2.0999999999999996 0 1 0 4.2,0M486.1,116.8a2.0999999999999996,2.0999999999999996 0 1 0 -4.2,0a2.0999999999999996,2.0999999999999996 0 1 0 4.2,0M486.1,120.5a2.0999999999999996,2.0999999999999996 0 1 0 -4.2,0a2.0999999999999996,2.0999999999999996 0 1 0 4.2,0M486.1,124.2a2.0999999999999996,2.0999999999999996 0 1 0 -4.2,0a2.0999999999999996,2.0999999999999996 0 1 0 4.2,0M486.1,127.9a2.0999999999999996,2.0999999999999996 0 1 0 -4.2,0a2.0999999999999996,2.0999999999999996 0 1 0 4.2,0M486.1,131.6a2.0999999999999996,2.0999999999999996 0 1 0 -4.2,0a2.0999999999999996,2.0999999999999996 0 1 0 4.2,0M486.1,135.3a2.0999999999999996,2.0999999999999996 0 1 0 -4.2,0a2.0999999999999996,2.0999999999999996 0 1 0 4.2,0M486.1,139.0a2.0999999999999996,2.0999999999999996 0 1 0 -4.2,0a2.0999999999999996,2.0999999999999996 0 1 0 4.2,0M486.1,142.7a2.0999999999999996,2.0999999999999996 0 1 0 -4.2,0a2.0999999999999996,2.0999999999999996 0 1 0 4.2,0M486.1,146.4a2.0999999999999996,2.0999999999999996 0 1 0 -4.2,0a2.0999999999999996,2.0999999999999996 0 1 0 4.2,0M486.1,150.1a2.0999999999999996,2.0999999999999996 0 1 0 -4.2,0a2.0999999999999996,2.0999999999999996 0 1 0 4.2,0M486.1,153.8a2.0999999999999996,2.0999999999999996 0 1 0 -4.2,0a2.0999999999999996,2.0999999999999996 0 1 0 4.2,0M486.1,157.5a2.0999999999999996,2.0999999999999996 0 1 0 -4.2,0a2.0999999999999996,2.0999999999999996 0 1 0 4.2,0M486.1,161.2a2.0999999999999996,2.0999999999999996 0 1 0 -4.2,0a2.0999999999999996,2.0999999999999996 0 1 0 4.2,0M486.1,164.8a2.0999999999999996,2.0999999999999996 0 1 0 -4.2,0a2.0999999999999996,2.0999999999999996 0 1 0 4.2,0M486.1,168.5a2.0999999999999996,2.0999999999999996 0 1 0 -4.2,0a2.0999999999999996,2.0999999999999996 0 1 0 4.2,0M486.1,172.2a2.0999999999999996,2.0999999999999996 0 1 0 -4.2,0a2.0999999999999996,2.0999999999999996 0 1 0 4.2,0M486.1,175.9a2.0999999999999996,2.0999999999999996 0 1 0 -4.2,0a2.0999999999999996,2.0999999999999996 0 1 0 4.2,0M486.1,179.6a2.0999999999999996,2.0999999999999996 0 1 0 -4.2,0a2.0999999999999996,2.0999999999999996 0 1 0 4.2,0M486.1,183.3a2.0999999999999996,2.0999999999999996 0 1 0 -4.2,0a2.0999999999999996,2.0999999999999996 0 1 0 4.2,0M486.1,187.0a2.0999999999999996,2.0999999999999996 0 1 0 -4.2,0a2.0999999999999996,2.0999999999999996 0 1 0 4.2,0M486.1,190.7a2.0999999999999996,2.0999999999999996 0 1 0 -4.2,0a2.0999999999999996,2.0999999999999996 0 1 0 4.2,0M486.1,194.4a2.0999999999999996,2.0999999999999996 0 1 0 -4.2,0a2.0999999999999996,2.0999999999999996 0 1 0 4.2,0M486.1,198.1a2.0999999999999996,2.0999999999999996 0 1 0 -4.2,0a2.0999999999999996,2.0999999999999996 0 1 0 4.2,0M486.1,201.8a2.0999999999999996,2.0999999999999996 0 1 0 -4.2,0a2.0999999999999996,2.0999999999999996 0 1 0 4.2,0M486.1,205.5a2.0999999999999996,2.0999999999999996 0 1 0 -4.2,0a2.0999999999999996,2.0999999999999996 0 1 0 4.2,0M486.1,209.2a2.0999999999999996,2.0999999999999996 0 1 0 -4.2,0a2.0999999999999996,2.0999999999999996 0 1 0 4.2,0M486.1,212.9a2.0999999999999996,2.0999999999999996 0 1 0 -4.2,0a2.0999999999999996,2.0999999999999996 0 1 0 4.2,0M486.1,216.5a2.0999999999999996,2.0999999999999996 0 1 0 -4.2,0a2.0999999999999996,2.0999999999999996 0 1 0 4.2,0M486.1,220.2a2.0999999999999996,2.0999999999999996 0 1 0 -4.2,0a2.0999999999999996,2.0999999999999996 0 1 0 4.2,0M486.1,223.9a2.0999999999999996,2.0999999999999996 0 1 0 -4.2,0a2.0999999999999996,2.0999999999999996 0 1 0 4.2,0M486.1,227.6a2.0999999999999996,2.0999999999999996 0 1 0 -4.2,0a2.0999999999999996,2.0999999999999996 0 1 0 4.2,0M486.1,231.3a2.0999999999999996,2.0999999999999996 0 1 0 -4.2,0a2.0999999999999996,2.0999999999999996 0 1 0 4.2,0M486.1,235.0a2.0999999999999996,2.0999999999999996 0 1 0 -4.2,0a2.0999999999999996,2.0999999999999996 0 1 0 4.2,0M486.1,238.7a2.0999999999999996,2.0999999999999996 0 1 0 -4.2,0a2.0999999999999996,2.0999999999999996 0 1 0 4.2,0M486.1,242.4a2.0999999999999996,2.0999999999999996 0 1 0 -4.2,0a2.0999999999999996,2.0999999999999996 0 1 0 4.2,0M486.1,246.1a2.0999999999999996,2.0999999999999996 0 1 0 -4.2,0a2.0999999999999996,2.0999999999999996 0 1 0 4.2,0M486.1,249.8a2.0999999999999996,2.0999999999999996 0 1 0 -4.2,0a2.0999999999999996,2.0999999999999996 0 1 0 4.2,0M486.1,253.5a2.0999999999999996,2.0999999999999996 0 1 0 -4.2,0a2.0999999999999996,2.0999999999999996 0 1 0 4.2,0M486.1,257.2a2.0999999999999996,2.0999999999999996 0 1 0 -4.2,0a2.0999999999999996,2.0999999999999996 0 1 0 4.2,0M486.1,260.9a2.0999999999999996,2.0999999999999996 0 1 0 -4.2,0a2.0999999999999996,2.0999999999999996 0 1 0 4.2,0M486.1,264.6a2.0999999999999996,2.0999999999999996 0 1 0 -4.2,0a2.0999999999999996,2.0999999999999996 0 1 0 4.2,0M486.1,268.3a2.0999999999999996,2.0999999999999996 0 1 0 -4.2,0a2.0999999999999996,2.0999999999999996 0 1 0 4.2,0M486.1,271.9a2.0999999999999996,2.0999999999999996 0 1 0 -4.2,0a2.0999999999999996,2.0999999999999996 0 1 0 4.2,0M486.1,275.6a2.0999999999999996,2.0999999999999996 0 1 0 -4.2,0a2.0999999999999996,2.0999999999999996 0 1 0 4.2,0M486.1,279.3a2.0999999999999996,2.0999999999999996 0 1 0 -4.2,0a2.0999999999999996,2.0999999999999996 0 1 0 4.2,0M486.1,283.0a2.0999999999999996,2.0999999999999996 0 1 0 -4.2,0a2.0999999999999996,2.0999999999999996 0 1 0 4.2,0M486.1,286.7a2.0999999999999996,2.0999999999999996 0 1 0 -4.2,0a2.0999999999999996,2.0999999999999996 0 1 0 4.2,0M486.1,290.4a2.0999999999999996,2.0999999999999996 0 1 0 -4.2,0a2.0999999999999996,2.0999999999999996 0 1 0 4.2,0M486.1,294.1a2.0999999999999996,2.0999999999999996 0 1 0 -4.2,0a2.0999999999999996,2.0999999999999996 0 1 0 4.2,0M486.1,297.8a2.0999999999999996,2.0999999999999996 0 1 0 -4.2,0a2.0999999999999996,2.0999999999999996 0 1 0 4.2,0M486.1,301.5a2.0999999999999996,2.0999999999999996 0 1 0 -4.2,0a2.0999999999999996,2.0999999999999996 0 1 0 4.2,0M486.1,305.2a2.0999999999999996,2.0999999999999996 0 1 0 -4.2,0a2.0999999999999996,2.0999999999999996 0 1 0 4.2,0M486.1,308.9a2.0999999999999996,2.0999999999999996 0 1 0 -4.2,0a2.0999999999999996,2.0999999999999996 0 1 0 4.2,0M486.1,312.6a2.0999999999999996,2.0999999999999996 0 1 0 -4.2,0a2.0999999999999996,2.0999999999999996 0 1 0 4.2,0M486.1,316.3a2.0999999999999996,2.0999999999999996 0 1 0 -4.2,0a2.0999999999999996,2.0999999999999996 0 1 0 4.2,0M486.1,320.0a2.0999999999999996,2.0999999999999996 0 1 0 -4.2,0a2.0999999999999996,2.0999999999999996 0 1 0 4.2,0M486.1,323.7a2.0999999999999996,2.0999999999999996 0 1 0 -4.2,0a2.0999999999999996,2.0999999999999996 0 1 0 4.2,0M486.1,327.3a2.0999999999999996,2.0999999999999996 0 1 0 -4.2,0a2.0999999999999996,2.0999999999999996 0 1 0 4.2,0M486.1,331.0a2.0999999999999996,2.0999999999999996 0 1 0 -4.2,0a2.0999999999999996,2.0999999999999996 0 1 0 4.2,0M486.1,334.7a2.0999999999999996,2.0999999999999996 0 1 0 -4.2,0a2.0999999999999996,2.0999999999999996 0 1 0 4.2,0M486.1,338.4a2.0999999999999996,2.0999999999999996 0 1 0 -4.2,0a2.0999999999999996,2.0999999999999996 0 1 0 4.2,0M486.1,342.1a2.0999999999999996,2.0999999999999996 0 1 0 -4.2,0a2.0999999999999996,2.0999999999999996 0 1 0 4.2,0M486.1,345.8a2.0999999999999996,2.0999999999999996 0 1 0 -4.2,0a2.0999999999999996,2.0999999999999996 0 1 0 4.2,0M486.1,349.5a2.0999999999999996,2.0999999999999996 0 1 0 -4.2,0a2.0999999999999996,2.0999999999999996 0 1 0 4.2,0" fill="none" stroke="#e08a8a" stroke-width="0.9"/>
<path d="M484.0,339.9 L484.1,359.5 L498,359.5" fill="none" stroke="#e03535" stroke-width="5" stroke-linejoin="round"/>
<path d="M487,360.0 L494,360.0" stroke="#4a1414" stroke-width="2.5"/>
</g>
<path d="M60,12H494V368H60" fill="none" stroke="#2a2a2a" stroke-width="1.8"/><path d="M60,11.1V368.9" stroke="#585858" stroke-width="1.8"/>
<path d="M60.3,368V361.5M132.6,368V361.5M205.0,368V361.5M277.3,368V361.5M349.6,368V361.5M422.0,368V361.5M494.3,368V361.5M96.5,368V364.5M168.8,368V364.5M241.1,368V364.5M313.5,368V364.5M385.8,368V364.5M458.1,368V364.5M60,360.0H66.5M60,290.4H66.5M60,220.8H66.5M60,151.2H66.5M60,81.6H66.5M60,12.0H66.5M60,325.2H63.5M60,255.6H63.5M60,186.0H63.5M60,116.4H63.5M60,46.8H63.5M494,359.5H487.5M494,272.6H487.5M494,185.7H487.5M494,98.8H487.5M494,11.9H487.5M494,316.1H490.5M494,229.1H490.5M494,142.2H490.5M494,55.3H490.5" stroke="#222" stroke-width="1.5" fill="none"/>
<text x="60.3" y="390.3" text-anchor="middle" font-family='"Liberation Serif", serif' font-size="18" fill="#111">0</text>
<text x="132.6" y="390.3" text-anchor="middle" font-family='"Liberation Serif", serif' font-size="18" fill="#111">50</text>
<text x="205.0" y="390.3" text-anchor="middle" font-family='"Liberation Serif", serif' font-size="18" fill="#111">100</text>
<text x="277.3" y="390.3" text-anchor="middle" font-family='"Liberation Serif", serif' font-size="18" fill="#111">150</text>
<text x="349.6" y="390.3" text-anchor="middle" font-family='"Liberation Serif", serif' font-size="18" fill="#111">200</text>
<text x="422.0" y="390.3" text-anchor="middle" font-family='"Liberation Serif", serif' font-size="18" fill="#111">250</text>
<text x="494.3" y="390.3" text-anchor="middle" font-family='"Liberation Serif", serif' font-size="18" fill="#111">300</text>
<text x="52" y="366.1" text-anchor="end" font-family='"Liberation Serif", serif' font-size="18" fill="#111">0</text>
<text x="52" y="296.5" text-anchor="end" font-family='"Liberation Serif", serif' font-size="18" fill="#111">40</text>
<text x="52" y="226.9" text-anchor="end" font-family='"Liberation Serif", serif' font-size="18" fill="#111">80</text>
<text x="52" y="157.3" text-anchor="end" font-family='"Liberation Serif", serif' font-size="18" fill="#111">120</text>
<text x="52" y="87.7" text-anchor="end" font-family='"Liberation Serif", serif' font-size="18" fill="#111">160</text>
<text x="52" y="18.1" text-anchor="end" font-family='"Liberation Serif", serif' font-size="18" fill="#111">200</text>
<text x="503" y="365.6" font-family='"Liberation Serif", serif' font-size="18" fill="#111">0</text>
<text x="503" y="278.7" font-family='"Liberation Serif", serif' font-size="18" fill="#111">2</text>
<text x="503" y="191.8" font-family='"Liberation Serif", serif' font-size="18" fill="#111">4</text>
<text x="503" y="104.9" font-family='"Liberation Serif", serif' font-size="18" fill="#111">6</text>
<text x="503" y="18.0" font-family='"Liberation Serif", serif' font-size="18" fill="#111">8</text>
<text x="277.0" y="415.9" text-anchor="middle" font-family='"Liberation Serif", serif' font-size="18.7" fill="#111">Time (s)</text>
<text transform="translate(15.700000000000003,190.8) rotate(-90)" text-anchor="middle" font-family='"Liberation Serif", serif' font-size="18.6" fill="#111">Inter-electrode voltage (V)</text>
<text transform="translate(531.5,188) rotate(-90)" text-anchor="middle" font-family='"Liberation Serif", serif' font-size="18.9" fill="#111">Circuit current (A)</text>
<clipPath id="clipb"><rect x="601" y="12" width="435" height="356"/></clipPath>
<g clip-path="url(#clipb)">
<path d="M576.9,99.0 L630.0,99.0 L630.0,81.6 L660.9,81.6" fill="none" stroke="#454545" stroke-width="6.8" stroke-linejoin="miter"/>
<line x1="630.0" y1="95.5" x2="630.0" y2="85.1" stroke="#9a9a9a" stroke-width="4" stroke-dasharray="1.6,1.2"/>
<path d="M597,359.5 L661.4,359.5" stroke="#e23a3a" stroke-width="6"/>
<path d="M702.9,293.9 L703.9,295.4 L704.8,298.4 L705.8,300.2 L706.8,300.6 L707.7,300.9 L708.7,301.3 L709.7,301.7 L710.6,302.1 L711.6,302.5 L712.6,302.9 L713.5,303.3 L714.5,303.7 L715.5,304.1 L716.4,304.5 L717.4,304.8 L718.4,305.0 L719.3,305.1 L720.3,305.2 L721.3,305.4 L722.2,305.5 L723.2,305.6 L724.2,305.7 L725.1,305.9 L726.1,306.0 L727.1,306.1 L728.0,306.2 L729.0,306.4 L730.0,306.5 L730.9,306.6 L731.9,306.8 L732.9,306.9 L733.8,307.0 L734.8,307.2 L735.8,307.3 L736.7,307.5 L737.7,307.6 L738.7,307.8 L739.6,307.9 L740.6,308.1 L741.6,308.2 L742.5,308.4 L743.5,308.5 L744.5,308.7 L745.4,308.8 L746.4,308.9 L747.3,308.9 L748.3,308.6 L749.3,308.3 L750.2,308.0 L751.2,307.7 L752.2,307.4 L753.1,307.1 L754.1,306.8 L755.1,306.5 L756.0,306.2 L757.0,306.0 L758.0,305.7 L758.9,305.4 L759.9,305.1 L760.9,304.8 L761.8,304.5 L762.8,304.3 L763.8,304.2 L764.7,304.0 L765.7,303.8 L766.7,303.7 L767.6,303.5 L768.6,303.4 L769.6,303.2 L770.5,303.0 L771.5,302.9 L772.5,302.7 L773.4,302.5 L774.4,302.4 L775.4,302.2 L776.3,302.1 L777.3,302.1 L778.3,302.1 L779.2,302.1 L780.2,302.1 L781.2,302.1 L782.1,302.1 L783.1,302.1 L784.1,302.1 L785.0,302.1 L786.0,302.1 L787.0,302.1 L787.9,302.1 L788.9,302.1 L789.9,302.1 L790.8,302.1 L791.8,302.1 L792.8,302.1 L793.7,302.1 L794.7,302.1 L795.6,302.1 L796.6,302.1 L797.6,302.1 L798.5,302.1 L799.5,301.3 L800.5,300.6 L801.4,299.8 L802.4,299.1 L803.4,298.3 L804.3,297.6 L805.3,296.8 L806.3,296.1 L807.2,295.3 L808.2,295.1 L809.2,295.6 L810.1,296.0 L811.1,296.4 L812.1,296.8 L813.0,297.3 L814.0,297.7 L815.0,298.1 L815.9,298.5 L816.9,299.0 L817.9,299.4 L818.8,299.8 L819.8,300.2 L820.8,300.7 L821.7,300.9 L822.7,301.1 L823.7,301.3 L824.6,301.5 L825.6,301.7 L826.6,301.9 L827.5,302.2 L828.5,302.4 L829.5,302.6 L830.4,302.8 L831.4,303.0 L832.4,303.2 L833.3,303.4 L834.3,303.7 L835.3,303.9 L836.2,304.1 L837.2,304.2 L838.2,304.4 L839.1,304.6 L840.1,304.8 L841.1,305.0 L842.0,305.1 L843.0,305.3 L843.9,305.5 L844.9,305.7 L845.9,305.9 L846.8,306.0 L847.8,306.2 L848.8,306.4 L849.7,306.6 L850.7,306.8 L851.7,306.4 L852.6,306.1 L853.6,305.8 L854.6,305.5 L855.5,305.2 L856.5,304.8 L857.5,304.5 L858.4,304.2 L859.4,303.9 L860.4,303.6 L861.3,303.2 L862.3,302.9 L863.3,303.0 L864.2,303.0 L865.2,303.1 L866.2,303.1 L867.1,303.1 L868.1,303.2 L869.1,303.2 L870.0,303.3 L871.0,303.3 L872.0,303.3 L872.9,303.4 L873.9,303.4 L874.9,303.5 L875.8,303.5 L876.8,303.6 L877.8,303.6 L878.7,303.6 L879.7,303.7 L880.7,303.7 L881.6,303.8 L882.6,303.8 L883.6,303.8 L884.5,303.9 L885.5,303.9 L886.5,304.0 L887.4,303.7 L888.4,303.4 L889.4,303.1 L890.3,302.9 L891.3,302.6 L892.2,302.3 L893.2,302.0 L894.2,301.7 L895.1,301.5 L896.1,301.2 L897.1,300.9 L898.0,300.6 L899.0,300.4 L900.0,300.1 L900.9,299.8 L901.9,299.9 L902.9,299.9 L903.8,300.0 L904.8,300.0 L905.8,300.1 L906.7,300.2 L907.7,300.2 L908.7,300.3 L909.6,300.3 L910.6,300.4 L911.6,300.5 L912.5,300.5 L913.5,300.6 L914.5,300.6 L915.4,300.7 L916.4,300.8 L917.4,300.8 L918.3,300.9 L919.3,300.9 L920.3,301.0 L921.2,301.1 L922.2,301.1 L923.2,301.2 L924.1,301.2 L925.1,301.2 L926.1,301.2 L927.0,301.2 L928.0,301.2 L929.0,301.3 L929.9,301.3 L930.9,301.3 L931.9,301.3 L932.8,301.3 L933.8,301.3 L934.8,301.3 L935.7,301.3 L936.7,301.4 L937.7,301.4 L938.6,301.4 L939.6,301.4 L940.5,301.4 L941.5,301.4 L942.5,301.4 L943.4,301.4 L944.4,301.5 L945.4,301.5 L946.3,301.5 L947.3,301.5 L948.3,301.5 L949.2,301.5 L950.2,301.5 L951.2,301.5 L952.1,301.5 L953.1,301.4 L954.1,301.4 L955.0,301.3 L956.0,301.2 L957.0,301.2 L957.9,301.1 L958.9,301.0 L959.9,301.0 L960.8,300.9 L961.8,300.9 L962.8,300.8 L963.7,300.7 L964.7,300.7 L965.7,300.6 L966.6,300.6 L967.6,300.5 L968.6,300.4 L969.5,300.4 L970.5,300.3 L971.5,300.3 L972.4,300.2 L973.4,300.1 L974.4,300.1 L975.3,300.0 L976.3,299.9 L977.3,299.9 L978.2,299.8 L979.2,300.0 L980.2,300.4 L981.1,300.8 L982.1,301.2 L983.1,301.7 L984.0,302.1 L985.0,302.5 L986.0,302.9 L986.9,303.3 L987.9,303.7 L988.8,304.1 L989.8,304.5 L990.8,305.0 L991.7,305.4 L992.7,305.3 L993.7,305.3 L994.6,305.3 L995.6,305.3 L996.6,305.3 L997.5,305.2 L998.5,305.2 L999.5,305.2" fill="none" stroke="#3e3e3e" stroke-width="7" stroke-linejoin="round"/>
<path d="M661.4,91.6 L661.9,91.2 L662.3,90.8 L662.8,90.4 L663.3,90.1 L663.8,89.8 L664.3,89.6 L664.8,89.5 L665.2,89.4 L665.7,89.5 L666.2,89.5 L666.7,89.7 L667.2,89.9 L667.7,90.2 L668.1,90.6 L668.6,91.0 L669.1,91.4 L669.6,91.8 L670.1,92.3 L670.6,92.7 L671.0,93.1 L671.5,93.5 L672.0,93.9 L672.5,94.1 L673.0,94.4 L673.4,94.5 L673.9,94.6 L674.4,94.6 L674.9,94.6 L675.4,94.5 L675.9,94.3 L676.3,94.0 L676.8,93.7 L677.3,93.3 L677.8,92.9 L678.3,92.5 L678.8,92.0 L679.2,91.6 L679.7,91.2 L680.2,90.8 L680.7,90.4 L681.2,90.1 L681.7,89.8 L682.1,89.6 L682.6,89.5 L683.1,89.4 L683.6,89.5 L684.1,89.6 L684.6,89.7 L685.0,90.0 L685.5,90.3 L686.0,90.6 L686.5,91.0 L687.0,91.4 L687.5,91.8 L687.9,92.3 L688.4,92.7 L688.9,93.1 L689.4,93.5 L689.9,93.9 L690.4,93.8 L690.8,95.5 L691.3,97.3 L691.8,99.0 L692.3,100.7 L692.8,102.5 L693.3,104.2 L693.7,106.0 L694.2,107.7 L694.7,109.4 L695.2,111.2 L695.7,112.9 L696.2,114.7 L696.6,116.4 L697.1,118.1 L697.6,119.9 L698.1,121.6 L698.6,123.4 L699.0,125.1 L699.5,126.8" fill="none" stroke="#3e3e3e" stroke-width="10" stroke-linejoin="round"/>
<path d="M702.4,87.1 L703.4,86.4 L704.4,85.7 L705.3,85.0 L706.3,84.3 L707.3,83.6 L708.2,82.9 L709.2,82.2 L710.2,81.7 L711.1,81.3 L712.1,81.0 L713.1,80.6 L714.0,80.3 L715.0,79.9 L716.0,79.6 L716.9,79.2 L717.9,78.9 L718.9,78.6 L719.8,78.2 L720.8,77.9 L721.7,77.5 L722.7,78.5 L723.7,79.4 L724.6,80.3 L725.6,81.3 L726.6,82.2 L727.5,83.2 L728.5,82.4 L729.5,81.6 L730.4,80.8 L731.4,80.0 L732.4,79.2 L733.3,78.4 L734.3,77.6 L735.3,76.8 L736.2,76.0 L737.2,75.2 L738.2,74.4 L739.1,73.6 L740.1,73.0 L741.1,72.8 L742.0,72.5 L743.0,72.3 L744.0,72.0 L744.9,71.8 L745.9,71.6 L746.9,71.3 L747.8,71.1 L748.8,70.8 L749.8,70.6 L750.7,72.0 L751.7,73.5 L752.7,74.9 L753.6,76.4 L754.6,77.3 L755.6,77.7 L756.5,78.1 L757.5,78.4 L758.5,78.8 L759.4,79.2 L760.4,79.6 L761.4,80.0 L762.3,80.4 L763.3,80.8 L764.3,81.2 L765.2,81.6 L766.2,82.0 L767.2,82.4 L768.1,82.8 L769.1,83.2 L770.0,83.3 L771.0,83.4 L772.0,83.6 L772.9,83.7 L773.9,83.9 L774.9,84.0 L775.8,84.1 L776.8,84.3 L777.8,84.4 L778.7,84.6 L779.7,84.7 L780.7,84.8 L781.6,85.0 L782.6,85.1 L783.6,85.3 L784.5,85.3 L785.5,85.3 L786.5,85.3 L787.4,85.3 L788.4,85.3 L789.4,85.3 L790.3,85.3 L791.3,85.3 L792.3,85.3 L793.2,85.3 L794.2,85.3 L795.2,85.3 L796.1,85.3 L797.1,85.3 L798.1,85.3 L799.0,85.3 L800.0,85.3 L801.0,85.3 L801.9,85.3 L802.9,86.6 L803.9,87.9 L804.8,89.2 L805.8,90.5 L806.8,91.8 L807.7,93.2 L808.7,93.1 L809.7,93.0 L810.6,92.9 L811.6,92.8 L812.6,92.7 L813.5,92.6 L814.5,92.5 L815.5,92.4 L816.4,92.3 L817.4,91.6 L818.3,91.0 L819.3,90.3 L820.3,89.6 L821.2,89.0 L822.2,88.3 L823.2,87.7 L824.1,87.0 L825.1,86.3 L826.1,85.7 L827.0,85.0 L828.0,84.4 L829.0,83.9 L829.9,83.7 L830.9,83.4 L831.9,83.2 L832.8,82.9 L833.8,82.7 L834.8,82.4 L835.7,82.2 L836.7,81.9 L837.7,81.7 L838.6,81.4 L839.6,81.2 L840.6,80.9 L841.5,80.7 L842.5,80.4 L843.5,80.2 L844.4,79.9 L845.4,79.7 L846.4,79.4 L847.3,79.2 L848.3,78.9 L849.3,78.9 L850.2,79.1 L851.2,79.4 L852.2,79.6 L853.1,79.8 L854.1,80.0 L855.1,80.3 L856.0,80.5 L857.0,80.7 L858.0,80.9 L858.9,81.2 L859.9,81.4 L860.9,81.6 L861.8,81.8 L862.8,82.0 L863.8,82.3 L864.7,82.5 L865.7,82.7 L866.6,82.9 L867.6,83.2 L868.6,83.1 L869.5,83.1 L870.5,83.0 L871.5,83.0 L872.4,83.0 L873.4,82.9 L874.4,82.9 L875.3,82.9 L876.3,82.8 L877.3,82.8 L878.2,82.7 L879.2,82.7 L880.2,82.7 L881.1,82.6 L882.1,82.6 L883.1,82.6 L884.0,82.5 L885.0,82.5 L886.0,82.4 L886.9,82.4 L887.9,82.4 L888.9,82.3 L889.8,82.3 L890.8,82.9 L891.8,83.6 L892.7,84.2 L893.7,84.9 L894.7,85.5 L895.6,86.2 L896.6,86.9 L897.6,87.5 L898.5,88.2 L899.5,88.8 L900.5,88.6 L901.4,88.5 L902.4,88.3 L903.4,88.1 L904.3,87.9 L905.3,87.7 L906.3,87.6 L907.2,87.4 L908.2,87.2 L909.2,87.0 L910.1,86.9 L911.1,86.7 L912.1,86.5 L913.0,86.3 L914.0,86.1 L914.9,86.0 L915.9,85.8 L916.9,85.6 L917.8,85.4 L918.8,85.3 L919.8,85.1 L920.7,84.9 L921.7,84.7 L922.7,84.6 L923.6,84.5 L924.6,84.5 L925.6,84.5 L926.5,84.6 L927.5,84.6 L928.5,84.6 L929.4,84.7 L930.4,84.7 L931.4,84.7 L932.3,84.7 L933.3,84.8 L934.3,84.8 L935.2,84.8 L936.2,84.9 L937.2,84.9 L938.1,84.9 L939.1,85.0 L940.1,85.0 L941.0,85.0 L942.0,85.0 L943.0,85.1 L943.9,85.1 L944.9,85.1 L945.9,85.2 L946.8,85.2 L947.8,85.2 L948.8,85.3 L949.7,85.3 L950.7,85.3 L951.7,85.4 L952.6,85.5 L953.6,85.6 L954.6,85.7 L955.5,85.8 L956.5,85.9 L957.5,86.0 L958.4,86.1 L959.4,86.2 L960.4,86.3 L961.3,86.4 L962.3,86.5 L963.2,86.6 L964.2,86.7 L965.2,86.8 L966.1,86.9 L967.1,87.1 L968.1,87.2 L969.0,87.3 L970.0,87.4 L971.0,87.5 L971.9,87.6 L972.9,87.7 L973.9,87.8 L974.8,87.9 L975.8,88.0 L976.8,88.1 L977.7,88.2 L978.7,88.3 L979.7,88.3 L980.6,88.4 L981.6,88.5 L982.6,88.6 L983.5,88.7 L984.5,88.8 L985.5,87.8 L986.4,86.8 L987.4,85.9 L988.4,84.9 L989.3,83.9 L990.3,82.9 L991.3,81.9 L992.2,81.4 L993.2,81.4 L994.2,81.4 L995.1,81.4 L996.1,81.4 L997.1,81.4 L998.0,81.4 L999.0,81.4 L1000.0,81.4 L1000.9,81.4" fill="none" stroke="#ea3e39" stroke-width="5" stroke-linejoin="round"/>
<path d="M660.9,93.7l3.1,5.6h-6.2zM661.1,86.3l3.1,5.6h-6.2zM661.4,85.6l3.1,5.6h-6.2zM661.6,82.6l3.1,5.6h-6.2zM661.9,80.4l3.1,5.6h-6.2zM662.1,82.7l3.1,5.6h-6.2zM662.3,90.5l3.1,5.6h-6.2zM662.6,91.9l3.1,5.6h-6.2zM662.8,85.3l3.1,5.6h-6.2zM663.1,83.3l3.1,5.6h-6.2zM663.3,92.7l3.1,5.6h-6.2zM663.5,86.9l3.1,5.6h-6.2zM663.8,71.0l3.1,5.6h-6.2zM664.0,86.1l3.1,5.6h-6.2zM664.3,86.2l3.1,5.6h-6.2zM664.5,84.0l3.1,5.6h-6.2zM664.8,77.2l3.1,5.6h-6.2zM665.0,87.9l3.1,5.6h-6.2zM665.2,81.1l3.1,5.6h-6.2zM665.5,86.1l3.1,5.6h-6.2zM665.7,82.1l3.1,5.6h-6.2zM666.0,83.5l3.1,5.6h-6.2zM666.2,84.4l3.1,5.6h-6.2zM666.4,84.8l3.1,5.6h-6.2zM666.7,83.2l3.1,5.6h-6.2zM666.9,82.5l3.1,5.6h-6.2zM667.2,78.1l3.1,5.6h-6.2zM667.4,85.1l3.1,5.6h-6.2zM667.7,82.0l3.1,5.6h-6.2zM667.9,86.8l3.1,5.6h-6.2zM668.1,87.2l3.1,5.6h-6.2zM668.4,86.7l3.1,5.6h-6.2zM668.6,81.0l3.1,5.6h-6.2zM668.9,95.4l3.1,5.6h-6.2zM669.1,80.5l3.1,5.6h-6.2zM669.3,88.5l3.1,5.6h-6.2zM669.6,83.4l3.1,5.6h-6.2zM669.8,76.9l3.1,5.6h-6.2zM670.1,88.8l3.1,5.6h-6.2zM670.3,80.2l3.1,5.6h-6.2zM670.6,90.5l3.1,5.6h-6.2zM670.8,91.8l3.1,5.6h-6.2zM671.0,91.7l3.1,5.6h-6.2zM671.3,87.5l3.1,5.6h-6.2zM671.5,95.8l3.1,5.6h-6.2zM671.8,82.6l3.1,5.6h-6.2zM672.0,89.2l3.1,5.6h-6.2zM672.2,93.7l3.1,5.6h-6.2zM672.5,97.6l3.1,5.6h-6.2zM672.7,85.4l3.1,5.6h-6.2zM673.0,87.9l3.1,5.6h-6.2zM673.2,87.9l3.1,5.6h-6.2zM673.5,100.4l3.1,5.6h-6.2zM673.7,97.7l3.1,5.6h-6.2zM673.9,86.8l3.1,5.6h-6.2zM674.2,96.2l3.1,5.6h-6.2zM674.4,81.5l3.1,5.6h-6.2zM674.7,91.2l3.1,5.6h-6.2zM674.9,98.8l3.1,5.6h-6.2zM675.1,84.7l3.1,5.6h-6.2zM675.4,89.5l3.1,5.6h-6.2zM675.6,98.2l3.1,5.6h-6.2zM675.9,83.9l3.1,5.6h-6.2zM676.1,81.7l3.1,5.6h-6.2zM676.3,93.3l3.1,5.6h-6.2zM676.6,86.5l3.1,5.6h-6.2zM676.8,99.2l3.1,5.6h-6.2zM677.1,86.2l3.1,5.6h-6.2zM677.3,85.5l3.1,5.6h-6.2zM677.6,89.7l3.1,5.6h-6.2zM677.8,86.3l3.1,5.6h-6.2zM678.0,85.6l3.1,5.6h-6.2zM678.3,99.5l3.1,5.6h-6.2zM678.5,89.9l3.1,5.6h-6.2zM678.8,85.8l3.1,5.6h-6.2zM679.0,86.4l3.1,5.6h-6.2zM679.2,91.3l3.1,5.6h-6.2zM679.5,83.5l3.1,5.6h-6.2zM679.7,98.0l3.1,5.6h-6.2zM680.0,82.0l3.1,5.6h-6.2zM680.2,86.6l3.1,5.6h-6.2zM680.5,81.0l3.1,5.6h-6.2zM680.7,92.8l3.1,5.6h-6.2zM680.9,79.8l3.1,5.6h-6.2zM681.2,93.2l3.1,5.6h-6.2zM681.4,93.1l3.1,5.6h-6.2zM681.7,81.2l3.1,5.6h-6.2zM681.9,87.6l3.1,5.6h-6.2zM682.1,90.3l3.1,5.6h-6.2zM682.4,73.3l3.1,5.6h-6.2zM682.6,87.2l3.1,5.6h-6.2zM682.9,90.4l3.1,5.6h-6.2zM683.1,83.5l3.1,5.6h-6.2zM683.4,87.1l3.1,5.6h-6.2zM683.6,89.7l3.1,5.6h-6.2zM683.8,86.4l3.1,5.6h-6.2zM684.1,80.7l3.1,5.6h-6.2zM684.3,84.8l3.1,5.6h-6.2zM684.6,89.4l3.1,5.6h-6.2zM684.8,90.2l3.1,5.6h-6.2zM685.0,80.2l3.1,5.6h-6.2zM685.3,95.8l3.1,5.6h-6.2zM685.5,91.6l3.1,5.6h-6.2zM685.8,81.2l3.1,5.6h-6.2zM686.0,87.8l3.1,5.6h-6.2zM686.2,87.6l3.1,5.6h-6.2zM686.5,88.7l3.1,5.6h-6.2zM686.7,88.0l3.1,5.6h-6.2zM687.0,83.7l3.1,5.6h-6.2zM687.2,96.7l3.1,5.6h-6.2zM687.5,87.8l3.1,5.6h-6.2zM687.7,89.8l3.1,5.6h-6.2zM687.9,92.1l3.1,5.6h-6.2zM688.2,91.0l3.1,5.6h-6.2zM688.4,83.6l3.1,5.6h-6.2zM688.7,91.7l3.1,5.6h-6.2zM688.9,92.9l3.1,5.6h-6.2zM689.1,93.7l3.1,5.6h-6.2zM689.4,90.2l3.1,5.6h-6.2zM689.6,98.1l3.1,5.6h-6.2zM689.9,89.7l3.1,5.6h-6.2zM690.1,81.8l3.1,5.6h-6.2zM690.4,85.0l3.1,5.6h-6.2zM690.6,86.9l3.1,5.6h-6.2zM690.8,85.1l3.1,5.6h-6.2zM691.1,92.8l3.1,5.6h-6.2zM691.3,92.8l3.1,5.6h-6.2zM691.6,96.0l3.1,5.6h-6.2zM691.8,92.4l3.1,5.6h-6.2zM692.0,94.2l3.1,5.6h-6.2zM692.3,104.4l3.1,5.6h-6.2zM692.5,102.5l3.1,5.6h-6.2zM692.8,101.3l3.1,5.6h-6.2zM693.0,99.8l3.1,5.6h-6.2zM693.3,101.2l3.1,5.6h-6.2zM693.5,101.3l3.1,5.6h-6.2zM693.7,105.3l3.1,5.6h-6.2zM694.0,106.3l3.1,5.6h-6.2zM694.2,104.4l3.1,5.6h-6.2zM694.5,94.8l3.1,5.6h-6.2zM694.7,98.2l3.1,5.6h-6.2zM694.9,112.1l3.1,5.6h-6.2zM695.2,107.6l3.1,5.6h-6.2zM695.4,104.0l3.1,5.6h-6.2zM695.7,108.8l3.1,5.6h-6.2zM695.9,112.2l3.1,5.6h-6.2zM696.2,115.2l3.1,5.6h-6.2zM696.4,112.6l3.1,5.6h-6.2zM696.6,111.6l3.1,5.6h-6.2zM696.9,113.5l3.1,5.6h-6.2zM697.1,113.5l3.1,5.6h-6.2zM697.4,105.3l3.1,5.6h-6.2zM697.6,110.3l3.1,5.6h-6.2zM697.8,118.1l3.1,5.6h-6.2zM698.1,122.2l3.1,5.6h-6.2zM698.3,119.8l3.1,5.6h-6.2zM698.6,115.1l3.1,5.6h-6.2zM698.8,122.0l3.1,5.6h-6.2zM699.0,124.5l3.1,5.6h-6.2zM699.3,122.3l3.1,5.6h-6.2zM699.5,116.7l3.1,5.6h-6.2zM699.8,123.9l3.1,5.6h-6.2zM702.4,290.6l3.1,5.6h-6.2zM702.4,285.1l3.1,5.6h-6.2zM702.9,291.1l3.1,5.6h-6.2zM703.4,294.1l3.1,5.6h-6.2zM703.9,292.2l3.1,5.6h-6.2zM704.4,293.8l3.1,5.6h-6.2zM704.8,295.1l3.1,5.6h-6.2zM705.3,297.0l3.1,5.6h-6.2zM705.8,296.5l3.1,5.6h-6.2zM706.3,298.1l3.1,5.6h-6.2zM706.8,297.6l3.1,5.6h-6.2zM707.3,297.0l3.1,5.6h-6.2zM707.3,292.4l3.1,5.6h-6.2zM707.7,296.6l3.1,5.6h-6.2zM708.2,299.7l3.1,5.6h-6.2zM708.7,299.6l3.1,5.6h-6.2zM709.2,299.0l3.1,5.6h-6.2zM709.7,294.8l3.1,5.6h-6.2zM709.7,292.6l3.1,5.6h-6.2zM710.2,298.3l3.1,5.6h-6.2zM710.6,296.5l3.1,5.6h-6.2zM711.1,296.2l3.1,5.6h-6.2zM711.6,297.3l3.1,5.6h-6.2zM712.1,298.5l3.1,5.6h-6.2zM712.6,297.5l3.1,5.6h-6.2zM712.6,293.0l3.1,5.6h-6.2zM713.1,297.1l3.1,5.6h-6.2zM713.5,300.6l3.1,5.6h-6.2zM714.0,299.0l3.1,5.6h-6.2zM714.5,300.8l3.1,5.6h-6.2zM715.0,298.1l3.1,5.6h-6.2zM715.5,297.3l3.1,5.6h-6.2zM715.5,294.6l3.1,5.6h-6.2zM716.0,302.3l3.1,5.6h-6.2zM716.4,301.4l3.1,5.6h-6.2zM716.9,300.2l3.1,5.6h-6.2zM716.9,294.5l3.1,5.6h-6.2zM717.4,301.4l3.1,5.6h-6.2zM717.9,303.7l3.1,5.6h-6.2zM718.4,301.7l3.1,5.6h-6.2zM718.9,300.5l3.1,5.6h-6.2zM719.3,299.7l3.1,5.6h-6.2zM719.8,302.3l3.1,5.6h-6.2zM720.3,298.0l3.1,5.6h-6.2zM720.8,302.9l3.1,5.6h-6.2zM721.3,302.9l3.1,5.6h-6.2zM721.3,297.3l3.1,5.6h-6.2zM721.7,300.9l3.1,5.6h-6.2zM722.2,303.7l3.1,5.6h-6.2zM722.2,298.7l3.1,5.6h-6.2zM722.7,305.3l3.1,5.6h-6.2zM722.7,295.8l3.1,5.6h-6.2zM723.2,302.0l3.1,5.6h-6.2zM723.7,301.6l3.1,5.6h-6.2zM724.2,302.5l3.1,5.6h-6.2zM724.2,295.6l3.1,5.6h-6.2zM724.6,300.6l3.1,5.6h-6.2zM724.6,298.4l3.1,5.6h-6.2zM725.1,302.7l3.1,5.6h-6.2zM725.6,301.5l3.1,5.6h-6.2zM726.1,299.2l3.1,5.6h-6.2zM726.6,299.7l3.1,5.6h-6.2zM727.1,302.8l3.1,5.6h-6.2zM727.5,300.8l3.1,5.6h-6.2zM728.0,303.3l3.1,5.6h-6.2zM728.5,300.6l3.1,5.6h-6.2zM729.0,305.7l3.1,5.6h-6.2zM729.5,302.0l3.1,5.6h-6.2zM730.0,304.4l3.1,5.6h-6.2zM730.4,303.5l3.1,5.6h-6.2zM730.9,302.0l3.1,5.6h-6.2zM731.4,301.5l3.1,5.6h-6.2zM731.4,299.4l3.1,5.6h-6.2zM731.9,302.7l3.1,5.6h-6.2zM731.9,298.7l3.1,5.6h-6.2zM732.4,306.3l3.1,5.6h-6.2zM732.4,297.5l3.1,5.6h-6.2zM732.9,302.6l3.1,5.6h-6.2zM733.3,302.0l3.1,5.6h-6.2zM733.8,302.6l3.1,5.6h-6.2zM733.8,298.6l3.1,5.6h-6.2zM734.3,304.1l3.1,5.6h-6.2zM734.8,301.3l3.1,5.6h-6.2zM735.3,302.1l3.1,5.6h-6.2zM735.8,304.3l3.1,5.6h-6.2zM736.2,299.5l3.1,5.6h-6.2zM736.7,302.3l3.1,5.6h-6.2zM737.2,304.5l3.1,5.6h-6.2zM737.7,298.6l3.1,5.6h-6.2zM737.7,298.7l3.1,5.6h-6.2zM738.2,303.6l3.1,5.6h-6.2zM738.7,303.4l3.1,5.6h-6.2zM739.1,303.2l3.1,5.6h-6.2zM739.6,307.7l3.1,5.6h-6.2zM740.1,308.3l3.1,5.6h-6.2zM740.1,301.5l3.1,5.6h-6.2zM740.6,304.3l3.1,5.6h-6.2zM741.1,303.1l3.1,5.6h-6.2zM741.6,303.7l3.1,5.6h-6.2zM742.0,302.2l3.1,5.6h-6.2zM742.5,305.2l3.1,5.6h-6.2zM743.0,303.9l3.1,5.6h-6.2zM743.5,305.0l3.1,5.6h-6.2zM744.0,302.9l3.1,5.6h-6.2zM744.5,302.1l3.1,5.6h-6.2zM744.5,301.2l3.1,5.6h-6.2zM744.9,303.0l3.1,5.6h-6.2zM745.4,303.6l3.1,5.6h-6.2zM745.9,304.0l3.1,5.6h-6.2zM746.4,303.4l3.1,5.6h-6.2zM746.9,305.0l3.1,5.6h-6.2zM747.3,299.7l3.1,5.6h-6.2zM747.8,304.5l3.1,5.6h-6.2zM748.3,306.3l3.1,5.6h-6.2zM748.8,303.1l3.1,5.6h-6.2zM749.3,304.5l3.1,5.6h-6.2zM749.8,303.1l3.1,5.6h-6.2zM750.2,304.4l3.1,5.6h-6.2zM750.7,305.5l3.1,5.6h-6.2zM750.7,298.1l3.1,5.6h-6.2zM751.2,302.4l3.1,5.6h-6.2zM751.2,297.2l3.1,5.6h-6.2zM751.7,301.8l3.1,5.6h-6.2zM751.7,300.9l3.1,5.6h-6.2zM752.2,302.6l3.1,5.6h-6.2zM752.7,301.8l3.1,5.6h-6.2zM753.1,304.2l3.1,5.6h-6.2zM753.6,304.3l3.1,5.6h-6.2zM754.1,305.2l3.1,5.6h-6.2zM754.6,301.3l3.1,5.6h-6.2zM755.1,301.1l3.1,5.6h-6.2zM755.6,302.4l3.1,5.6h-6.2zM755.6,297.7l3.1,5.6h-6.2zM756.0,301.0l3.1,5.6h-6.2zM756.5,300.6l3.1,5.6h-6.2zM757.0,299.6l3.1,5.6h-6.2zM757.5,300.2l3.1,5.6h-6.2zM758.0,299.7l3.1,5.6h-6.2zM758.5,300.3l3.1,5.6h-6.2zM758.9,297.6l3.1,5.6h-6.2zM758.9,298.8l3.1,5.6h-6.2zM759.4,299.1l3.1,5.6h-6.2zM759.9,302.5l3.1,5.6h-6.2zM759.9,296.4l3.1,5.6h-6.2zM760.4,298.6l3.1,5.6h-6.2zM760.9,298.1l3.1,5.6h-6.2zM761.4,296.2l3.1,5.6h-6.2zM761.8,303.6l3.1,5.6h-6.2zM761.8,297.1l3.1,5.6h-6.2zM762.3,301.8l3.1,5.6h-6.2zM762.8,299.9l3.1,5.6h-6.2zM763.3,301.4l3.1,5.6h-6.2zM763.3,294.5l3.1,5.6h-6.2zM763.8,295.7l3.1,5.6h-6.2zM764.3,301.6l3.1,5.6h-6.2zM764.7,302.7l3.1,5.6h-6.2zM765.2,298.2l3.1,5.6h-6.2zM765.2,294.9l3.1,5.6h-6.2zM765.7,298.5l3.1,5.6h-6.2zM766.2,301.3l3.1,5.6h-6.2zM766.7,300.5l3.1,5.6h-6.2zM767.2,297.5l3.1,5.6h-6.2zM767.6,300.3l3.1,5.6h-6.2zM768.1,299.4l3.1,5.6h-6.2zM768.6,302.4l3.1,5.6h-6.2zM769.1,301.0l3.1,5.6h-6.2zM769.6,298.3l3.1,5.6h-6.2zM770.0,302.7l3.1,5.6h-6.2zM770.5,297.6l3.1,5.6h-6.2zM771.0,299.4l3.1,5.6h-6.2zM771.5,301.4l3.1,5.6h-6.2zM772.0,297.6l3.1,5.6h-6.2zM772.5,297.5l3.1,5.6h-6.2zM772.5,295.2l3.1,5.6h-6.2zM772.9,300.8l3.1,5.6h-6.2zM773.4,298.6l3.1,5.6h-6.2zM773.9,298.0l3.1,5.6h-6.2zM774.4,301.3l3.1,5.6h-6.2zM774.9,297.0l3.1,5.6h-6.2zM775.4,295.9l3.1,5.6h-6.2zM775.4,293.1l3.1,5.6h-6.2zM775.8,298.2l3.1,5.6h-6.2zM776.3,298.2l3.1,5.6h-6.2zM776.8,295.7l3.1,5.6h-6.2zM777.3,300.2l3.1,5.6h-6.2zM777.8,294.6l3.1,5.6h-6.2zM778.3,297.5l3.1,5.6h-6.2zM778.7,299.4l3.1,5.6h-6.2zM779.2,298.0l3.1,5.6h-6.2zM779.7,297.4l3.1,5.6h-6.2zM780.2,299.6l3.1,5.6h-6.2zM780.7,297.5l3.1,5.6h-6.2zM780.7,292.1l3.1,5.6h-6.2zM781.2,297.4l3.1,5.6h-6.2zM781.6,298.0l3.1,5.6h-6.2zM782.1,298.4l3.1,5.6h-6.2zM782.6,299.1l3.1,5.6h-6.2zM783.1,298.0l3.1,5.6h-6.2zM783.6,296.7l3.1,5.6h-6.2zM783.6,295.3l3.1,5.6h-6.2zM784.1,295.7l3.1,5.6h-6.2zM784.5,296.5l3.1,5.6h-6.2zM785.0,299.8l3.1,5.6h-6.2zM785.5,298.6l3.1,5.6h-6.2zM785.5,291.9l3.1,5.6h-6.2zM786.0,300.2l3.1,5.6h-6.2zM786.5,297.4l3.1,5.6h-6.2zM787.0,298.2l3.1,5.6h-6.2zM787.0,290.9l3.1,5.6h-6.2zM787.4,298.2l3.1,5.6h-6.2zM787.9,299.5l3.1,5.6h-6.2zM787.9,289.4l3.1,5.6h-6.2zM788.4,301.3l3.1,5.6h-6.2zM788.9,301.2l3.1,5.6h-6.2zM789.4,295.6l3.1,5.6h-6.2zM789.9,299.8l3.1,5.6h-6.2zM790.3,296.2l3.1,5.6h-6.2zM790.8,299.1l3.1,5.6h-6.2zM791.3,300.1l3.1,5.6h-6.2zM791.8,299.2l3.1,5.6h-6.2zM792.3,299.0l3.1,5.6h-6.2zM792.8,298.0l3.1,5.6h-6.2zM793.2,296.2l3.1,5.6h-6.2zM793.7,300.5l3.1,5.6h-6.2zM794.2,299.8l3.1,5.6h-6.2zM794.2,295.3l3.1,5.6h-6.2zM794.7,297.9l3.1,5.6h-6.2zM795.2,298.5l3.1,5.6h-6.2zM795.2,290.9l3.1,5.6h-6.2zM795.6,300.2l3.1,5.6h-6.2zM796.1,299.1l3.1,5.6h-6.2zM796.1,295.3l3.1,5.6h-6.2zM796.6,297.7l3.1,5.6h-6.2zM797.1,298.4l3.1,5.6h-6.2zM797.1,292.1l3.1,5.6h-6.2zM797.6,297.6l3.1,5.6h-6.2zM797.6,293.8l3.1,5.6h-6.2zM798.1,296.7l3.1,5.6h-6.2zM798.1,291.6l3.1,5.6h-6.2zM798.5,299.0l3.1,5.6h-6.2zM799.0,296.9l3.1,5.6h-6.2zM799.5,296.5l3.1,5.6h-6.2zM800.0,297.2l3.1,5.6h-6.2zM800.0,294.2l3.1,5.6h-6.2zM800.5,293.1l3.1,5.6h-6.2zM801.0,297.0l3.1,5.6h-6.2zM801.0,293.3l3.1,5.6h-6.2zM801.4,295.7l3.1,5.6h-6.2zM801.9,298.4l3.1,5.6h-6.2zM802.4,299.1l3.1,5.6h-6.2zM802.9,293.9l3.1,5.6h-6.2zM803.4,292.7l3.1,5.6h-6.2zM803.9,293.6l3.1,5.6h-6.2zM804.3,292.2l3.1,5.6h-6.2zM804.8,295.1l3.1,5.6h-6.2zM805.3,295.2l3.1,5.6h-6.2zM805.8,290.5l3.1,5.6h-6.2zM805.8,288.5l3.1,5.6h-6.2zM806.3,292.5l3.1,5.6h-6.2zM806.8,292.5l3.1,5.6h-6.2zM807.2,289.7l3.1,5.6h-6.2zM807.7,291.6l3.1,5.6h-6.2zM808.2,290.8l3.1,5.6h-6.2zM808.7,290.3l3.1,5.6h-6.2zM809.2,292.0l3.1,5.6h-6.2zM809.7,293.3l3.1,5.6h-6.2zM810.1,291.9l3.1,5.6h-6.2zM810.6,293.1l3.1,5.6h-6.2zM810.6,287.4l3.1,5.6h-6.2zM811.1,293.9l3.1,5.6h-6.2zM811.6,290.1l3.1,5.6h-6.2zM812.1,292.0l3.1,5.6h-6.2zM812.6,293.0l3.1,5.6h-6.2zM813.0,294.3l3.1,5.6h-6.2zM813.5,293.9l3.1,5.6h-6.2zM814.0,293.1l3.1,5.6h-6.2zM814.5,293.1l3.1,5.6h-6.2zM815.0,293.4l3.1,5.6h-6.2zM815.5,295.4l3.1,5.6h-6.2zM815.9,292.3l3.1,5.6h-6.2zM816.4,294.5l3.1,5.6h-6.2zM816.9,297.0l3.1,5.6h-6.2zM817.4,298.8l3.1,5.6h-6.2zM817.9,294.7l3.1,5.6h-6.2zM818.3,296.7l3.1,5.6h-6.2zM818.8,294.4l3.1,5.6h-6.2zM819.3,295.6l3.1,5.6h-6.2zM819.8,298.0l3.1,5.6h-6.2zM819.8,292.1l3.1,5.6h-6.2zM820.3,296.6l3.1,5.6h-6.2zM820.8,296.1l3.1,5.6h-6.2zM820.8,290.7l3.1,5.6h-6.2zM821.2,298.3l3.1,5.6h-6.2zM821.7,296.0l3.1,5.6h-6.2zM821.7,293.7l3.1,5.6h-6.2zM822.2,296.8l3.1,5.6h-6.2zM822.7,297.9l3.1,5.6h-6.2zM822.7,292.9l3.1,5.6h-6.2zM823.2,295.6l3.1,5.6h-6.2zM823.7,298.9l3.1,5.6h-6.2zM823.7,291.3l3.1,5.6h-6.2zM824.1,297.1l3.1,5.6h-6.2zM824.6,294.9l3.1,5.6h-6.2zM825.1,298.8l3.1,5.6h-6.2zM825.6,298.4l3.1,5.6h-6.2zM826.1,294.8l3.1,5.6h-6.2zM826.6,296.7l3.1,5.6h-6.2zM827.0,296.6l3.1,5.6h-6.2zM827.5,297.9l3.1,5.6h-6.2zM828.0,297.2l3.1,5.6h-6.2zM828.0,293.3l3.1,5.6h-6.2zM828.5,299.0l3.1,5.6h-6.2zM829.0,301.0l3.1,5.6h-6.2zM829.5,299.5l3.1,5.6h-6.2zM829.9,300.9l3.1,5.6h-6.2zM830.4,296.0l3.1,5.6h-6.2zM830.9,295.9l3.1,5.6h-6.2zM830.9,295.4l3.1,5.6h-6.2zM831.4,301.4l3.1,5.6h-6.2zM831.9,299.1l3.1,5.6h-6.2zM832.4,299.3l3.1,5.6h-6.2zM832.8,298.2l3.1,5.6h-6.2zM833.3,299.0l3.1,5.6h-6.2zM833.3,296.6l3.1,5.6h-6.2zM833.8,298.3l3.1,5.6h-6.2zM834.3,298.6l3.1,5.6h-6.2zM834.3,293.7l3.1,5.6h-6.2zM834.8,302.5l3.1,5.6h-6.2zM835.3,299.5l3.1,5.6h-6.2zM835.7,301.8l3.1,5.6h-6.2zM836.2,301.7l3.1,5.6h-6.2zM836.7,297.8l3.1,5.6h-6.2zM837.2,301.0l3.1,5.6h-6.2zM837.7,302.8l3.1,5.6h-6.2zM837.7,295.1l3.1,5.6h-6.2zM838.2,298.8l3.1,5.6h-6.2zM838.2,294.5l3.1,5.6h-6.2zM838.6,300.5l3.1,5.6h-6.2zM839.1,301.4l3.1,5.6h-6.2zM839.6,302.5l3.1,5.6h-6.2zM840.1,298.3l3.1,5.6h-6.2zM840.1,297.1l3.1,5.6h-6.2zM840.6,301.7l3.1,5.6h-6.2zM841.1,298.4l3.1,5.6h-6.2zM841.5,301.7l3.1,5.6h-6.2zM842.0,300.3l3.1,5.6h-6.2zM842.5,304.5l3.1,5.6h-6.2zM843.0,299.8l3.1,5.6h-6.2zM843.5,301.8l3.1,5.6h-6.2zM843.9,301.3l3.1,5.6h-6.2zM844.4,301.0l3.1,5.6h-6.2zM844.9,302.0l3.1,5.6h-6.2zM845.4,301.6l3.1,5.6h-6.2zM845.9,301.7l3.1,5.6h-6.2zM846.4,300.1l3.1,5.6h-6.2zM846.4,294.4l3.1,5.6h-6.2zM846.8,300.7l3.1,5.6h-6.2zM846.8,298.3l3.1,5.6h-6.2zM847.3,300.5l3.1,5.6h-6.2zM847.8,304.2l3.1,5.6h-6.2zM848.3,302.3l3.1,5.6h-6.2zM848.3,296.2l3.1,5.6h-6.2zM848.8,303.3l3.1,5.6h-6.2zM849.3,299.0l3.1,5.6h-6.2zM849.7,306.9l3.1,5.6h-6.2zM850.2,301.8l3.1,5.6h-6.2zM850.2,299.9l3.1,5.6h-6.2zM850.7,304.8l3.1,5.6h-6.2zM851.2,300.5l3.1,5.6h-6.2zM851.2,298.5l3.1,5.6h-6.2zM851.7,305.7l3.1,5.6h-6.2zM852.2,303.0l3.1,5.6h-6.2zM852.6,300.9l3.1,5.6h-6.2zM853.1,304.7l3.1,5.6h-6.2zM853.6,302.3l3.1,5.6h-6.2zM854.1,302.9l3.1,5.6h-6.2zM854.6,302.2l3.1,5.6h-6.2zM855.1,303.1l3.1,5.6h-6.2zM855.5,299.5l3.1,5.6h-6.2zM856.0,299.9l3.1,5.6h-6.2zM856.5,300.1l3.1,5.6h-6.2zM857.0,301.3l3.1,5.6h-6.2zM857.0,296.8l3.1,5.6h-6.2zM857.5,301.8l3.1,5.6h-6.2zM857.5,295.8l3.1,5.6h-6.2zM858.0,301.8l3.1,5.6h-6.2zM858.4,299.5l3.1,5.6h-6.2zM858.9,301.5l3.1,5.6h-6.2zM858.9,293.6l3.1,5.6h-6.2zM859.4,304.1l3.1,5.6h-6.2zM859.9,298.0l3.1,5.6h-6.2zM860.4,300.1l3.1,5.6h-6.2zM860.9,297.0l3.1,5.6h-6.2zM860.9,292.0l3.1,5.6h-6.2zM861.3,295.3l3.1,5.6h-6.2zM861.8,300.0l3.1,5.6h-6.2zM862.3,300.0l3.1,5.6h-6.2zM862.8,301.4l3.1,5.6h-6.2zM862.8,296.4l3.1,5.6h-6.2zM863.3,299.8l3.1,5.6h-6.2zM863.8,300.9l3.1,5.6h-6.2zM864.2,301.0l3.1,5.6h-6.2zM864.7,300.5l3.1,5.6h-6.2zM865.2,301.2l3.1,5.6h-6.2zM865.7,300.5l3.1,5.6h-6.2zM866.2,299.4l3.1,5.6h-6.2zM866.7,300.8l3.1,5.6h-6.2zM867.1,295.6l3.1,5.6h-6.2zM867.6,295.5l3.1,5.6h-6.2zM868.1,296.3l3.1,5.6h-6.2zM868.6,300.6l3.1,5.6h-6.2zM869.1,297.5l3.1,5.6h-6.2zM869.5,301.4l3.1,5.6h-6.2zM870.0,298.7l3.1,5.6h-6.2zM870.5,300.3l3.1,5.6h-6.2zM870.5,292.5l3.1,5.6h-6.2zM871.0,300.5l3.1,5.6h-6.2zM871.5,297.6l3.1,5.6h-6.2zM872.0,301.9l3.1,5.6h-6.2zM872.4,300.1l3.1,5.6h-6.2zM872.4,296.0l3.1,5.6h-6.2zM872.9,297.4l3.1,5.6h-6.2zM872.9,293.2l3.1,5.6h-6.2zM873.4,302.2l3.1,5.6h-6.2zM873.9,297.4l3.1,5.6h-6.2zM873.9,295.2l3.1,5.6h-6.2zM874.4,299.7l3.1,5.6h-6.2zM874.9,298.8l3.1,5.6h-6.2zM875.3,300.5l3.1,5.6h-6.2zM875.8,298.4l3.1,5.6h-6.2zM876.3,299.3l3.1,5.6h-6.2zM876.8,298.9l3.1,5.6h-6.2zM876.8,292.5l3.1,5.6h-6.2zM877.3,297.0l3.1,5.6h-6.2zM877.8,297.1l3.1,5.6h-6.2zM878.2,299.9l3.1,5.6h-6.2zM878.7,298.3l3.1,5.6h-6.2zM879.2,297.9l3.1,5.6h-6.2zM879.7,304.0l3.1,5.6h-6.2zM880.2,300.0l3.1,5.6h-6.2zM880.7,300.6l3.1,5.6h-6.2zM881.1,296.5l3.1,5.6h-6.2zM881.6,298.3l3.1,5.6h-6.2zM882.1,300.6l3.1,5.6h-6.2zM882.6,301.2l3.1,5.6h-6.2zM883.1,299.3l3.1,5.6h-6.2zM883.6,300.6l3.1,5.6h-6.2zM884.0,301.2l3.1,5.6h-6.2zM884.5,301.4l3.1,5.6h-6.2zM885.0,299.3l3.1,5.6h-6.2zM885.5,297.1l3.1,5.6h-6.2zM885.5,294.2l3.1,5.6h-6.2zM886.0,302.1l3.1,5.6h-6.2zM886.5,298.1l3.1,5.6h-6.2zM886.9,297.6l3.1,5.6h-6.2zM887.4,299.5l3.1,5.6h-6.2zM887.9,300.8l3.1,5.6h-6.2zM888.4,301.7l3.1,5.6h-6.2zM888.9,298.2l3.1,5.6h-6.2zM889.4,301.5l3.1,5.6h-6.2zM889.4,294.1l3.1,5.6h-6.2zM889.8,298.7l3.1,5.6h-6.2zM890.3,298.6l3.1,5.6h-6.2zM890.3,294.0l3.1,5.6h-6.2zM890.8,298.9l3.1,5.6h-6.2zM890.8,295.2l3.1,5.6h-6.2zM891.3,300.8l3.1,5.6h-6.2zM891.8,300.6l3.1,5.6h-6.2zM892.2,297.0l3.1,5.6h-6.2zM892.2,293.8l3.1,5.6h-6.2zM892.7,294.8l3.1,5.6h-6.2zM892.7,293.8l3.1,5.6h-6.2zM893.2,300.3l3.1,5.6h-6.2zM893.2,294.8l3.1,5.6h-6.2zM893.7,298.7l3.1,5.6h-6.2zM893.7,292.5l3.1,5.6h-6.2zM894.2,297.4l3.1,5.6h-6.2zM894.7,297.2l3.1,5.6h-6.2zM895.1,298.1l3.1,5.6h-6.2zM895.6,297.2l3.1,5.6h-6.2zM896.1,296.9l3.1,5.6h-6.2zM896.6,297.9l3.1,5.6h-6.2zM897.1,299.1l3.1,5.6h-6.2zM897.6,295.6l3.1,5.6h-6.2zM898.0,294.1l3.1,5.6h-6.2zM898.5,295.5l3.1,5.6h-6.2zM898.5,291.4l3.1,5.6h-6.2zM899.0,297.9l3.1,5.6h-6.2zM899.5,292.1l3.1,5.6h-6.2zM899.5,292.8l3.1,5.6h-6.2zM900.0,295.9l3.1,5.6h-6.2zM900.0,291.6l3.1,5.6h-6.2zM900.5,296.8l3.1,5.6h-6.2zM900.9,293.8l3.1,5.6h-6.2zM901.4,296.7l3.1,5.6h-6.2zM901.9,296.1l3.1,5.6h-6.2zM902.4,297.4l3.1,5.6h-6.2zM902.9,297.8l3.1,5.6h-6.2zM902.9,292.3l3.1,5.6h-6.2zM903.4,294.1l3.1,5.6h-6.2zM903.8,295.3l3.1,5.6h-6.2zM904.3,297.2l3.1,5.6h-6.2zM904.8,295.1l3.1,5.6h-6.2zM905.3,294.4l3.1,5.6h-6.2zM905.8,299.9l3.1,5.6h-6.2zM906.3,298.7l3.1,5.6h-6.2zM906.7,298.1l3.1,5.6h-6.2zM907.2,297.8l3.1,5.6h-6.2zM907.7,295.6l3.1,5.6h-6.2zM908.2,296.2l3.1,5.6h-6.2zM908.7,295.3l3.1,5.6h-6.2zM909.2,297.8l3.1,5.6h-6.2zM909.2,289.0l3.1,5.6h-6.2zM909.6,296.8l3.1,5.6h-6.2zM910.1,295.9l3.1,5.6h-6.2zM910.1,290.3l3.1,5.6h-6.2zM910.6,294.2l3.1,5.6h-6.2zM911.1,295.9l3.1,5.6h-6.2zM911.6,297.8l3.1,5.6h-6.2zM912.1,298.5l3.1,5.6h-6.2zM912.5,296.1l3.1,5.6h-6.2zM913.0,297.1l3.1,5.6h-6.2zM913.5,298.5l3.1,5.6h-6.2zM913.5,293.2l3.1,5.6h-6.2zM914.0,296.8l3.1,5.6h-6.2zM914.0,293.2l3.1,5.6h-6.2zM914.5,297.9l3.1,5.6h-6.2zM914.5,291.3l3.1,5.6h-6.2zM915.0,298.4l3.1,5.6h-6.2zM915.4,292.8l3.1,5.6h-6.2zM915.9,300.1l3.1,5.6h-6.2zM915.9,293.2l3.1,5.6h-6.2zM916.4,297.4l3.1,5.6h-6.2zM916.9,296.9l3.1,5.6h-6.2zM917.4,299.6l3.1,5.6h-6.2zM917.8,296.9l3.1,5.6h-6.2zM917.8,294.3l3.1,5.6h-6.2zM918.3,298.1l3.1,5.6h-6.2zM918.8,296.2l3.1,5.6h-6.2zM919.3,295.7l3.1,5.6h-6.2zM919.8,296.2l3.1,5.6h-6.2zM920.3,298.5l3.1,5.6h-6.2zM920.7,297.6l3.1,5.6h-6.2zM921.2,298.4l3.1,5.6h-6.2zM921.7,294.3l3.1,5.6h-6.2zM922.2,296.0l3.1,5.6h-6.2zM922.7,301.7l3.1,5.6h-6.2zM923.2,299.1l3.1,5.6h-6.2zM923.6,297.3l3.1,5.6h-6.2zM924.1,298.2l3.1,5.6h-6.2zM924.1,293.7l3.1,5.6h-6.2zM924.6,299.5l3.1,5.6h-6.2zM925.1,294.5l3.1,5.6h-6.2zM925.6,298.3l3.1,5.6h-6.2zM926.1,296.7l3.1,5.6h-6.2zM926.5,295.3l3.1,5.6h-6.2zM927.0,294.2l3.1,5.6h-6.2zM927.5,299.7l3.1,5.6h-6.2zM928.0,298.3l3.1,5.6h-6.2zM928.5,294.1l3.1,5.6h-6.2zM929.0,297.7l3.1,5.6h-6.2zM929.4,296.1l3.1,5.6h-6.2zM929.9,296.0l3.1,5.6h-6.2zM930.4,296.7l3.1,5.6h-6.2zM930.9,298.2l3.1,5.6h-6.2zM931.4,297.7l3.1,5.6h-6.2zM931.9,299.6l3.1,5.6h-6.2zM932.3,293.6l3.1,5.6h-6.2zM932.8,296.1l3.1,5.6h-6.2zM933.3,299.4l3.1,5.6h-6.2zM933.8,295.4l3.1,5.6h-6.2zM934.3,297.0l3.1,5.6h-6.2zM934.3,288.5l3.1,5.6h-6.2zM934.8,297.9l3.1,5.6h-6.2zM935.2,298.1l3.1,5.6h-6.2zM935.7,296.0l3.1,5.6h-6.2zM936.2,297.6l3.1,5.6h-6.2zM936.7,295.3l3.1,5.6h-6.2zM937.2,297.1l3.1,5.6h-6.2zM937.7,298.2l3.1,5.6h-6.2zM938.1,297.6l3.1,5.6h-6.2zM938.6,298.7l3.1,5.6h-6.2zM939.1,297.5l3.1,5.6h-6.2zM939.6,299.8l3.1,5.6h-6.2zM940.1,297.4l3.1,5.6h-6.2zM940.1,294.2l3.1,5.6h-6.2zM940.5,296.1l3.1,5.6h-6.2zM941.0,293.8l3.1,5.6h-6.2zM941.5,298.8l3.1,5.6h-6.2zM941.5,291.5l3.1,5.6h-6.2zM942.0,297.4l3.1,5.6h-6.2zM942.5,296.9l3.1,5.6h-6.2zM943.0,297.9l3.1,5.6h-6.2zM943.0,291.0l3.1,5.6h-6.2zM943.4,295.3l3.1,5.6h-6.2zM943.4,290.2l3.1,5.6h-6.2zM943.9,296.9l3.1,5.6h-6.2zM944.4,297.5l3.1,5.6h-6.2zM944.4,290.3l3.1,5.6h-6.2zM944.9,296.3l3.1,5.6h-6.2zM945.4,302.2l3.1,5.6h-6.2zM945.9,294.7l3.1,5.6h-6.2zM946.3,297.4l3.1,5.6h-6.2zM946.8,298.5l3.1,5.6h-6.2zM947.3,299.4l3.1,5.6h-6.2zM947.3,293.9l3.1,5.6h-6.2zM947.8,296.6l3.1,5.6h-6.2zM948.3,297.5l3.1,5.6h-6.2zM948.8,295.1l3.1,5.6h-6.2zM949.2,297.2l3.1,5.6h-6.2zM949.7,296.5l3.1,5.6h-6.2zM950.2,297.1l3.1,5.6h-6.2zM950.2,291.9l3.1,5.6h-6.2zM950.7,297.6l3.1,5.6h-6.2zM951.2,296.5l3.1,5.6h-6.2zM951.7,293.2l3.1,5.6h-6.2zM952.1,300.4l3.1,5.6h-6.2zM952.6,299.2l3.1,5.6h-6.2zM953.1,295.0l3.1,5.6h-6.2zM953.6,300.7l3.1,5.6h-6.2zM953.6,294.2l3.1,5.6h-6.2zM954.1,298.0l3.1,5.6h-6.2zM954.6,297.0l3.1,5.6h-6.2zM955.0,293.5l3.1,5.6h-6.2zM955.5,298.4l3.1,5.6h-6.2zM955.5,293.4l3.1,5.6h-6.2zM956.0,301.5l3.1,5.6h-6.2zM956.0,292.4l3.1,5.6h-6.2zM956.5,300.6l3.1,5.6h-6.2zM957.0,297.9l3.1,5.6h-6.2zM957.5,296.7l3.1,5.6h-6.2zM957.5,293.7l3.1,5.6h-6.2zM957.9,295.8l3.1,5.6h-6.2zM958.4,295.7l3.1,5.6h-6.2zM958.9,295.7l3.1,5.6h-6.2zM959.4,296.5l3.1,5.6h-6.2zM959.9,297.4l3.1,5.6h-6.2zM960.4,295.3l3.1,5.6h-6.2zM960.4,293.1l3.1,5.6h-6.2zM960.8,298.4l3.1,5.6h-6.2zM961.3,297.7l3.1,5.6h-6.2zM961.8,295.9l3.1,5.6h-6.2zM961.8,292.0l3.1,5.6h-6.2zM962.3,296.6l3.1,5.6h-6.2zM962.8,297.0l3.1,5.6h-6.2zM962.8,293.5l3.1,5.6h-6.2zM963.3,296.0l3.1,5.6h-6.2zM963.7,293.8l3.1,5.6h-6.2zM964.2,297.9l3.1,5.6h-6.2zM964.2,293.9l3.1,5.6h-6.2zM964.7,295.5l3.1,5.6h-6.2zM965.2,296.5l3.1,5.6h-6.2zM965.7,297.4l3.1,5.6h-6.2zM966.1,295.3l3.1,5.6h-6.2zM966.6,298.2l3.1,5.6h-6.2zM967.1,296.3l3.1,5.6h-6.2zM967.6,295.9l3.1,5.6h-6.2zM968.1,297.3l3.1,5.6h-6.2zM968.6,296.8l3.1,5.6h-6.2zM969.0,297.8l3.1,5.6h-6.2zM969.5,294.4l3.1,5.6h-6.2zM970.0,295.0l3.1,5.6h-6.2zM970.5,298.2l3.1,5.6h-6.2zM970.5,293.6l3.1,5.6h-6.2zM971.0,296.7l3.1,5.6h-6.2zM971.5,294.2l3.1,5.6h-6.2zM971.5,290.8l3.1,5.6h-6.2zM971.9,296.3l3.1,5.6h-6.2zM972.4,297.0l3.1,5.6h-6.2zM972.9,296.1l3.1,5.6h-6.2zM973.4,296.4l3.1,5.6h-6.2zM973.9,292.5l3.1,5.6h-6.2zM974.4,298.2l3.1,5.6h-6.2zM974.8,296.1l3.1,5.6h-6.2zM975.3,295.8l3.1,5.6h-6.2zM975.8,295.0l3.1,5.6h-6.2zM976.3,297.3l3.1,5.6h-6.2zM976.8,298.9l3.1,5.6h-6.2zM977.3,295.5l3.1,5.6h-6.2zM977.7,297.4l3.1,5.6h-6.2zM977.7,291.0l3.1,5.6h-6.2zM978.2,296.1l3.1,5.6h-6.2zM978.7,293.7l3.1,5.6h-6.2zM978.7,291.8l3.1,5.6h-6.2zM979.2,292.3l3.1,5.6h-6.2zM979.7,293.2l3.1,5.6h-6.2zM979.7,292.2l3.1,5.6h-6.2zM980.2,299.3l3.1,5.6h-6.2zM980.6,296.9l3.1,5.6h-6.2zM981.1,297.6l3.1,5.6h-6.2zM981.6,301.0l3.1,5.6h-6.2zM982.1,299.2l3.1,5.6h-6.2zM982.6,296.6l3.1,5.6h-6.2zM983.1,297.7l3.1,5.6h-6.2zM983.5,298.7l3.1,5.6h-6.2zM984.0,300.2l3.1,5.6h-6.2zM984.0,293.2l3.1,5.6h-6.2zM984.5,300.5l3.1,5.6h-6.2zM985.0,297.4l3.1,5.6h-6.2zM985.5,299.6l3.1,5.6h-6.2zM986.0,299.7l3.1,5.6h-6.2zM986.4,298.0l3.1,5.6h-6.2zM986.4,294.5l3.1,5.6h-6.2zM986.9,301.1l3.1,5.6h-6.2zM987.4,298.9l3.1,5.6h-6.2zM987.9,297.7l3.1,5.6h-6.2zM987.9,294.9l3.1,5.6h-6.2zM988.4,299.6l3.1,5.6h-6.2zM988.8,301.8l3.1,5.6h-6.2zM989.3,299.6l3.1,5.6h-6.2zM989.8,303.1l3.1,5.6h-6.2zM990.3,299.8l3.1,5.6h-6.2zM990.8,300.0l3.1,5.6h-6.2zM991.3,302.1l3.1,5.6h-6.2zM991.7,301.5l3.1,5.6h-6.2zM991.7,298.0l3.1,5.6h-6.2zM992.2,301.9l3.1,5.6h-6.2zM992.7,298.8l3.1,5.6h-6.2zM993.2,302.0l3.1,5.6h-6.2zM993.7,303.3l3.1,5.6h-6.2zM994.2,301.0l3.1,5.6h-6.2zM994.2,298.3l3.1,5.6h-6.2zM994.6,302.1l3.1,5.6h-6.2zM994.6,296.2l3.1,5.6h-6.2zM995.1,304.0l3.1,5.6h-6.2zM995.6,302.7l3.1,5.6h-6.2zM996.1,298.8l3.1,5.6h-6.2zM996.1,297.6l3.1,5.6h-6.2zM996.6,301.7l3.1,5.6h-6.2zM996.6,298.7l3.1,5.6h-6.2zM997.1,302.2l3.1,5.6h-6.2zM997.5,301.2l3.1,5.6h-6.2zM998.0,303.4l3.1,5.6h-6.2zM998.0,291.9l3.1,5.6h-6.2zM998.5,300.7l3.1,5.6h-6.2zM999.0,297.9l3.1,5.6h-6.2zM999.5,301.5l3.1,5.6h-6.2z" fill="none" stroke="#3f3f3f" stroke-width="1"/>
<path d="M666.7,62.2l3.1,5.6h-6.2zM666.9,75.0l3.1,5.6h-6.2zM667.2,81.0l3.1,5.6h-6.2zM667.7,75.6l3.1,5.6h-6.2zM668.1,80.9l3.1,5.6h-6.2zM668.9,73.1l3.1,5.6h-6.2zM669.1,71.8l3.1,5.6h-6.2zM669.3,50.7l3.1,5.6h-6.2zM669.6,99.2l3.1,5.6h-6.2zM669.8,78.5l3.1,5.6h-6.2zM670.3,87.6l3.1,5.6h-6.2zM671.0,87.2l3.1,5.6h-6.2zM671.0,102.4l3.1,5.6h-6.2zM671.3,99.9l3.1,5.6h-6.2zM672.0,86.8l3.1,5.6h-6.2zM672.2,51.9l3.1,5.6h-6.2zM672.5,87.5l3.1,5.6h-6.2zM674.2,80.2l3.1,5.6h-6.2zM674.9,79.8l3.1,5.6h-6.2zM675.6,67.3l3.1,5.6h-6.2zM675.6,96.3l3.1,5.6h-6.2zM675.9,73.9l3.1,5.6h-6.2zM676.3,69.6l3.1,5.6h-6.2zM677.8,70.2l3.1,5.6h-6.2zM678.0,65.3l3.1,5.6h-6.2zM678.3,57.4l3.1,5.6h-6.2zM678.3,93.5l3.1,5.6h-6.2zM678.5,68.7l3.1,5.6h-6.2zM678.8,89.0l3.1,5.6h-6.2zM679.0,77.8l3.1,5.6h-6.2zM679.0,97.1l3.1,5.6h-6.2zM680.2,73.2l3.1,5.6h-6.2zM680.7,99.9l3.1,5.6h-6.2zM680.9,76.1l3.1,5.6h-6.2zM682.1,66.4l3.1,5.6h-6.2zM682.6,59.6l3.1,5.6h-6.2zM682.9,67.2l3.1,5.6h-6.2zM683.1,87.2l3.1,5.6h-6.2zM683.6,61.9l3.1,5.6h-6.2zM683.6,105.0l3.1,5.6h-6.2zM684.1,90.5l3.1,5.6h-6.2zM684.3,66.9l3.1,5.6h-6.2zM684.8,63.8l3.1,5.6h-6.2zM685.0,61.8l3.1,5.6h-6.2zM685.5,89.6l3.1,5.6h-6.2zM686.7,69.8l3.1,5.6h-6.2zM687.2,61.5l3.1,5.6h-6.2zM687.2,106.5l3.1,5.6h-6.2zM687.5,84.7l3.1,5.6h-6.2zM687.9,87.5l3.1,5.6h-6.2zM688.2,82.5l3.1,5.6h-6.2zM688.7,87.4l3.1,5.6h-6.2zM689.6,80.1l3.1,5.6h-6.2zM689.9,89.5l3.1,5.6h-6.2zM690.1,64.8l3.1,5.6h-6.2zM690.4,105.1l3.1,5.6h-6.2zM690.6,83.6l3.1,5.6h-6.2zM690.8,112.2l3.1,5.6h-6.2zM691.3,87.9l3.1,5.6h-6.2zM691.3,107.3l3.1,5.6h-6.2zM691.6,97.6l3.1,5.6h-6.2zM692.0,92.9l3.1,5.6h-6.2zM692.3,90.6l3.1,5.6h-6.2zM692.5,99.0l3.1,5.6h-6.2zM692.8,69.9l3.1,5.6h-6.2zM693.0,83.6l3.1,5.6h-6.2zM695.2,101.4l3.1,5.6h-6.2zM695.7,87.3l3.1,5.6h-6.2zM696.9,109.3l3.1,5.6h-6.2zM697.1,114.4l3.1,5.6h-6.2zM697.8,133.7l3.1,5.6h-6.2zM698.1,109.4l3.1,5.6h-6.2zM698.3,97.1l3.1,5.6h-6.2zM698.3,119.1l3.1,5.6h-6.2zM699.0,104.6l3.1,5.6h-6.2zM699.3,119.6l3.1,5.6h-6.2zM699.3,133.4l3.1,5.6h-6.2zM678.3,60.4l3.1,5.6h-6.2zM683.1,46.4l3.1,5.6h-6.2zM688.9,56.9l3.1,5.6h-6.2zM691.8,60.4l3.1,5.6h-6.2zM693.7,56.9l3.1,5.6h-6.2zM695.7,63.8l3.1,5.6h-6.2zM685.0,112.6l3.1,5.6h-6.2zM690.8,117.8l3.1,5.6h-6.2zM697.1,112.6l3.1,5.6h-6.2zM701.0,138.7l3.1,5.6h-6.2zM701.5,156.1l3.1,5.6h-6.2zM701.7,164.8l3.1,5.6h-6.2zM701.9,182.2l3.1,5.6h-6.2zM702.2,206.5l3.1,5.6h-6.2zM702.4,225.7l3.1,5.6h-6.2zM702.7,248.3l3.1,5.6h-6.2zM702.9,265.7l3.1,5.6h-6.2zM701.9,196.1l3.1,5.6h-6.2zM753.6,294.8l3.1,5.6h-6.2zM764.7,293.1l3.1,5.6h-6.2zM808.2,284.4l3.1,5.6h-6.2zM810.1,278.6l3.1,5.6h-6.2zM821.2,287.9l3.1,5.6h-6.2zM841.1,290.1l3.1,5.6h-6.2zM851.2,284.7l3.1,5.6h-6.2zM853.6,292.9l3.1,5.6h-6.2zM874.9,287.1l3.1,5.6h-6.2zM897.6,286.2l3.1,5.6h-6.2zM905.3,290.7l3.1,5.6h-6.2zM911.1,283.4l3.1,5.6h-6.2zM911.6,291.0l3.1,5.6h-6.2zM928.5,288.3l3.1,5.6h-6.2zM963.3,289.9l3.1,5.6h-6.2zM712.1,290.0l3.1,5.6h-6.2zM719.3,291.8l3.1,5.6h-6.2zM741.1,290.0l3.1,5.6h-6.2zM748.3,286.6l3.1,5.6h-6.2zM753.6,286.6l3.1,5.6h-6.2zM784.5,290.0l3.1,5.6h-6.2zM805.3,277.9l3.1,5.6h-6.2zM807.2,274.4l3.1,5.6h-6.2zM809.7,279.6l3.1,5.6h-6.2zM812.6,270.9l3.1,5.6h-6.2zM815.0,283.1l3.1,5.6h-6.2zM808.7,284.8l3.1,5.6h-6.2zM980.2,291.8l3.1,5.6h-6.2z" fill="none" stroke="#7a7a7a" stroke-width="0.8"/>
<path d="M663.6,353.5a2.7,2.7 0 1 0 -5.4,0a2.7,2.7 0 1 0 5.4,0M663.8,359.1a2.7,2.7 0 1 0 -5.4,0a2.7,2.7 0 1 0 5.4,0M664.1,355.6a2.7,2.7 0 1 0 -5.4,0a2.7,2.7 0 1 0 5.4,0M664.3,357.7a2.7,2.7 0 1 0 -5.4,0a2.7,2.7 0 1 0 5.4,0M664.6,354.8a2.7,2.7 0 1 0 -5.4,0a2.7,2.7 0 1 0 5.4,0M664.8,359.8a2.7,2.7 0 1 0 -5.4,0a2.7,2.7 0 1 0 5.4,0M665.0,354.2a2.7,2.7 0 1 0 -5.4,0a2.7,2.7 0 1 0 5.4,0M665.3,349.8a2.7,2.7 0 1 0 -5.4,0a2.7,2.7 0 1 0 5.4,0M665.5,357.8a2.7,2.7 0 1 0 -5.4,0a2.7,2.7 0 1 0 5.4,0M665.8,355.5a2.7,2.7 0 1 0 -5.4,0a2.7,2.7 0 1 0 5.4,0M666.0,356.6a2.7,2.7 0 1 0 -5.4,0a2.7,2.7 0 1 0 5.4,0M666.2,350.0a2.7,2.7 0 1 0 -5.4,0a2.7,2.7 0 1 0 5.4,0M666.5,353.6a2.7,2.7 0 1 0 -5.4,0a2.7,2.7 0 1 0 5.4,0M666.7,353.1a2.7,2.7 0 1 0 -5.4,0a2.7,2.7 0 1 0 5.4,0M667.0,353.1a2.7,2.7 0 1 0 -5.4,0a2.7,2.7 0 1 0 5.4,0M667.2,349.5a2.7,2.7 0 1 0 -5.4,0a2.7,2.7 0 1 0 5.4,0M667.5,351.3a2.7,2.7 0 1 0 -5.4,0a2.7,2.7 0 1 0 5.4,0M667.7,348.8a2.7,2.7 0 1 0 -5.4,0a2.7,2.7 0 1 0 5.4,0M667.9,351.4a2.7,2.7 0 1 0 -5.4,0a2.7,2.7 0 1 0 5.4,0M668.2,350.9a2.7,2.7 0 1 0 -5.4,0a2.7,2.7 0 1 0 5.4,0M668.4,347.9a2.7,2.7 0 1 0 -5.4,0a2.7,2.7 0 1 0 5.4,0M668.7,352.6a2.7,2.7 0 1 0 -5.4,0a2.7,2.7 0 1 0 5.4,0M668.9,350.7a2.7,2.7 0 1 0 -5.4,0a2.7,2.7 0 1 0 5.4,0M669.1,351.2a2.7,2.7 0 1 0 -5.4,0a2.7,2.7 0 1 0 5.4,0M669.4,350.8a2.7,2.7 0 1 0 -5.4,0a2.7,2.7 0 1 0 5.4,0M669.6,350.5a2.7,2.7 0 1 0 -5.4,0a2.7,2.7 0 1 0 5.4,0M669.9,349.8a2.7,2.7 0 1 0 -5.4,0a2.7,2.7 0 1 0 5.4,0M670.1,356.3a2.7,2.7 0 1 0 -5.4,0a2.7,2.7 0 1 0 5.4,0M670.4,351.1a2.7,2.7 0 1 0 -5.4,0a2.7,2.7 0 1 0 5.4,0M670.6,351.0a2.7,2.7 0 1 0 -5.4,0a2.7,2.7 0 1 0 5.4,0M670.8,345.5a2.7,2.7 0 1 0 -5.4,0a2.7,2.7 0 1 0 5.4,0M671.1,352.2a2.7,2.7 0 1 0 -5.4,0a2.7,2.7 0 1 0 5.4,0M671.3,350.7a2.7,2.7 0 1 0 -5.4,0a2.7,2.7 0 1 0 5.4,0M671.6,353.3a2.7,2.7 0 1 0 -5.4,0a2.7,2.7 0 1 0 5.4,0M671.8,353.4a2.7,2.7 0 1 0 -5.4,0a2.7,2.7 0 1 0 5.4,0M672.0,348.7a2.7,2.7 0 1 0 -5.4,0a2.7,2.7 0 1 0 5.4,0M672.3,352.2a2.7,2.7 0 1 0 -5.4,0a2.7,2.7 0 1 0 5.4,0M672.5,352.8a2.7,2.7 0 1 0 -5.4,0a2.7,2.7 0 1 0 5.4,0M672.8,349.0a2.7,2.7 0 1 0 -5.4,0a2.7,2.7 0 1 0 5.4,0M673.0,347.5a2.7,2.7 0 1 0 -5.4,0a2.7,2.7 0 1 0 5.4,0M673.3,350.6a2.7,2.7 0 1 0 -5.4,0a2.7,2.7 0 1 0 5.4,0M673.5,346.1a2.7,2.7 0 1 0 -5.4,0a2.7,2.7 0 1 0 5.4,0M673.7,348.7a2.7,2.7 0 1 0 -5.4,0a2.7,2.7 0 1 0 5.4,0M674.0,352.2a2.7,2.7 0 1 0 -5.4,0a2.7,2.7 0 1 0 5.4,0M674.2,350.5a2.7,2.7 0 1 0 -5.4,0a2.7,2.7 0 1 0 5.4,0M674.5,350.1a2.7,2.7 0 1 0 -5.4,0a2.7,2.7 0 1 0 5.4,0M674.7,348.6a2.7,2.7 0 1 0 -5.4,0a2.7,2.7 0 1 0 5.4,0M674.9,348.1a2.7,2.7 0 1 0 -5.4,0a2.7,2.7 0 1 0 5.4,0M675.2,349.9a2.7,2.7 0 1 0 -5.4,0a2.7,2.7 0 1 0 5.4,0M675.4,348.2a2.7,2.7 0 1 0 -5.4,0a2.7,2.7 0 1 0 5.4,0M675.7,354.0a2.7,2.7 0 1 0 -5.4,0a2.7,2.7 0 1 0 5.4,0M675.9,353.8a2.7,2.7 0 1 0 -5.4,0a2.7,2.7 0 1 0 5.4,0M676.2,347.6a2.7,2.7 0 1 0 -5.4,0a2.7,2.7 0 1 0 5.4,0M676.4,354.4a2.7,2.7 0 1 0 -5.4,0a2.7,2.7 0 1 0 5.4,0M676.6,350.4a2.7,2.7 0 1 0 -5.4,0a2.7,2.7 0 1 0 5.4,0M676.9,351.8a2.7,2.7 0 1 0 -5.4,0a2.7,2.7 0 1 0 5.4,0M677.1,351.7a2.7,2.7 0 1 0 -5.4,0a2.7,2.7 0 1 0 5.4,0M677.4,349.1a2.7,2.7 0 1 0 -5.4,0a2.7,2.7 0 1 0 5.4,0M677.6,352.6a2.7,2.7 0 1 0 -5.4,0a2.7,2.7 0 1 0 5.4,0M677.8,350.8a2.7,2.7 0 1 0 -5.4,0a2.7,2.7 0 1 0 5.4,0M678.1,348.6a2.7,2.7 0 1 0 -5.4,0a2.7,2.7 0 1 0 5.4,0M678.3,345.5a2.7,2.7 0 1 0 -5.4,0a2.7,2.7 0 1 0 5.4,0M678.6,350.5a2.7,2.7 0 1 0 -5.4,0a2.7,2.7 0 1 0 5.4,0M678.8,346.6a2.7,2.7 0 1 0 -5.4,0a2.7,2.7 0 1 0 5.4,0M679.0,345.4a2.7,2.7 0 1 0 -5.4,0a2.7,2.7 0 1 0 5.4,0M679.3,350.7a2.7,2.7 0 1 0 -5.4,0a2.7,2.7 0 1 0 5.4,0M679.5,349.1a2.7,2.7 0 1 0 -5.4,0a2.7,2.7 0 1 0 5.4,0M679.8,350.3a2.7,2.7 0 1 0 -5.4,0a2.7,2.7 0 1 0 5.4,0M680.0,348.1a2.7,2.7 0 1 0 -5.4,0a2.7,2.7 0 1 0 5.4,0M680.3,345.9a2.7,2.7 0 1 0 -5.4,0a2.7,2.7 0 1 0 5.4,0M680.5,344.4a2.7,2.7 0 1 0 -5.4,0a2.7,2.7 0 1 0 5.4,0M680.7,346.4a2.7,2.7 0 1 0 -5.4,0a2.7,2.7 0 1 0 5.4,0M681.0,350.8a2.7,2.7 0 1 0 -5.4,0a2.7,2.7 0 1 0 5.4,0M681.2,347.3a2.7,2.7 0 1 0 -5.4,0a2.7,2.7 0 1 0 5.4,0M681.5,352.1a2.7,2.7 0 1 0 -5.4,0a2.7,2.7 0 1 0 5.4,0M681.7,347.4a2.7,2.7 0 1 0 -5.4,0a2.7,2.7 0 1 0 5.4,0M681.9,347.4a2.7,2.7 0 1 0 -5.4,0a2.7,2.7 0 1 0 5.4,0M682.2,348.2a2.7,2.7 0 1 0 -5.4,0a2.7,2.7 0 1 0 5.4,0M682.4,343.8a2.7,2.7 0 1 0 -5.4,0a2.7,2.7 0 1 0 5.4,0M682.7,349.7a2.7,2.7 0 1 0 -5.4,0a2.7,2.7 0 1 0 5.4,0M682.9,347.1a2.7,2.7 0 1 0 -5.4,0a2.7,2.7 0 1 0 5.4,0M683.2,348.7a2.7,2.7 0 1 0 -5.4,0a2.7,2.7 0 1 0 5.4,0M683.4,345.9a2.7,2.7 0 1 0 -5.4,0a2.7,2.7 0 1 0 5.4,0M683.6,345.2a2.7,2.7 0 1 0 -5.4,0a2.7,2.7 0 1 0 5.4,0M683.9,347.1a2.7,2.7 0 1 0 -5.4,0a2.7,2.7 0 1 0 5.4,0M684.1,343.5a2.7,2.7 0 1 0 -5.4,0a2.7,2.7 0 1 0 5.4,0M684.4,344.1a2.7,2.7 0 1 0 -5.4,0a2.7,2.7 0 1 0 5.4,0M684.6,349.4a2.7,2.7 0 1 0 -5.4,0a2.7,2.7 0 1 0 5.4,0M684.8,342.3a2.7,2.7 0 1 0 -5.4,0a2.7,2.7 0 1 0 5.4,0M685.1,349.5a2.7,2.7 0 1 0 -5.4,0a2.7,2.7 0 1 0 5.4,0M685.3,350.7a2.7,2.7 0 1 0 -5.4,0a2.7,2.7 0 1 0 5.4,0M685.6,349.8a2.7,2.7 0 1 0 -5.4,0a2.7,2.7 0 1 0 5.4,0M685.8,345.5a2.7,2.7 0 1 0 -5.4,0a2.7,2.7 0 1 0 5.4,0M686.1,352.0a2.7,2.7 0 1 0 -5.4,0a2.7,2.7 0 1 0 5.4,0M686.3,348.5a2.7,2.7 0 1 0 -5.4,0a2.7,2.7 0 1 0 5.4,0M686.5,345.4a2.7,2.7 0 1 0 -5.4,0a2.7,2.7 0 1 0 5.4,0M686.8,346.6a2.7,2.7 0 1 0 -5.4,0a2.7,2.7 0 1 0 5.4,0M687.0,351.2a2.7,2.7 0 1 0 -5.4,0a2.7,2.7 0 1 0 5.4,0M687.3,344.4a2.7,2.7 0 1 0 -5.4,0a2.7,2.7 0 1 0 5.4,0M687.5,351.5a2.7,2.7 0 1 0 -5.4,0a2.7,2.7 0 1 0 5.4,0M687.7,348.0a2.7,2.7 0 1 0 -5.4,0a2.7,2.7 0 1 0 5.4,0M688.0,350.9a2.7,2.7 0 1 0 -5.4,0a2.7,2.7 0 1 0 5.4,0M688.2,342.2a2.7,2.7 0 1 0 -5.4,0a2.7,2.7 0 1 0 5.4,0M688.5,353.7a2.7,2.7 0 1 0 -5.4,0a2.7,2.7 0 1 0 5.4,0M688.7,346.5a2.7,2.7 0 1 0 -5.4,0a2.7,2.7 0 1 0 5.4,0M688.9,347.5a2.7,2.7 0 1 0 -5.4,0a2.7,2.7 0 1 0 5.4,0M689.2,350.7a2.7,2.7 0 1 0 -5.4,0a2.7,2.7 0 1 0 5.4,0M689.4,348.8a2.7,2.7 0 1 0 -5.4,0a2.7,2.7 0 1 0 5.4,0M689.7,347.6a2.7,2.7 0 1 0 -5.4,0a2.7,2.7 0 1 0 5.4,0M689.9,348.8a2.7,2.7 0 1 0 -5.4,0a2.7,2.7 0 1 0 5.4,0M690.2,346.8a2.7,2.7 0 1 0 -5.4,0a2.7,2.7 0 1 0 5.4,0M690.4,346.4a2.7,2.7 0 1 0 -5.4,0a2.7,2.7 0 1 0 5.4,0M690.6,346.9a2.7,2.7 0 1 0 -5.4,0a2.7,2.7 0 1 0 5.4,0M690.9,348.9a2.7,2.7 0 1 0 -5.4,0a2.7,2.7 0 1 0 5.4,0M691.1,352.7a2.7,2.7 0 1 0 -5.4,0a2.7,2.7 0 1 0 5.4,0M691.4,354.8a2.7,2.7 0 1 0 -5.4,0a2.7,2.7 0 1 0 5.4,0M691.6,348.1a2.7,2.7 0 1 0 -5.4,0a2.7,2.7 0 1 0 5.4,0M691.8,352.6a2.7,2.7 0 1 0 -5.4,0a2.7,2.7 0 1 0 5.4,0M692.1,348.5a2.7,2.7 0 1 0 -5.4,0a2.7,2.7 0 1 0 5.4,0M692.3,349.9a2.7,2.7 0 1 0 -5.4,0a2.7,2.7 0 1 0 5.4,0M692.6,350.3a2.7,2.7 0 1 0 -5.4,0a2.7,2.7 0 1 0 5.4,0M692.8,349.7a2.7,2.7 0 1 0 -5.4,0a2.7,2.7 0 1 0 5.4,0M693.1,348.9a2.7,2.7 0 1 0 -5.4,0a2.7,2.7 0 1 0 5.4,0M693.3,346.5a2.7,2.7 0 1 0 -5.4,0a2.7,2.7 0 1 0 5.4,0M693.5,350.5a2.7,2.7 0 1 0 -5.4,0a2.7,2.7 0 1 0 5.4,0M693.8,349.8a2.7,2.7 0 1 0 -5.4,0a2.7,2.7 0 1 0 5.4,0M694.0,344.4a2.7,2.7 0 1 0 -5.4,0a2.7,2.7 0 1 0 5.4,0M694.3,348.3a2.7,2.7 0 1 0 -5.4,0a2.7,2.7 0 1 0 5.4,0M694.5,348.4a2.7,2.7 0 1 0 -5.4,0a2.7,2.7 0 1 0 5.4,0M694.7,348.1a2.7,2.7 0 1 0 -5.4,0a2.7,2.7 0 1 0 5.4,0M695.0,347.3a2.7,2.7 0 1 0 -5.4,0a2.7,2.7 0 1 0 5.4,0M695.2,345.3a2.7,2.7 0 1 0 -5.4,0a2.7,2.7 0 1 0 5.4,0M695.5,347.6a2.7,2.7 0 1 0 -5.4,0a2.7,2.7 0 1 0 5.4,0M695.7,345.0a2.7,2.7 0 1 0 -5.4,0a2.7,2.7 0 1 0 5.4,0M696.0,342.6a2.7,2.7 0 1 0 -5.4,0a2.7,2.7 0 1 0 5.4,0M696.2,342.2a2.7,2.7 0 1 0 -5.4,0a2.7,2.7 0 1 0 5.4,0M696.4,343.9a2.7,2.7 0 1 0 -5.4,0a2.7,2.7 0 1 0 5.4,0M696.7,344.2a2.7,2.7 0 1 0 -5.4,0a2.7,2.7 0 1 0 5.4,0M696.9,339.3a2.7,2.7 0 1 0 -5.4,0a2.7,2.7 0 1 0 5.4,0M697.2,340.8a2.7,2.7 0 1 0 -5.4,0a2.7,2.7 0 1 0 5.4,0M697.4,342.2a2.7,2.7 0 1 0 -5.4,0a2.7,2.7 0 1 0 5.4,0M697.6,341.5a2.7,2.7 0 1 0 -5.4,0a2.7,2.7 0 1 0 5.4,0M697.9,341.0a2.7,2.7 0 1 0 -5.4,0a2.7,2.7 0 1 0 5.4,0M698.1,340.5a2.7,2.7 0 1 0 -5.4,0a2.7,2.7 0 1 0 5.4,0M698.4,333.4a2.7,2.7 0 1 0 -5.4,0a2.7,2.7 0 1 0 5.4,0M698.6,339.1a2.7,2.7 0 1 0 -5.4,0a2.7,2.7 0 1 0 5.4,0M698.9,339.5a2.7,2.7 0 1 0 -5.4,0a2.7,2.7 0 1 0 5.4,0M699.1,336.1a2.7,2.7 0 1 0 -5.4,0a2.7,2.7 0 1 0 5.4,0M699.3,334.1a2.7,2.7 0 1 0 -5.4,0a2.7,2.7 0 1 0 5.4,0M699.6,333.8a2.7,2.7 0 1 0 -5.4,0a2.7,2.7 0 1 0 5.4,0M699.8,329.3a2.7,2.7 0 1 0 -5.4,0a2.7,2.7 0 1 0 5.4,0M700.1,330.8a2.7,2.7 0 1 0 -5.4,0a2.7,2.7 0 1 0 5.4,0M700.3,334.1a2.7,2.7 0 1 0 -5.4,0a2.7,2.7 0 1 0 5.4,0M700.5,331.1a2.7,2.7 0 1 0 -5.4,0a2.7,2.7 0 1 0 5.4,0M700.8,331.0a2.7,2.7 0 1 0 -5.4,0a2.7,2.7 0 1 0 5.4,0M701.0,325.2a2.7,2.7 0 1 0 -5.4,0a2.7,2.7 0 1 0 5.4,0M701.3,322.2a2.7,2.7 0 1 0 -5.4,0a2.7,2.7 0 1 0 5.4,0M701.5,321.8a2.7,2.7 0 1 0 -5.4,0a2.7,2.7 0 1 0 5.4,0M701.7,321.3a2.7,2.7 0 1 0 -5.4,0a2.7,2.7 0 1 0 5.4,0M702.0,317.2a2.7,2.7 0 1 0 -5.4,0a2.7,2.7 0 1 0 5.4,0M702.2,320.6a2.7,2.7 0 1 0 -5.4,0a2.7,2.7 0 1 0 5.4,0M702.5,316.1a2.7,2.7 0 1 0 -5.4,0a2.7,2.7 0 1 0 5.4,0M702.7,315.1a2.7,2.7 0 1 0 -5.4,0a2.7,2.7 0 1 0 5.4,0M703.0,312.2a2.7,2.7 0 1 0 -5.4,0a2.7,2.7 0 1 0 5.4,0M705.1,85.4a2.7,2.7 0 1 0 -5.4,0a2.7,2.7 0 1 0 5.4,0M705.6,88.4a2.7,2.7 0 1 0 -5.4,0a2.7,2.7 0 1 0 5.4,0M706.1,84.5a2.7,2.7 0 1 0 -5.4,0a2.7,2.7 0 1 0 5.4,0M706.6,88.7a2.7,2.7 0 1 0 -5.4,0a2.7,2.7 0 1 0 5.4,0M707.1,84.2a2.7,2.7 0 1 0 -5.4,0a2.7,2.7 0 1 0 5.4,0M707.5,84.1a2.7,2.7 0 1 0 -5.4,0a2.7,2.7 0 1 0 5.4,0M708.0,83.9a2.7,2.7 0 1 0 -5.4,0a2.7,2.7 0 1 0 5.4,0M708.5,81.4a2.7,2.7 0 1 0 -5.4,0a2.7,2.7 0 1 0 5.4,0M709.0,86.5a2.7,2.7 0 1 0 -5.4,0a2.7,2.7 0 1 0 5.4,0M709.5,84.5a2.7,2.7 0 1 0 -5.4,0a2.7,2.7 0 1 0 5.4,0M710.0,86.0a2.7,2.7 0 1 0 -5.4,0a2.7,2.7 0 1 0 5.4,0M710.4,83.4a2.7,2.7 0 1 0 -5.4,0a2.7,2.7 0 1 0 5.4,0M710.9,84.1a2.7,2.7 0 1 0 -5.4,0a2.7,2.7 0 1 0 5.4,0M711.4,83.6a2.7,2.7 0 1 0 -5.4,0a2.7,2.7 0 1 0 5.4,0M711.9,84.3a2.7,2.7 0 1 0 -5.4,0a2.7,2.7 0 1 0 5.4,0M712.4,87.3a2.7,2.7 0 1 0 -5.4,0a2.7,2.7 0 1 0 5.4,0M712.9,83.2a2.7,2.7 0 1 0 -5.4,0a2.7,2.7 0 1 0 5.4,0M713.3,82.1a2.7,2.7 0 1 0 -5.4,0a2.7,2.7 0 1 0 5.4,0M713.8,83.6a2.7,2.7 0 1 0 -5.4,0a2.7,2.7 0 1 0 5.4,0M714.3,79.3a2.7,2.7 0 1 0 -5.4,0a2.7,2.7 0 1 0 5.4,0M714.8,80.5a2.7,2.7 0 1 0 -5.4,0a2.7,2.7 0 1 0 5.4,0M715.3,80.0a2.7,2.7 0 1 0 -5.4,0a2.7,2.7 0 1 0 5.4,0M715.8,84.3a2.7,2.7 0 1 0 -5.4,0a2.7,2.7 0 1 0 5.4,0M716.2,84.1a2.7,2.7 0 1 0 -5.4,0a2.7,2.7 0 1 0 5.4,0M716.7,77.4a2.7,2.7 0 1 0 -5.4,0a2.7,2.7 0 1 0 5.4,0M717.2,76.2a2.7,2.7 0 1 0 -5.4,0a2.7,2.7 0 1 0 5.4,0M717.7,80.4a2.7,2.7 0 1 0 -5.4,0a2.7,2.7 0 1 0 5.4,0M718.2,84.5a2.7,2.7 0 1 0 -5.4,0a2.7,2.7 0 1 0 5.4,0M718.7,83.3a2.7,2.7 0 1 0 -5.4,0a2.7,2.7 0 1 0 5.4,0M719.1,72.6a2.7,2.7 0 1 0 -5.4,0a2.7,2.7 0 1 0 5.4,0M719.6,84.9a2.7,2.7 0 1 0 -5.4,0a2.7,2.7 0 1 0 5.4,0M720.1,77.8a2.7,2.7 0 1 0 -5.4,0a2.7,2.7 0 1 0 5.4,0M720.6,79.2a2.7,2.7 0 1 0 -5.4,0a2.7,2.7 0 1 0 5.4,0M721.1,75.9a2.7,2.7 0 1 0 -5.4,0a2.7,2.7 0 1 0 5.4,0M721.6,75.5a2.7,2.7 0 1 0 -5.4,0a2.7,2.7 0 1 0 5.4,0M722.0,78.8a2.7,2.7 0 1 0 -5.4,0a2.7,2.7 0 1 0 5.4,0M722.5,76.1a2.7,2.7 0 1 0 -5.4,0a2.7,2.7 0 1 0 5.4,0M723.0,82.5a2.7,2.7 0 1 0 -5.4,0a2.7,2.7 0 1 0 5.4,0M723.5,76.3a2.7,2.7 0 1 0 -5.4,0a2.7,2.7 0 1 0 5.4,0M724.0,80.1a2.7,2.7 0 1 0 -5.4,0a2.7,2.7 0 1 0 5.4,0M724.4,74.8a2.7,2.7 0 1 0 -5.4,0a2.7,2.7 0 1 0 5.4,0M724.9,77.0a2.7,2.7 0 1 0 -5.4,0a2.7,2.7 0 1 0 5.4,0M725.4,75.6a2.7,2.7 0 1 0 -5.4,0a2.7,2.7 0 1 0 5.4,0M725.9,78.9a2.7,2.7 0 1 0 -5.4,0a2.7,2.7 0 1 0 5.4,0M726.4,80.6a2.7,2.7 0 1 0 -5.4,0a2.7,2.7 0 1 0 5.4,0M726.9,72.6a2.7,2.7 0 1 0 -5.4,0a2.7,2.7 0 1 0 5.4,0M727.3,80.7a2.7,2.7 0 1 0 -5.4,0a2.7,2.7 0 1 0 5.4,0M727.8,82.5a2.7,2.7 0 1 0 -5.4,0a2.7,2.7 0 1 0 5.4,0M728.3,77.8a2.7,2.7 0 1 0 -5.4,0a2.7,2.7 0 1 0 5.4,0M728.8,86.1a2.7,2.7 0 1 0 -5.4,0a2.7,2.7 0 1 0 5.4,0M729.3,83.9a2.7,2.7 0 1 0 -5.4,0a2.7,2.7 0 1 0 5.4,0M729.8,81.4a2.7,2.7 0 1 0 -5.4,0a2.7,2.7 0 1 0 5.4,0M730.2,83.7a2.7,2.7 0 1 0 -5.4,0a2.7,2.7 0 1 0 5.4,0M730.7,84.0a2.7,2.7 0 1 0 -5.4,0a2.7,2.7 0 1 0 5.4,0M731.2,81.4a2.7,2.7 0 1 0 -5.4,0a2.7,2.7 0 1 0 5.4,0M731.7,78.8a2.7,2.7 0 1 0 -5.4,0a2.7,2.7 0 1 0 5.4,0M732.2,82.9a2.7,2.7 0 1 0 -5.4,0a2.7,2.7 0 1 0 5.4,0M732.7,80.4a2.7,2.7 0 1 0 -5.4,0a2.7,2.7 0 1 0 5.4,0M733.1,83.6a2.7,2.7 0 1 0 -5.4,0a2.7,2.7 0 1 0 5.4,0M733.6,85.9a2.7,2.7 0 1 0 -5.4,0a2.7,2.7 0 1 0 5.4,0M734.1,77.4a2.7,2.7 0 1 0 -5.4,0a2.7,2.7 0 1 0 5.4,0M734.6,79.0a2.7,2.7 0 1 0 -5.4,0a2.7,2.7 0 1 0 5.4,0M735.1,83.7a2.7,2.7 0 1 0 -5.4,0a2.7,2.7 0 1 0 5.4,0M735.6,80.2a2.7,2.7 0 1 0 -5.4,0a2.7,2.7 0 1 0 5.4,0M736.0,78.7a2.7,2.7 0 1 0 -5.4,0a2.7,2.7 0 1 0 5.4,0M736.5,78.4a2.7,2.7 0 1 0 -5.4,0a2.7,2.7 0 1 0 5.4,0M737.0,77.1a2.7,2.7 0 1 0 -5.4,0a2.7,2.7 0 1 0 5.4,0M737.5,76.4a2.7,2.7 0 1 0 -5.4,0a2.7,2.7 0 1 0 5.4,0M738.0,80.3a2.7,2.7 0 1 0 -5.4,0a2.7,2.7 0 1 0 5.4,0M738.5,79.1a2.7,2.7 0 1 0 -5.4,0a2.7,2.7 0 1 0 5.4,0M738.9,77.8a2.7,2.7 0 1 0 -5.4,0a2.7,2.7 0 1 0 5.4,0M739.4,79.0a2.7,2.7 0 1 0 -5.4,0a2.7,2.7 0 1 0 5.4,0M739.9,79.3a2.7,2.7 0 1 0 -5.4,0a2.7,2.7 0 1 0 5.4,0M740.4,77.1a2.7,2.7 0 1 0 -5.4,0a2.7,2.7 0 1 0 5.4,0M740.9,75.3a2.7,2.7 0 1 0 -5.4,0a2.7,2.7 0 1 0 5.4,0M741.4,70.0a2.7,2.7 0 1 0 -5.4,0a2.7,2.7 0 1 0 5.4,0M741.8,70.9a2.7,2.7 0 1 0 -5.4,0a2.7,2.7 0 1 0 5.4,0M742.3,73.0a2.7,2.7 0 1 0 -5.4,0a2.7,2.7 0 1 0 5.4,0M742.8,75.9a2.7,2.7 0 1 0 -5.4,0a2.7,2.7 0 1 0 5.4,0M743.3,73.1a2.7,2.7 0 1 0 -5.4,0a2.7,2.7 0 1 0 5.4,0M743.8,75.6a2.7,2.7 0 1 0 -5.4,0a2.7,2.7 0 1 0 5.4,0M744.3,74.9a2.7,2.7 0 1 0 -5.4,0a2.7,2.7 0 1 0 5.4,0M744.7,73.2a2.7,2.7 0 1 0 -5.4,0a2.7,2.7 0 1 0 5.4,0M745.2,69.9a2.7,2.7 0 1 0 -5.4,0a2.7,2.7 0 1 0 5.4,0M745.7,76.5a2.7,2.7 0 1 0 -5.4,0a2.7,2.7 0 1 0 5.4,0M746.2,68.9a2.7,2.7 0 1 0 -5.4,0a2.7,2.7 0 1 0 5.4,0M746.7,74.3a2.7,2.7 0 1 0 -5.4,0a2.7,2.7 0 1 0 5.4,0M747.2,71.6a2.7,2.7 0 1 0 -5.4,0a2.7,2.7 0 1 0 5.4,0M747.6,72.6a2.7,2.7 0 1 0 -5.4,0a2.7,2.7 0 1 0 5.4,0M748.1,71.1a2.7,2.7 0 1 0 -5.4,0a2.7,2.7 0 1 0 5.4,0M748.6,70.1a2.7,2.7 0 1 0 -5.4,0a2.7,2.7 0 1 0 5.4,0M749.1,69.4a2.7,2.7 0 1 0 -5.4,0a2.7,2.7 0 1 0 5.4,0M749.6,73.2a2.7,2.7 0 1 0 -5.4,0a2.7,2.7 0 1 0 5.4,0M750.0,70.5a2.7,2.7 0 1 0 -5.4,0a2.7,2.7 0 1 0 5.4,0M750.5,71.0a2.7,2.7 0 1 0 -5.4,0a2.7,2.7 0 1 0 5.4,0M751.0,70.6a2.7,2.7 0 1 0 -5.4,0a2.7,2.7 0 1 0 5.4,0M751.5,69.9a2.7,2.7 0 1 0 -5.4,0a2.7,2.7 0 1 0 5.4,0M752.0,69.7a2.7,2.7 0 1 0 -5.4,0a2.7,2.7 0 1 0 5.4,0M752.5,67.3a2.7,2.7 0 1 0 -5.4,0a2.7,2.7 0 1 0 5.4,0M752.9,69.9a2.7,2.7 0 1 0 -5.4,0a2.7,2.7 0 1 0 5.4,0M753.4,72.6a2.7,2.7 0 1 0 -5.4,0a2.7,2.7 0 1 0 5.4,0M753.9,73.2a2.7,2.7 0 1 0 -5.4,0a2.7,2.7 0 1 0 5.4,0M754.4,70.9a2.7,2.7 0 1 0 -5.4,0a2.7,2.7 0 1 0 5.4,0M754.9,70.9a2.7,2.7 0 1 0 -5.4,0a2.7,2.7 0 1 0 5.4,0M755.4,76.5a2.7,2.7 0 1 0 -5.4,0a2.7,2.7 0 1 0 5.4,0M755.8,77.8a2.7,2.7 0 1 0 -5.4,0a2.7,2.7 0 1 0 5.4,0M756.3,76.2a2.7,2.7 0 1 0 -5.4,0a2.7,2.7 0 1 0 5.4,0M756.8,76.4a2.7,2.7 0 1 0 -5.4,0a2.7,2.7 0 1 0 5.4,0M757.3,79.0a2.7,2.7 0 1 0 -5.4,0a2.7,2.7 0 1 0 5.4,0M757.8,72.4a2.7,2.7 0 1 0 -5.4,0a2.7,2.7 0 1 0 5.4,0M758.3,72.8a2.7,2.7 0 1 0 -5.4,0a2.7,2.7 0 1 0 5.4,0M758.7,75.4a2.7,2.7 0 1 0 -5.4,0a2.7,2.7 0 1 0 5.4,0M759.2,79.7a2.7,2.7 0 1 0 -5.4,0a2.7,2.7 0 1 0 5.4,0M759.7,74.8a2.7,2.7 0 1 0 -5.4,0a2.7,2.7 0 1 0 5.4,0M760.2,75.7a2.7,2.7 0 1 0 -5.4,0a2.7,2.7 0 1 0 5.4,0M760.7,77.9a2.7,2.7 0 1 0 -5.4,0a2.7,2.7 0 1 0 5.4,0M761.2,74.3a2.7,2.7 0 1 0 -5.4,0a2.7,2.7 0 1 0 5.4,0M761.6,80.5a2.7,2.7 0 1 0 -5.4,0a2.7,2.7 0 1 0 5.4,0M762.1,79.8a2.7,2.7 0 1 0 -5.4,0a2.7,2.7 0 1 0 5.4,0M762.6,78.1a2.7,2.7 0 1 0 -5.4,0a2.7,2.7 0 1 0 5.4,0M763.1,80.9a2.7,2.7 0 1 0 -5.4,0a2.7,2.7 0 1 0 5.4,0M763.6,77.7a2.7,2.7 0 1 0 -5.4,0a2.7,2.7 0 1 0 5.4,0M764.1,81.2a2.7,2.7 0 1 0 -5.4,0a2.7,2.7 0 1 0 5.4,0M764.5,79.9a2.7,2.7 0 1 0 -5.4,0a2.7,2.7 0 1 0 5.4,0M765.0,79.1a2.7,2.7 0 1 0 -5.4,0a2.7,2.7 0 1 0 5.4,0M765.5,83.1a2.7,2.7 0 1 0 -5.4,0a2.7,2.7 0 1 0 5.4,0M766.0,81.8a2.7,2.7 0 1 0 -5.4,0a2.7,2.7 0 1 0 5.4,0M766.5,79.9a2.7,2.7 0 1 0 -5.4,0a2.7,2.7 0 1 0 5.4,0M767.0,78.6a2.7,2.7 0 1 0 -5.4,0a2.7,2.7 0 1 0 5.4,0M767.4,78.7a2.7,2.7 0 1 0 -5.4,0a2.7,2.7 0 1 0 5.4,0M767.9,81.2a2.7,2.7 0 1 0 -5.4,0a2.7,2.7 0 1 0 5.4,0M768.4,85.0a2.7,2.7 0 1 0 -5.4,0a2.7,2.7 0 1 0 5.4,0M768.9,84.9a2.7,2.7 0 1 0 -5.4,0a2.7,2.7 0 1 0 5.4,0M769.4,80.3a2.7,2.7 0 1 0 -5.4,0a2.7,2.7 0 1 0 5.4,0M769.9,84.7a2.7,2.7 0 1 0 -5.4,0a2.7,2.7 0 1 0 5.4,0M770.3,80.0a2.7,2.7 0 1 0 -5.4,0a2.7,2.7 0 1 0 5.4,0M770.8,80.3a2.7,2.7 0 1 0 -5.4,0a2.7,2.7 0 1 0 5.4,0M771.3,86.5a2.7,2.7 0 1 0 -5.4,0a2.7,2.7 0 1 0 5.4,0M771.8,85.7a2.7,2.7 0 1 0 -5.4,0a2.7,2.7 0 1 0 5.4,0M772.3,81.0a2.7,2.7 0 1 0 -5.4,0a2.7,2.7 0 1 0 5.4,0M772.7,79.8a2.7,2.7 0 1 0 -5.4,0a2.7,2.7 0 1 0 5.4,0M773.2,80.8a2.7,2.7 0 1 0 -5.4,0a2.7,2.7 0 1 0 5.4,0M773.7,84.3a2.7,2.7 0 1 0 -5.4,0a2.7,2.7 0 1 0 5.4,0M774.2,82.7a2.7,2.7 0 1 0 -5.4,0a2.7,2.7 0 1 0 5.4,0M774.7,82.8a2.7,2.7 0 1 0 -5.4,0a2.7,2.7 0 1 0 5.4,0M775.2,84.3a2.7,2.7 0 1 0 -5.4,0a2.7,2.7 0 1 0 5.4,0M775.6,83.0a2.7,2.7 0 1 0 -5.4,0a2.7,2.7 0 1 0 5.4,0M776.1,78.9a2.7,2.7 0 1 0 -5.4,0a2.7,2.7 0 1 0 5.4,0M776.6,83.3a2.7,2.7 0 1 0 -5.4,0a2.7,2.7 0 1 0 5.4,0M777.1,82.0a2.7,2.7 0 1 0 -5.4,0a2.7,2.7 0 1 0 5.4,0M777.6,84.1a2.7,2.7 0 1 0 -5.4,0a2.7,2.7 0 1 0 5.4,0M778.1,84.7a2.7,2.7 0 1 0 -5.4,0a2.7,2.7 0 1 0 5.4,0M778.5,84.9a2.7,2.7 0 1 0 -5.4,0a2.7,2.7 0 1 0 5.4,0M779.0,82.8a2.7,2.7 0 1 0 -5.4,0a2.7,2.7 0 1 0 5.4,0M779.5,83.4a2.7,2.7 0 1 0 -5.4,0a2.7,2.7 0 1 0 5.4,0M780.0,87.4a2.7,2.7 0 1 0 -5.4,0a2.7,2.7 0 1 0 5.4,0M780.5,83.5a2.7,2.7 0 1 0 -5.4,0a2.7,2.7 0 1 0 5.4,0M781.0,86.5a2.7,2.7 0 1 0 -5.4,0a2.7,2.7 0 1 0 5.4,0M781.4,83.5a2.7,2.7 0 1 0 -5.4,0a2.7,2.7 0 1 0 5.4,0M781.9,80.4a2.7,2.7 0 1 0 -5.4,0a2.7,2.7 0 1 0 5.4,0M782.4,86.9a2.7,2.7 0 1 0 -5.4,0a2.7,2.7 0 1 0 5.4,0M782.9,84.4a2.7,2.7 0 1 0 -5.4,0a2.7,2.7 0 1 0 5.4,0M783.4,85.8a2.7,2.7 0 1 0 -5.4,0a2.7,2.7 0 1 0 5.4,0M783.9,82.9a2.7,2.7 0 1 0 -5.4,0a2.7,2.7 0 1 0 5.4,0M784.3,83.6a2.7,2.7 0 1 0 -5.4,0a2.7,2.7 0 1 0 5.4,0M784.8,89.5a2.7,2.7 0 1 0 -5.4,0a2.7,2.7 0 1 0 5.4,0M785.3,87.5a2.7,2.7 0 1 0 -5.4,0a2.7,2.7 0 1 0 5.4,0M785.8,86.8a2.7,2.7 0 1 0 -5.4,0a2.7,2.7 0 1 0 5.4,0M786.3,87.4a2.7,2.7 0 1 0 -5.4,0a2.7,2.7 0 1 0 5.4,0M786.8,83.7a2.7,2.7 0 1 0 -5.4,0a2.7,2.7 0 1 0 5.4,0M787.2,82.9a2.7,2.7 0 1 0 -5.4,0a2.7,2.7 0 1 0 5.4,0M787.7,86.2a2.7,2.7 0 1 0 -5.4,0a2.7,2.7 0 1 0 5.4,0M788.2,88.9a2.7,2.7 0 1 0 -5.4,0a2.7,2.7 0 1 0 5.4,0M788.7,84.9a2.7,2.7 0 1 0 -5.4,0a2.7,2.7 0 1 0 5.4,0M789.2,86.3a2.7,2.7 0 1 0 -5.4,0a2.7,2.7 0 1 0 5.4,0M789.7,82.1a2.7,2.7 0 1 0 -5.4,0a2.7,2.7 0 1 0 5.4,0M790.1,80.2a2.7,2.7 0 1 0 -5.4,0a2.7,2.7 0 1 0 5.4,0M790.6,88.3a2.7,2.7 0 1 0 -5.4,0a2.7,2.7 0 1 0 5.4,0M791.1,84.7a2.7,2.7 0 1 0 -5.4,0a2.7,2.7 0 1 0 5.4,0M791.6,87.6a2.7,2.7 0 1 0 -5.4,0a2.7,2.7 0 1 0 5.4,0M792.1,81.3a2.7,2.7 0 1 0 -5.4,0a2.7,2.7 0 1 0 5.4,0M792.6,85.6a2.7,2.7 0 1 0 -5.4,0a2.7,2.7 0 1 0 5.4,0M793.0,83.6a2.7,2.7 0 1 0 -5.4,0a2.7,2.7 0 1 0 5.4,0M793.5,84.5a2.7,2.7 0 1 0 -5.4,0a2.7,2.7 0 1 0 5.4,0M794.0,86.6a2.7,2.7 0 1 0 -5.4,0a2.7,2.7 0 1 0 5.4,0M794.5,87.5a2.7,2.7 0 1 0 -5.4,0a2.7,2.7 0 1 0 5.4,0M795.0,87.1a2.7,2.7 0 1 0 -5.4,0a2.7,2.7 0 1 0 5.4,0M795.5,84.9a2.7,2.7 0 1 0 -5.4,0a2.7,2.7 0 1 0 5.4,0M795.9,84.3a2.7,2.7 0 1 0 -5.4,0a2.7,2.7 0 1 0 5.4,0M796.4,84.1a2.7,2.7 0 1 0 -5.4,0a2.7,2.7 0 1 0 5.4,0M796.9,78.3a2.7,2.7 0 1 0 -5.4,0a2.7,2.7 0 1 0 5.4,0M797.4,85.2a2.7,2.7 0 1 0 -5.4,0a2.7,2.7 0 1 0 5.4,0M797.9,82.9a2.7,2.7 0 1 0 -5.4,0a2.7,2.7 0 1 0 5.4,0M798.3,81.6a2.7,2.7 0 1 0 -5.4,0a2.7,2.7 0 1 0 5.4,0M798.8,85.2a2.7,2.7 0 1 0 -5.4,0a2.7,2.7 0 1 0 5.4,0M799.3,89.7a2.7,2.7 0 1 0 -5.4,0a2.7,2.7 0 1 0 5.4,0M799.8,84.3a2.7,2.7 0 1 0 -5.4,0a2.7,2.7 0 1 0 5.4,0M800.3,84.3a2.7,2.7 0 1 0 -5.4,0a2.7,2.7 0 1 0 5.4,0M800.8,83.0a2.7,2.7 0 1 0 -5.4,0a2.7,2.7 0 1 0 5.4,0M801.2,86.8a2.7,2.7 0 1 0 -5.4,0a2.7,2.7 0 1 0 5.4,0M801.7,85.1a2.7,2.7 0 1 0 -5.4,0a2.7,2.7 0 1 0 5.4,0M802.2,81.9a2.7,2.7 0 1 0 -5.4,0a2.7,2.7 0 1 0 5.4,0M802.7,87.8a2.7,2.7 0 1 0 -5.4,0a2.7,2.7 0 1 0 5.4,0M803.2,84.3a2.7,2.7 0 1 0 -5.4,0a2.7,2.7 0 1 0 5.4,0M803.7,88.8a2.7,2.7 0 1 0 -5.4,0a2.7,2.7 0 1 0 5.4,0M804.1,84.3a2.7,2.7 0 1 0 -5.4,0a2.7,2.7 0 1 0 5.4,0M804.6,86.6a2.7,2.7 0 1 0 -5.4,0a2.7,2.7 0 1 0 5.4,0M805.1,86.5a2.7,2.7 0 1 0 -5.4,0a2.7,2.7 0 1 0 5.4,0M805.6,87.0a2.7,2.7 0 1 0 -5.4,0a2.7,2.7 0 1 0 5.4,0M806.1,86.8a2.7,2.7 0 1 0 -5.4,0a2.7,2.7 0 1 0 5.4,0M806.6,83.7a2.7,2.7 0 1 0 -5.4,0a2.7,2.7 0 1 0 5.4,0M807.0,90.2a2.7,2.7 0 1 0 -5.4,0a2.7,2.7 0 1 0 5.4,0M807.5,90.6a2.7,2.7 0 1 0 -5.4,0a2.7,2.7 0 1 0 5.4,0M808.0,88.4a2.7,2.7 0 1 0 -5.4,0a2.7,2.7 0 1 0 5.4,0M808.5,89.3a2.7,2.7 0 1 0 -5.4,0a2.7,2.7 0 1 0 5.4,0M809.0,93.2a2.7,2.7 0 1 0 -5.4,0a2.7,2.7 0 1 0 5.4,0M809.5,87.8a2.7,2.7 0 1 0 -5.4,0a2.7,2.7 0 1 0 5.4,0M809.9,92.1a2.7,2.7 0 1 0 -5.4,0a2.7,2.7 0 1 0 5.4,0M810.4,92.9a2.7,2.7 0 1 0 -5.4,0a2.7,2.7 0 1 0 5.4,0M810.9,94.1a2.7,2.7 0 1 0 -5.4,0a2.7,2.7 0 1 0 5.4,0M811.4,92.6a2.7,2.7 0 1 0 -5.4,0a2.7,2.7 0 1 0 5.4,0M811.9,96.9a2.7,2.7 0 1 0 -5.4,0a2.7,2.7 0 1 0 5.4,0M812.4,94.6a2.7,2.7 0 1 0 -5.4,0a2.7,2.7 0 1 0 5.4,0M812.8,90.8a2.7,2.7 0 1 0 -5.4,0a2.7,2.7 0 1 0 5.4,0M813.3,90.9a2.7,2.7 0 1 0 -5.4,0a2.7,2.7 0 1 0 5.4,0M813.8,97.8a2.7,2.7 0 1 0 -5.4,0a2.7,2.7 0 1 0 5.4,0M814.3,91.4a2.7,2.7 0 1 0 -5.4,0a2.7,2.7 0 1 0 5.4,0M814.8,93.3a2.7,2.7 0 1 0 -5.4,0a2.7,2.7 0 1 0 5.4,0M815.3,92.3a2.7,2.7 0 1 0 -5.4,0a2.7,2.7 0 1 0 5.4,0M815.7,93.8a2.7,2.7 0 1 0 -5.4,0a2.7,2.7 0 1 0 5.4,0M816.2,90.7a2.7,2.7 0 1 0 -5.4,0a2.7,2.7 0 1 0 5.4,0M816.7,95.6a2.7,2.7 0 1 0 -5.4,0a2.7,2.7 0 1 0 5.4,0M817.2,90.6a2.7,2.7 0 1 0 -5.4,0a2.7,2.7 0 1 0 5.4,0M817.7,94.6a2.7,2.7 0 1 0 -5.4,0a2.7,2.7 0 1 0 5.4,0M818.2,93.0a2.7,2.7 0 1 0 -5.4,0a2.7,2.7 0 1 0 5.4,0M818.6,89.9a2.7,2.7 0 1 0 -5.4,0a2.7,2.7 0 1 0 5.4,0M819.1,91.9a2.7,2.7 0 1 0 -5.4,0a2.7,2.7 0 1 0 5.4,0M819.6,92.8a2.7,2.7 0 1 0 -5.4,0a2.7,2.7 0 1 0 5.4,0M820.1,92.5a2.7,2.7 0 1 0 -5.4,0a2.7,2.7 0 1 0 5.4,0M820.6,89.8a2.7,2.7 0 1 0 -5.4,0a2.7,2.7 0 1 0 5.4,0M821.0,93.5a2.7,2.7 0 1 0 -5.4,0a2.7,2.7 0 1 0 5.4,0M821.5,89.1a2.7,2.7 0 1 0 -5.4,0a2.7,2.7 0 1 0 5.4,0M822.0,90.4a2.7,2.7 0 1 0 -5.4,0a2.7,2.7 0 1 0 5.4,0M822.5,89.5a2.7,2.7 0 1 0 -5.4,0a2.7,2.7 0 1 0 5.4,0M823.0,92.0a2.7,2.7 0 1 0 -5.4,0a2.7,2.7 0 1 0 5.4,0M823.5,89.2a2.7,2.7 0 1 0 -5.4,0a2.7,2.7 0 1 0 5.4,0M823.9,89.6a2.7,2.7 0 1 0 -5.4,0a2.7,2.7 0 1 0 5.4,0M824.4,86.7a2.7,2.7 0 1 0 -5.4,0a2.7,2.7 0 1 0 5.4,0M824.9,88.8a2.7,2.7 0 1 0 -5.4,0a2.7,2.7 0 1 0 5.4,0M825.4,87.9a2.7,2.7 0 1 0 -5.4,0a2.7,2.7 0 1 0 5.4,0M825.9,90.4a2.7,2.7 0 1 0 -5.4,0a2.7,2.7 0 1 0 5.4,0M826.4,84.0a2.7,2.7 0 1 0 -5.4,0a2.7,2.7 0 1 0 5.4,0M826.8,84.5a2.7,2.7 0 1 0 -5.4,0a2.7,2.7 0 1 0 5.4,0M827.3,88.9a2.7,2.7 0 1 0 -5.4,0a2.7,2.7 0 1 0 5.4,0M827.8,83.0a2.7,2.7 0 1 0 -5.4,0a2.7,2.7 0 1 0 5.4,0M828.3,83.4a2.7,2.7 0 1 0 -5.4,0a2.7,2.7 0 1 0 5.4,0M828.8,90.0a2.7,2.7 0 1 0 -5.4,0a2.7,2.7 0 1 0 5.4,0M829.3,88.2a2.7,2.7 0 1 0 -5.4,0a2.7,2.7 0 1 0 5.4,0M829.7,84.3a2.7,2.7 0 1 0 -5.4,0a2.7,2.7 0 1 0 5.4,0M830.2,82.7a2.7,2.7 0 1 0 -5.4,0a2.7,2.7 0 1 0 5.4,0M830.7,88.6a2.7,2.7 0 1 0 -5.4,0a2.7,2.7 0 1 0 5.4,0M831.2,86.4a2.7,2.7 0 1 0 -5.4,0a2.7,2.7 0 1 0 5.4,0M831.7,86.1a2.7,2.7 0 1 0 -5.4,0a2.7,2.7 0 1 0 5.4,0M832.2,86.1a2.7,2.7 0 1 0 -5.4,0a2.7,2.7 0 1 0 5.4,0M832.6,83.3a2.7,2.7 0 1 0 -5.4,0a2.7,2.7 0 1 0 5.4,0M833.1,84.8a2.7,2.7 0 1 0 -5.4,0a2.7,2.7 0 1 0 5.4,0M833.6,83.9a2.7,2.7 0 1 0 -5.4,0a2.7,2.7 0 1 0 5.4,0M834.1,83.5a2.7,2.7 0 1 0 -5.4,0a2.7,2.7 0 1 0 5.4,0M834.6,85.2a2.7,2.7 0 1 0 -5.4,0a2.7,2.7 0 1 0 5.4,0M835.1,79.2a2.7,2.7 0 1 0 -5.4,0a2.7,2.7 0 1 0 5.4,0M835.5,82.6a2.7,2.7 0 1 0 -5.4,0a2.7,2.7 0 1 0 5.4,0M836.0,84.7a2.7,2.7 0 1 0 -5.4,0a2.7,2.7 0 1 0 5.4,0M836.5,82.8a2.7,2.7 0 1 0 -5.4,0a2.7,2.7 0 1 0 5.4,0M837.0,83.4a2.7,2.7 0 1 0 -5.4,0a2.7,2.7 0 1 0 5.4,0M837.5,79.7a2.7,2.7 0 1 0 -5.4,0a2.7,2.7 0 1 0 5.4,0M838.0,81.7a2.7,2.7 0 1 0 -5.4,0a2.7,2.7 0 1 0 5.4,0M838.4,78.0a2.7,2.7 0 1 0 -5.4,0a2.7,2.7 0 1 0 5.4,0M838.9,85.7a2.7,2.7 0 1 0 -5.4,0a2.7,2.7 0 1 0 5.4,0M839.4,82.4a2.7,2.7 0 1 0 -5.4,0a2.7,2.7 0 1 0 5.4,0M839.9,78.3a2.7,2.7 0 1 0 -5.4,0a2.7,2.7 0 1 0 5.4,0M840.4,84.0a2.7,2.7 0 1 0 -5.4,0a2.7,2.7 0 1 0 5.4,0M840.9,80.1a2.7,2.7 0 1 0 -5.4,0a2.7,2.7 0 1 0 5.4,0M841.3,76.3a2.7,2.7 0 1 0 -5.4,0a2.7,2.7 0 1 0 5.4,0M841.8,83.3a2.7,2.7 0 1 0 -5.4,0a2.7,2.7 0 1 0 5.4,0M842.3,80.9a2.7,2.7 0 1 0 -5.4,0a2.7,2.7 0 1 0 5.4,0M842.8,79.3a2.7,2.7 0 1 0 -5.4,0a2.7,2.7 0 1 0 5.4,0M843.3,82.7a2.7,2.7 0 1 0 -5.4,0a2.7,2.7 0 1 0 5.4,0M843.8,82.2a2.7,2.7 0 1 0 -5.4,0a2.7,2.7 0 1 0 5.4,0M844.2,79.6a2.7,2.7 0 1 0 -5.4,0a2.7,2.7 0 1 0 5.4,0M844.7,80.4a2.7,2.7 0 1 0 -5.4,0a2.7,2.7 0 1 0 5.4,0M845.2,80.1a2.7,2.7 0 1 0 -5.4,0a2.7,2.7 0 1 0 5.4,0M845.7,80.9a2.7,2.7 0 1 0 -5.4,0a2.7,2.7 0 1 0 5.4,0M846.2,79.0a2.7,2.7 0 1 0 -5.4,0a2.7,2.7 0 1 0 5.4,0M846.6,85.0a2.7,2.7 0 1 0 -5.4,0a2.7,2.7 0 1 0 5.4,0M847.1,73.7a2.7,2.7 0 1 0 -5.4,0a2.7,2.7 0 1 0 5.4,0M847.6,81.1a2.7,2.7 0 1 0 -5.4,0a2.7,2.7 0 1 0 5.4,0M848.1,79.8a2.7,2.7 0 1 0 -5.4,0a2.7,2.7 0 1 0 5.4,0M848.6,83.6a2.7,2.7 0 1 0 -5.4,0a2.7,2.7 0 1 0 5.4,0M849.1,82.9a2.7,2.7 0 1 0 -5.4,0a2.7,2.7 0 1 0 5.4,0M849.5,79.9a2.7,2.7 0 1 0 -5.4,0a2.7,2.7 0 1 0 5.4,0M850.0,75.3a2.7,2.7 0 1 0 -5.4,0a2.7,2.7 0 1 0 5.4,0M850.5,74.0a2.7,2.7 0 1 0 -5.4,0a2.7,2.7 0 1 0 5.4,0M851.0,73.3a2.7,2.7 0 1 0 -5.4,0a2.7,2.7 0 1 0 5.4,0M851.5,80.3a2.7,2.7 0 1 0 -5.4,0a2.7,2.7 0 1 0 5.4,0M852.0,76.4a2.7,2.7 0 1 0 -5.4,0a2.7,2.7 0 1 0 5.4,0M852.4,82.6a2.7,2.7 0 1 0 -5.4,0a2.7,2.7 0 1 0 5.4,0M852.9,79.7a2.7,2.7 0 1 0 -5.4,0a2.7,2.7 0 1 0 5.4,0M853.4,83.8a2.7,2.7 0 1 0 -5.4,0a2.7,2.7 0 1 0 5.4,0M853.9,75.8a2.7,2.7 0 1 0 -5.4,0a2.7,2.7 0 1 0 5.4,0M854.4,78.0a2.7,2.7 0 1 0 -5.4,0a2.7,2.7 0 1 0 5.4,0M854.9,77.0a2.7,2.7 0 1 0 -5.4,0a2.7,2.7 0 1 0 5.4,0M855.3,79.9a2.7,2.7 0 1 0 -5.4,0a2.7,2.7 0 1 0 5.4,0M855.8,80.6a2.7,2.7 0 1 0 -5.4,0a2.7,2.7 0 1 0 5.4,0M856.3,82.1a2.7,2.7 0 1 0 -5.4,0a2.7,2.7 0 1 0 5.4,0M856.8,76.9a2.7,2.7 0 1 0 -5.4,0a2.7,2.7 0 1 0 5.4,0M857.3,82.4a2.7,2.7 0 1 0 -5.4,0a2.7,2.7 0 1 0 5.4,0M857.8,79.5a2.7,2.7 0 1 0 -5.4,0a2.7,2.7 0 1 0 5.4,0M858.2,77.9a2.7,2.7 0 1 0 -5.4,0a2.7,2.7 0 1 0 5.4,0M858.7,80.3a2.7,2.7 0 1 0 -5.4,0a2.7,2.7 0 1 0 5.4,0M859.2,80.5a2.7,2.7 0 1 0 -5.4,0a2.7,2.7 0 1 0 5.4,0M859.7,80.5a2.7,2.7 0 1 0 -5.4,0a2.7,2.7 0 1 0 5.4,0M860.2,79.1a2.7,2.7 0 1 0 -5.4,0a2.7,2.7 0 1 0 5.4,0M860.7,77.9a2.7,2.7 0 1 0 -5.4,0a2.7,2.7 0 1 0 5.4,0M861.1,78.8a2.7,2.7 0 1 0 -5.4,0a2.7,2.7 0 1 0 5.4,0M861.6,83.6a2.7,2.7 0 1 0 -5.4,0a2.7,2.7 0 1 0 5.4,0M862.1,82.6a2.7,2.7 0 1 0 -5.4,0a2.7,2.7 0 1 0 5.4,0M862.6,79.7a2.7,2.7 0 1 0 -5.4,0a2.7,2.7 0 1 0 5.4,0M863.1,78.1a2.7,2.7 0 1 0 -5.4,0a2.7,2.7 0 1 0 5.4,0M863.6,80.4a2.7,2.7 0 1 0 -5.4,0a2.7,2.7 0 1 0 5.4,0M864.0,85.1a2.7,2.7 0 1 0 -5.4,0a2.7,2.7 0 1 0 5.4,0M864.5,84.5a2.7,2.7 0 1 0 -5.4,0a2.7,2.7 0 1 0 5.4,0M865.0,79.3a2.7,2.7 0 1 0 -5.4,0a2.7,2.7 0 1 0 5.4,0M865.5,84.6a2.7,2.7 0 1 0 -5.4,0a2.7,2.7 0 1 0 5.4,0M866.0,84.4a2.7,2.7 0 1 0 -5.4,0a2.7,2.7 0 1 0 5.4,0M866.5,82.4a2.7,2.7 0 1 0 -5.4,0a2.7,2.7 0 1 0 5.4,0M866.9,82.2a2.7,2.7 0 1 0 -5.4,0a2.7,2.7 0 1 0 5.4,0M867.4,79.3a2.7,2.7 0 1 0 -5.4,0a2.7,2.7 0 1 0 5.4,0M867.9,82.9a2.7,2.7 0 1 0 -5.4,0a2.7,2.7 0 1 0 5.4,0M868.4,80.1a2.7,2.7 0 1 0 -5.4,0a2.7,2.7 0 1 0 5.4,0M868.9,83.0a2.7,2.7 0 1 0 -5.4,0a2.7,2.7 0 1 0 5.4,0M869.4,80.8a2.7,2.7 0 1 0 -5.4,0a2.7,2.7 0 1 0 5.4,0M869.8,82.9a2.7,2.7 0 1 0 -5.4,0a2.7,2.7 0 1 0 5.4,0M870.3,84.7a2.7,2.7 0 1 0 -5.4,0a2.7,2.7 0 1 0 5.4,0M870.8,82.0a2.7,2.7 0 1 0 -5.4,0a2.7,2.7 0 1 0 5.4,0M871.3,83.9a2.7,2.7 0 1 0 -5.4,0a2.7,2.7 0 1 0 5.4,0M871.8,80.8a2.7,2.7 0 1 0 -5.4,0a2.7,2.7 0 1 0 5.4,0M872.2,86.9a2.7,2.7 0 1 0 -5.4,0a2.7,2.7 0 1 0 5.4,0M872.7,81.1a2.7,2.7 0 1 0 -5.4,0a2.7,2.7 0 1 0 5.4,0M873.2,82.1a2.7,2.7 0 1 0 -5.4,0a2.7,2.7 0 1 0 5.4,0M873.7,80.3a2.7,2.7 0 1 0 -5.4,0a2.7,2.7 0 1 0 5.4,0M874.2,78.2a2.7,2.7 0 1 0 -5.4,0a2.7,2.7 0 1 0 5.4,0M874.7,85.9a2.7,2.7 0 1 0 -5.4,0a2.7,2.7 0 1 0 5.4,0M875.1,82.8a2.7,2.7 0 1 0 -5.4,0a2.7,2.7 0 1 0 5.4,0M875.6,80.9a2.7,2.7 0 1 0 -5.4,0a2.7,2.7 0 1 0 5.4,0M876.1,82.0a2.7,2.7 0 1 0 -5.4,0a2.7,2.7 0 1 0 5.4,0M876.6,82.4a2.7,2.7 0 1 0 -5.4,0a2.7,2.7 0 1 0 5.4,0M877.1,86.6a2.7,2.7 0 1 0 -5.4,0a2.7,2.7 0 1 0 5.4,0M877.6,82.9a2.7,2.7 0 1 0 -5.4,0a2.7,2.7 0 1 0 5.4,0M878.0,83.7a2.7,2.7 0 1 0 -5.4,0a2.7,2.7 0 1 0 5.4,0M878.5,79.0a2.7,2.7 0 1 0 -5.4,0a2.7,2.7 0 1 0 5.4,0M879.0,88.9a2.7,2.7 0 1 0 -5.4,0a2.7,2.7 0 1 0 5.4,0M879.5,85.8a2.7,2.7 0 1 0 -5.4,0a2.7,2.7 0 1 0 5.4,0M880.0,84.1a2.7,2.7 0 1 0 -5.4,0a2.7,2.7 0 1 0 5.4,0M880.5,80.0a2.7,2.7 0 1 0 -5.4,0a2.7,2.7 0 1 0 5.4,0M880.9,83.3a2.7,2.7 0 1 0 -5.4,0a2.7,2.7 0 1 0 5.4,0M881.4,83.4a2.7,2.7 0 1 0 -5.4,0a2.7,2.7 0 1 0 5.4,0M881.9,82.1a2.7,2.7 0 1 0 -5.4,0a2.7,2.7 0 1 0 5.4,0M882.4,82.3a2.7,2.7 0 1 0 -5.4,0a2.7,2.7 0 1 0 5.4,0M882.9,80.7a2.7,2.7 0 1 0 -5.4,0a2.7,2.7 0 1 0 5.4,0M883.4,85.3a2.7,2.7 0 1 0 -5.4,0a2.7,2.7 0 1 0 5.4,0M883.8,87.1a2.7,2.7 0 1 0 -5.4,0a2.7,2.7 0 1 0 5.4,0M884.3,81.0a2.7,2.7 0 1 0 -5.4,0a2.7,2.7 0 1 0 5.4,0M884.8,83.5a2.7,2.7 0 1 0 -5.4,0a2.7,2.7 0 1 0 5.4,0M885.3,83.4a2.7,2.7 0 1 0 -5.4,0a2.7,2.7 0 1 0 5.4,0M885.8,83.0a2.7,2.7 0 1 0 -5.4,0a2.7,2.7 0 1 0 5.4,0M886.3,79.9a2.7,2.7 0 1 0 -5.4,0a2.7,2.7 0 1 0 5.4,0M886.7,79.8a2.7,2.7 0 1 0 -5.4,0a2.7,2.7 0 1 0 5.4,0M887.2,83.3a2.7,2.7 0 1 0 -5.4,0a2.7,2.7 0 1 0 5.4,0M887.7,81.3a2.7,2.7 0 1 0 -5.4,0a2.7,2.7 0 1 0 5.4,0M888.2,85.0a2.7,2.7 0 1 0 -5.4,0a2.7,2.7 0 1 0 5.4,0M888.7,82.6a2.7,2.7 0 1 0 -5.4,0a2.7,2.7 0 1 0 5.4,0M889.2,83.1a2.7,2.7 0 1 0 -5.4,0a2.7,2.7 0 1 0 5.4,0M889.6,82.9a2.7,2.7 0 1 0 -5.4,0a2.7,2.7 0 1 0 5.4,0M890.1,83.5a2.7,2.7 0 1 0 -5.4,0a2.7,2.7 0 1 0 5.4,0M890.6,84.3a2.7,2.7 0 1 0 -5.4,0a2.7,2.7 0 1 0 5.4,0M891.1,78.7a2.7,2.7 0 1 0 -5.4,0a2.7,2.7 0 1 0 5.4,0M891.6,84.2a2.7,2.7 0 1 0 -5.4,0a2.7,2.7 0 1 0 5.4,0M892.1,82.6a2.7,2.7 0 1 0 -5.4,0a2.7,2.7 0 1 0 5.4,0M892.5,84.7a2.7,2.7 0 1 0 -5.4,0a2.7,2.7 0 1 0 5.4,0M893.0,79.3a2.7,2.7 0 1 0 -5.4,0a2.7,2.7 0 1 0 5.4,0M893.5,76.8a2.7,2.7 0 1 0 -5.4,0a2.7,2.7 0 1 0 5.4,0M894.0,83.2a2.7,2.7 0 1 0 -5.4,0a2.7,2.7 0 1 0 5.4,0M894.5,84.3a2.7,2.7 0 1 0 -5.4,0a2.7,2.7 0 1 0 5.4,0M894.9,84.4a2.7,2.7 0 1 0 -5.4,0a2.7,2.7 0 1 0 5.4,0M895.4,86.8a2.7,2.7 0 1 0 -5.4,0a2.7,2.7 0 1 0 5.4,0M895.9,86.7a2.7,2.7 0 1 0 -5.4,0a2.7,2.7 0 1 0 5.4,0M896.4,84.7a2.7,2.7 0 1 0 -5.4,0a2.7,2.7 0 1 0 5.4,0M896.9,83.5a2.7,2.7 0 1 0 -5.4,0a2.7,2.7 0 1 0 5.4,0M897.4,88.0a2.7,2.7 0 1 0 -5.4,0a2.7,2.7 0 1 0 5.4,0M897.8,85.8a2.7,2.7 0 1 0 -5.4,0a2.7,2.7 0 1 0 5.4,0M898.3,87.9a2.7,2.7 0 1 0 -5.4,0a2.7,2.7 0 1 0 5.4,0M898.8,82.4a2.7,2.7 0 1 0 -5.4,0a2.7,2.7 0 1 0 5.4,0M899.3,83.6a2.7,2.7 0 1 0 -5.4,0a2.7,2.7 0 1 0 5.4,0M899.8,86.6a2.7,2.7 0 1 0 -5.4,0a2.7,2.7 0 1 0 5.4,0M900.3,88.0a2.7,2.7 0 1 0 -5.4,0a2.7,2.7 0 1 0 5.4,0M900.7,89.5a2.7,2.7 0 1 0 -5.4,0a2.7,2.7 0 1 0 5.4,0M901.2,88.4a2.7,2.7 0 1 0 -5.4,0a2.7,2.7 0 1 0 5.4,0M901.7,90.3a2.7,2.7 0 1 0 -5.4,0a2.7,2.7 0 1 0 5.4,0M902.2,84.1a2.7,2.7 0 1 0 -5.4,0a2.7,2.7 0 1 0 5.4,0M902.7,91.5a2.7,2.7 0 1 0 -5.4,0a2.7,2.7 0 1 0 5.4,0M903.2,92.2a2.7,2.7 0 1 0 -5.4,0a2.7,2.7 0 1 0 5.4,0M903.6,84.7a2.7,2.7 0 1 0 -5.4,0a2.7,2.7 0 1 0 5.4,0M904.1,83.7a2.7,2.7 0 1 0 -5.4,0a2.7,2.7 0 1 0 5.4,0M904.6,87.1a2.7,2.7 0 1 0 -5.4,0a2.7,2.7 0 1 0 5.4,0M905.1,89.3a2.7,2.7 0 1 0 -5.4,0a2.7,2.7 0 1 0 5.4,0M905.6,86.9a2.7,2.7 0 1 0 -5.4,0a2.7,2.7 0 1 0 5.4,0M906.1,88.7a2.7,2.7 0 1 0 -5.4,0a2.7,2.7 0 1 0 5.4,0M906.5,88.9a2.7,2.7 0 1 0 -5.4,0a2.7,2.7 0 1 0 5.4,0M907.0,92.0a2.7,2.7 0 1 0 -5.4,0a2.7,2.7 0 1 0 5.4,0M907.5,86.3a2.7,2.7 0 1 0 -5.4,0a2.7,2.7 0 1 0 5.4,0M908.0,87.7a2.7,2.7 0 1 0 -5.4,0a2.7,2.7 0 1 0 5.4,0M908.5,85.3a2.7,2.7 0 1 0 -5.4,0a2.7,2.7 0 1 0 5.4,0M909.0,88.6a2.7,2.7 0 1 0 -5.4,0a2.7,2.7 0 1 0 5.4,0M909.4,84.0a2.7,2.7 0 1 0 -5.4,0a2.7,2.7 0 1 0 5.4,0M909.9,88.6a2.7,2.7 0 1 0 -5.4,0a2.7,2.7 0 1 0 5.4,0M910.4,89.2a2.7,2.7 0 1 0 -5.4,0a2.7,2.7 0 1 0 5.4,0M910.9,87.0a2.7,2.7 0 1 0 -5.4,0a2.7,2.7 0 1 0 5.4,0M911.4,88.0a2.7,2.7 0 1 0 -5.4,0a2.7,2.7 0 1 0 5.4,0M911.9,89.4a2.7,2.7 0 1 0 -5.4,0a2.7,2.7 0 1 0 5.4,0M912.3,82.7a2.7,2.7 0 1 0 -5.4,0a2.7,2.7 0 1 0 5.4,0M912.8,88.7a2.7,2.7 0 1 0 -5.4,0a2.7,2.7 0 1 0 5.4,0M913.3,85.3a2.7,2.7 0 1 0 -5.4,0a2.7,2.7 0 1 0 5.4,0M913.8,86.8a2.7,2.7 0 1 0 -5.4,0a2.7,2.7 0 1 0 5.4,0M914.3,86.5a2.7,2.7 0 1 0 -5.4,0a2.7,2.7 0 1 0 5.4,0M914.8,86.3a2.7,2.7 0 1 0 -5.4,0a2.7,2.7 0 1 0 5.4,0M915.2,85.3a2.7,2.7 0 1 0 -5.4,0a2.7,2.7 0 1 0 5.4,0M915.7,89.4a2.7,2.7 0 1 0 -5.4,0a2.7,2.7 0 1 0 5.4,0M916.2,87.0a2.7,2.7 0 1 0 -5.4,0a2.7,2.7 0 1 0 5.4,0M916.7,87.2a2.7,2.7 0 1 0 -5.4,0a2.7,2.7 0 1 0 5.4,0M917.2,88.7a2.7,2.7 0 1 0 -5.4,0a2.7,2.7 0 1 0 5.4,0M917.7,89.3a2.7,2.7 0 1 0 -5.4,0a2.7,2.7 0 1 0 5.4,0M918.1,86.3a2.7,2.7 0 1 0 -5.4,0a2.7,2.7 0 1 0 5.4,0M918.6,84.5a2.7,2.7 0 1 0 -5.4,0a2.7,2.7 0 1 0 5.4,0M919.1,83.3a2.7,2.7 0 1 0 -5.4,0a2.7,2.7 0 1 0 5.4,0M919.6,88.3a2.7,2.7 0 1 0 -5.4,0a2.7,2.7 0 1 0 5.4,0M920.1,81.7a2.7,2.7 0 1 0 -5.4,0a2.7,2.7 0 1 0 5.4,0M920.5,87.8a2.7,2.7 0 1 0 -5.4,0a2.7,2.7 0 1 0 5.4,0M921.0,84.9a2.7,2.7 0 1 0 -5.4,0a2.7,2.7 0 1 0 5.4,0M921.5,83.1a2.7,2.7 0 1 0 -5.4,0a2.7,2.7 0 1 0 5.4,0M922.0,92.1a2.7,2.7 0 1 0 -5.4,0a2.7,2.7 0 1 0 5.4,0M922.5,83.9a2.7,2.7 0 1 0 -5.4,0a2.7,2.7 0 1 0 5.4,0M923.0,80.8a2.7,2.7 0 1 0 -5.4,0a2.7,2.7 0 1 0 5.4,0M923.4,89.6a2.7,2.7 0 1 0 -5.4,0a2.7,2.7 0 1 0 5.4,0M923.9,83.1a2.7,2.7 0 1 0 -5.4,0a2.7,2.7 0 1 0 5.4,0M924.4,85.6a2.7,2.7 0 1 0 -5.4,0a2.7,2.7 0 1 0 5.4,0M924.9,87.3a2.7,2.7 0 1 0 -5.4,0a2.7,2.7 0 1 0 5.4,0M925.4,89.8a2.7,2.7 0 1 0 -5.4,0a2.7,2.7 0 1 0 5.4,0M925.9,85.3a2.7,2.7 0 1 0 -5.4,0a2.7,2.7 0 1 0 5.4,0M926.3,84.8a2.7,2.7 0 1 0 -5.4,0a2.7,2.7 0 1 0 5.4,0M926.8,88.3a2.7,2.7 0 1 0 -5.4,0a2.7,2.7 0 1 0 5.4,0M927.3,82.3a2.7,2.7 0 1 0 -5.4,0a2.7,2.7 0 1 0 5.4,0M927.8,87.0a2.7,2.7 0 1 0 -5.4,0a2.7,2.7 0 1 0 5.4,0M928.3,83.9a2.7,2.7 0 1 0 -5.4,0a2.7,2.7 0 1 0 5.4,0M928.8,86.8a2.7,2.7 0 1 0 -5.4,0a2.7,2.7 0 1 0 5.4,0M929.2,85.6a2.7,2.7 0 1 0 -5.4,0a2.7,2.7 0 1 0 5.4,0M929.7,83.5a2.7,2.7 0 1 0 -5.4,0a2.7,2.7 0 1 0 5.4,0M930.2,84.1a2.7,2.7 0 1 0 -5.4,0a2.7,2.7 0 1 0 5.4,0M930.7,81.7a2.7,2.7 0 1 0 -5.4,0a2.7,2.7 0 1 0 5.4,0M931.2,81.2a2.7,2.7 0 1 0 -5.4,0a2.7,2.7 0 1 0 5.4,0M931.7,86.0a2.7,2.7 0 1 0 -5.4,0a2.7,2.7 0 1 0 5.4,0M932.1,85.1a2.7,2.7 0 1 0 -5.4,0a2.7,2.7 0 1 0 5.4,0M932.6,87.6a2.7,2.7 0 1 0 -5.4,0a2.7,2.7 0 1 0 5.4,0M933.1,86.4a2.7,2.7 0 1 0 -5.4,0a2.7,2.7 0 1 0 5.4,0M933.6,83.9a2.7,2.7 0 1 0 -5.4,0a2.7,2.7 0 1 0 5.4,0M934.1,82.3a2.7,2.7 0 1 0 -5.4,0a2.7,2.7 0 1 0 5.4,0M934.6,86.3a2.7,2.7 0 1 0 -5.4,0a2.7,2.7 0 1 0 5.4,0M935.0,85.7a2.7,2.7 0 1 0 -5.4,0a2.7,2.7 0 1 0 5.4,0M935.5,89.4a2.7,2.7 0 1 0 -5.4,0a2.7,2.7 0 1 0 5.4,0M936.0,81.8a2.7,2.7 0 1 0 -5.4,0a2.7,2.7 0 1 0 5.4,0M936.5,84.2a2.7,2.7 0 1 0 -5.4,0a2.7,2.7 0 1 0 5.4,0M937.0,84.7a2.7,2.7 0 1 0 -5.4,0a2.7,2.7 0 1 0 5.4,0M937.5,84.6a2.7,2.7 0 1 0 -5.4,0a2.7,2.7 0 1 0 5.4,0M937.9,84.5a2.7,2.7 0 1 0 -5.4,0a2.7,2.7 0 1 0 5.4,0M938.4,88.8a2.7,2.7 0 1 0 -5.4,0a2.7,2.7 0 1 0 5.4,0M938.9,88.3a2.7,2.7 0 1 0 -5.4,0a2.7,2.7 0 1 0 5.4,0M939.4,86.4a2.7,2.7 0 1 0 -5.4,0a2.7,2.7 0 1 0 5.4,0M939.9,86.1a2.7,2.7 0 1 0 -5.4,0a2.7,2.7 0 1 0 5.4,0M940.4,82.5a2.7,2.7 0 1 0 -5.4,0a2.7,2.7 0 1 0 5.4,0M940.8,87.6a2.7,2.7 0 1 0 -5.4,0a2.7,2.7 0 1 0 5.4,0M941.3,81.9a2.7,2.7 0 1 0 -5.4,0a2.7,2.7 0 1 0 5.4,0M941.8,85.9a2.7,2.7 0 1 0 -5.4,0a2.7,2.7 0 1 0 5.4,0M942.3,85.4a2.7,2.7 0 1 0 -5.4,0a2.7,2.7 0 1 0 5.4,0M942.8,83.9a2.7,2.7 0 1 0 -5.4,0a2.7,2.7 0 1 0 5.4,0M943.2,84.9a2.7,2.7 0 1 0 -5.4,0a2.7,2.7 0 1 0 5.4,0M943.7,83.9a2.7,2.7 0 1 0 -5.4,0a2.7,2.7 0 1 0 5.4,0M944.2,85.0a2.7,2.7 0 1 0 -5.4,0a2.7,2.7 0 1 0 5.4,0M944.7,87.0a2.7,2.7 0 1 0 -5.4,0a2.7,2.7 0 1 0 5.4,0M945.2,82.9a2.7,2.7 0 1 0 -5.4,0a2.7,2.7 0 1 0 5.4,0M945.7,89.1a2.7,2.7 0 1 0 -5.4,0a2.7,2.7 0 1 0 5.4,0M946.1,82.0a2.7,2.7 0 1 0 -5.4,0a2.7,2.7 0 1 0 5.4,0M946.6,86.4a2.7,2.7 0 1 0 -5.4,0a2.7,2.7 0 1 0 5.4,0M947.1,87.4a2.7,2.7 0 1 0 -5.4,0a2.7,2.7 0 1 0 5.4,0M947.6,83.0a2.7,2.7 0 1 0 -5.4,0a2.7,2.7 0 1 0 5.4,0M948.1,82.6a2.7,2.7 0 1 0 -5.4,0a2.7,2.7 0 1 0 5.4,0M948.6,88.0a2.7,2.7 0 1 0 -5.4,0a2.7,2.7 0 1 0 5.4,0M949.0,86.9a2.7,2.7 0 1 0 -5.4,0a2.7,2.7 0 1 0 5.4,0M949.5,83.3a2.7,2.7 0 1 0 -5.4,0a2.7,2.7 0 1 0 5.4,0M950.0,88.5a2.7,2.7 0 1 0 -5.4,0a2.7,2.7 0 1 0 5.4,0M950.5,85.6a2.7,2.7 0 1 0 -5.4,0a2.7,2.7 0 1 0 5.4,0M951.0,88.1a2.7,2.7 0 1 0 -5.4,0a2.7,2.7 0 1 0 5.4,0M951.5,86.3a2.7,2.7 0 1 0 -5.4,0a2.7,2.7 0 1 0 5.4,0M951.9,89.9a2.7,2.7 0 1 0 -5.4,0a2.7,2.7 0 1 0 5.4,0M952.4,83.4a2.7,2.7 0 1 0 -5.4,0a2.7,2.7 0 1 0 5.4,0M952.9,87.9a2.7,2.7 0 1 0 -5.4,0a2.7,2.7 0 1 0 5.4,0M953.4,86.6a2.7,2.7 0 1 0 -5.4,0a2.7,2.7 0 1 0 5.4,0M953.9,85.1a2.7,2.7 0 1 0 -5.4,0a2.7,2.7 0 1 0 5.4,0M954.4,86.4a2.7,2.7 0 1 0 -5.4,0a2.7,2.7 0 1 0 5.4,0M954.8,85.0a2.7,2.7 0 1 0 -5.4,0a2.7,2.7 0 1 0 5.4,0M955.3,84.0a2.7,2.7 0 1 0 -5.4,0a2.7,2.7 0 1 0 5.4,0M955.8,83.9a2.7,2.7 0 1 0 -5.4,0a2.7,2.7 0 1 0 5.4,0M956.3,82.6a2.7,2.7 0 1 0 -5.4,0a2.7,2.7 0 1 0 5.4,0M956.8,88.9a2.7,2.7 0 1 0 -5.4,0a2.7,2.7 0 1 0 5.4,0M957.3,85.3a2.7,2.7 0 1 0 -5.4,0a2.7,2.7 0 1 0 5.4,0M957.7,86.4a2.7,2.7 0 1 0 -5.4,0a2.7,2.7 0 1 0 5.4,0M958.2,87.3a2.7,2.7 0 1 0 -5.4,0a2.7,2.7 0 1 0 5.4,0M958.7,82.6a2.7,2.7 0 1 0 -5.4,0a2.7,2.7 0 1 0 5.4,0M959.2,86.4a2.7,2.7 0 1 0 -5.4,0a2.7,2.7 0 1 0 5.4,0M959.7,86.5a2.7,2.7 0 1 0 -5.4,0a2.7,2.7 0 1 0 5.4,0M960.2,83.8a2.7,2.7 0 1 0 -5.4,0a2.7,2.7 0 1 0 5.4,0M960.6,86.4a2.7,2.7 0 1 0 -5.4,0a2.7,2.7 0 1 0 5.4,0M961.1,87.6a2.7,2.7 0 1 0 -5.4,0a2.7,2.7 0 1 0 5.4,0M961.6,94.0a2.7,2.7 0 1 0 -5.4,0a2.7,2.7 0 1 0 5.4,0M962.1,86.0a2.7,2.7 0 1 0 -5.4,0a2.7,2.7 0 1 0 5.4,0M962.6,85.9a2.7,2.7 0 1 0 -5.4,0a2.7,2.7 0 1 0 5.4,0M963.1,86.1a2.7,2.7 0 1 0 -5.4,0a2.7,2.7 0 1 0 5.4,0M963.5,89.5a2.7,2.7 0 1 0 -5.4,0a2.7,2.7 0 1 0 5.4,0M964.0,89.2a2.7,2.7 0 1 0 -5.4,0a2.7,2.7 0 1 0 5.4,0M964.5,89.2a2.7,2.7 0 1 0 -5.4,0a2.7,2.7 0 1 0 5.4,0M965.0,88.6a2.7,2.7 0 1 0 -5.4,0a2.7,2.7 0 1 0 5.4,0M965.5,87.5a2.7,2.7 0 1 0 -5.4,0a2.7,2.7 0 1 0 5.4,0M966.0,87.0a2.7,2.7 0 1 0 -5.4,0a2.7,2.7 0 1 0 5.4,0M966.4,92.4a2.7,2.7 0 1 0 -5.4,0a2.7,2.7 0 1 0 5.4,0M966.9,84.0a2.7,2.7 0 1 0 -5.4,0a2.7,2.7 0 1 0 5.4,0M967.4,89.0a2.7,2.7 0 1 0 -5.4,0a2.7,2.7 0 1 0 5.4,0M967.9,87.0a2.7,2.7 0 1 0 -5.4,0a2.7,2.7 0 1 0 5.4,0M968.4,85.2a2.7,2.7 0 1 0 -5.4,0a2.7,2.7 0 1 0 5.4,0M968.8,83.6a2.7,2.7 0 1 0 -5.4,0a2.7,2.7 0 1 0 5.4,0M969.3,86.0a2.7,2.7 0 1 0 -5.4,0a2.7,2.7 0 1 0 5.4,0M969.8,87.1a2.7,2.7 0 1 0 -5.4,0a2.7,2.7 0 1 0 5.4,0M970.3,87.8a2.7,2.7 0 1 0 -5.4,0a2.7,2.7 0 1 0 5.4,0M970.8,88.9a2.7,2.7 0 1 0 -5.4,0a2.7,2.7 0 1 0 5.4,0M971.3,89.2a2.7,2.7 0 1 0 -5.4,0a2.7,2.7 0 1 0 5.4,0M971.7,91.8a2.7,2.7 0 1 0 -5.4,0a2.7,2.7 0 1 0 5.4,0M972.2,85.6a2.7,2.7 0 1 0 -5.4,0a2.7,2.7 0 1 0 5.4,0M972.7,90.3a2.7,2.7 0 1 0 -5.4,0a2.7,2.7 0 1 0 5.4,0M973.2,86.9a2.7,2.7 0 1 0 -5.4,0a2.7,2.7 0 1 0 5.4,0M973.7,90.1a2.7,2.7 0 1 0 -5.4,0a2.7,2.7 0 1 0 5.4,0M974.2,82.2a2.7,2.7 0 1 0 -5.4,0a2.7,2.7 0 1 0 5.4,0M974.6,92.2a2.7,2.7 0 1 0 -5.4,0a2.7,2.7 0 1 0 5.4,0M975.1,89.0a2.7,2.7 0 1 0 -5.4,0a2.7,2.7 0 1 0 5.4,0M975.6,89.6a2.7,2.7 0 1 0 -5.4,0a2.7,2.7 0 1 0 5.4,0M976.1,87.6a2.7,2.7 0 1 0 -5.4,0a2.7,2.7 0 1 0 5.4,0M976.6,90.1a2.7,2.7 0 1 0 -5.4,0a2.7,2.7 0 1 0 5.4,0M977.1,86.9a2.7,2.7 0 1 0 -5.4,0a2.7,2.7 0 1 0 5.4,0M977.5,89.9a2.7,2.7 0 1 0 -5.4,0a2.7,2.7 0 1 0 5.4,0M978.0,89.8a2.7,2.7 0 1 0 -5.4,0a2.7,2.7 0 1 0 5.4,0M978.5,87.5a2.7,2.7 0 1 0 -5.4,0a2.7,2.7 0 1 0 5.4,0M979.0,81.5a2.7,2.7 0 1 0 -5.4,0a2.7,2.7 0 1 0 5.4,0M979.5,88.2a2.7,2.7 0 1 0 -5.4,0a2.7,2.7 0 1 0 5.4,0M980.0,84.3a2.7,2.7 0 1 0 -5.4,0a2.7,2.7 0 1 0 5.4,0M980.4,88.3a2.7,2.7 0 1 0 -5.4,0a2.7,2.7 0 1 0 5.4,0M980.9,83.5a2.7,2.7 0 1 0 -5.4,0a2.7,2.7 0 1 0 5.4,0M981.4,90.5a2.7,2.7 0 1 0 -5.4,0a2.7,2.7 0 1 0 5.4,0M981.9,87.4a2.7,2.7 0 1 0 -5.4,0a2.7,2.7 0 1 0 5.4,0M982.4,91.3a2.7,2.7 0 1 0 -5.4,0a2.7,2.7 0 1 0 5.4,0M982.9,89.3a2.7,2.7 0 1 0 -5.4,0a2.7,2.7 0 1 0 5.4,0M983.3,82.5a2.7,2.7 0 1 0 -5.4,0a2.7,2.7 0 1 0 5.4,0M983.8,84.3a2.7,2.7 0 1 0 -5.4,0a2.7,2.7 0 1 0 5.4,0M984.3,87.1a2.7,2.7 0 1 0 -5.4,0a2.7,2.7 0 1 0 5.4,0M984.8,87.3a2.7,2.7 0 1 0 -5.4,0a2.7,2.7 0 1 0 5.4,0M985.3,86.1a2.7,2.7 0 1 0 -5.4,0a2.7,2.7 0 1 0 5.4,0M985.8,88.3a2.7,2.7 0 1 0 -5.4,0a2.7,2.7 0 1 0 5.4,0M986.2,89.8a2.7,2.7 0 1 0 -5.4,0a2.7,2.7 0 1 0 5.4,0M986.7,86.2a2.7,2.7 0 1 0 -5.4,0a2.7,2.7 0 1 0 5.4,0M987.2,86.9a2.7,2.7 0 1 0 -5.4,0a2.7,2.7 0 1 0 5.4,0M987.7,90.8a2.7,2.7 0 1 0 -5.4,0a2.7,2.7 0 1 0 5.4,0M988.2,87.7a2.7,2.7 0 1 0 -5.4,0a2.7,2.7 0 1 0 5.4,0M988.7,85.0a2.7,2.7 0 1 0 -5.4,0a2.7,2.7 0 1 0 5.4,0M989.1,84.4a2.7,2.7 0 1 0 -5.4,0a2.7,2.7 0 1 0 5.4,0M989.6,87.6a2.7,2.7 0 1 0 -5.4,0a2.7,2.7 0 1 0 5.4,0M990.1,85.2a2.7,2.7 0 1 0 -5.4,0a2.7,2.7 0 1 0 5.4,0M990.6,87.2a2.7,2.7 0 1 0 -5.4,0a2.7,2.7 0 1 0 5.4,0M991.1,84.8a2.7,2.7 0 1 0 -5.4,0a2.7,2.7 0 1 0 5.4,0M991.5,82.8a2.7,2.7 0 1 0 -5.4,0a2.7,2.7 0 1 0 5.4,0M992.0,83.4a2.7,2.7 0 1 0 -5.4,0a2.7,2.7 0 1 0 5.4,0M992.5,79.8a2.7,2.7 0 1 0 -5.4,0a2.7,2.7 0 1 0 5.4,0M993.0,80.7a2.7,2.7 0 1 0 -5.4,0a2.7,2.7 0 1 0 5.4,0M993.5,82.5a2.7,2.7 0 1 0 -5.4,0a2.7,2.7 0 1 0 5.4,0M994.0,83.4a2.7,2.7 0 1 0 -5.4,0a2.7,2.7 0 1 0 5.4,0M994.4,81.5a2.7,2.7 0 1 0 -5.4,0a2.7,2.7 0 1 0 5.4,0M994.9,80.9a2.7,2.7 0 1 0 -5.4,0a2.7,2.7 0 1 0 5.4,0M995.4,81.0a2.7,2.7 0 1 0 -5.4,0a2.7,2.7 0 1 0 5.4,0M995.9,80.8a2.7,2.7 0 1 0 -5.4,0a2.7,2.7 0 1 0 5.4,0M996.4,79.7a2.7,2.7 0 1 0 -5.4,0a2.7,2.7 0 1 0 5.4,0M996.9,79.3a2.7,2.7 0 1 0 -5.4,0a2.7,2.7 0 1 0 5.4,0M997.3,78.5a2.7,2.7 0 1 0 -5.4,0a2.7,2.7 0 1 0 5.4,0M997.8,84.2a2.7,2.7 0 1 0 -5.4,0a2.7,2.7 0 1 0 5.4,0M998.3,80.4a2.7,2.7 0 1 0 -5.4,0a2.7,2.7 0 1 0 5.4,0M998.8,81.0a2.7,2.7 0 1 0 -5.4,0a2.7,2.7 0 1 0 5.4,0M999.3,83.2a2.7,2.7 0 1 0 -5.4,0a2.7,2.7 0 1 0 5.4,0M999.8,79.5a2.7,2.7 0 1 0 -5.4,0a2.7,2.7 0 1 0 5.4,0M1000.2,79.4a2.7,2.7 0 1 0 -5.4,0a2.7,2.7 0 1 0 5.4,0M1000.7,82.6a2.7,2.7 0 1 0 -5.4,0a2.7,2.7 0 1 0 5.4,0M1001.2,75.8a2.7,2.7 0 1 0 -5.4,0a2.7,2.7 0 1 0 5.4,0M1001.7,79.0a2.7,2.7 0 1 0 -5.4,0a2.7,2.7 0 1 0 5.4,0M1002.2,82.3a2.7,2.7 0 1 0 -5.4,0a2.7,2.7 0 1 0 5.4,0M1002.7,82.4a2.7,2.7 0 1 0 -5.4,0a2.7,2.7 0 1 0 5.4,0M1003.1,80.7a2.7,2.7 0 1 0 -5.4,0a2.7,2.7 0 1 0 5.4,0" fill="none" stroke="#e9403b" stroke-width="1.1"/>
<path d="M666.9,358.8a2.16,2.16 0 1 0 -4.3,0a2.16,2.16 0 1 0 4.3,0M667.9,360.4a2.16,2.16 0 1 0 -4.3,0a2.16,2.16 0 1 0 4.3,0M672.7,352.3a2.16,2.16 0 1 0 -4.3,0a2.16,2.16 0 1 0 4.3,0M674.9,352.2a2.16,2.16 0 1 0 -4.3,0a2.16,2.16 0 1 0 4.3,0M675.4,350.4a2.16,2.16 0 1 0 -4.3,0a2.16,2.16 0 1 0 4.3,0M680.0,350.6a2.16,2.16 0 1 0 -4.3,0a2.16,2.16 0 1 0 4.3,0M680.4,352.7a2.16,2.16 0 1 0 -4.3,0a2.16,2.16 0 1 0 4.3,0M680.9,354.0a2.16,2.16 0 1 0 -4.3,0a2.16,2.16 0 1 0 4.3,0M686.0,348.2a2.16,2.16 0 1 0 -4.3,0a2.16,2.16 0 1 0 4.3,0M689.4,351.8a2.16,2.16 0 1 0 -4.3,0a2.16,2.16 0 1 0 4.3,0M699.0,333.3a2.16,2.16 0 1 0 -4.3,0a2.16,2.16 0 1 0 4.3,0M700.7,331.5a2.16,2.16 0 1 0 -4.3,0a2.16,2.16 0 1 0 4.3,0M702.4,313.8a2.16,2.16 0 1 0 -4.3,0a2.16,2.16 0 1 0 4.3,0M703.4,342.1a2.16,2.16 0 1 0 -4.3,0a2.16,2.16 0 1 0 4.3,0M703.4,337.3a2.16,2.16 0 1 0 -4.3,0a2.16,2.16 0 1 0 4.3,0M703.4,332.6a2.16,2.16 0 1 0 -4.3,0a2.16,2.16 0 1 0 4.3,0M703.4,327.8a2.16,2.16 0 1 0 -4.3,0a2.16,2.16 0 1 0 4.3,0M703.4,323.0a2.16,2.16 0 1 0 -4.3,0a2.16,2.16 0 1 0 4.3,0M703.4,318.2a2.16,2.16 0 1 0 -4.3,0a2.16,2.16 0 1 0 4.3,0M703.4,313.4a2.16,2.16 0 1 0 -4.3,0a2.16,2.16 0 1 0 4.3,0M703.4,308.7a2.16,2.16 0 1 0 -4.3,0a2.16,2.16 0 1 0 4.3,0M703.4,303.9a2.16,2.16 0 1 0 -4.3,0a2.16,2.16 0 1 0 4.3,0M703.4,299.1a2.16,2.16 0 1 0 -4.3,0a2.16,2.16 0 1 0 4.3,0M703.4,294.3a2.16,2.16 0 1 0 -4.3,0a2.16,2.16 0 1 0 4.3,0M703.4,289.5a2.16,2.16 0 1 0 -4.3,0a2.16,2.16 0 1 0 4.3,0M703.4,284.8a2.16,2.16 0 1 0 -4.3,0a2.16,2.16 0 1 0 4.3,0M703.4,280.0a2.16,2.16 0 1 0 -4.3,0a2.16,2.16 0 1 0 4.3,0M703.4,275.2a2.16,2.16 0 1 0 -4.3,0a2.16,2.16 0 1 0 4.3,0M703.4,270.4a2.16,2.16 0 1 0 -4.3,0a2.16,2.16 0 1 0 4.3,0M703.4,265.6a2.16,2.16 0 1 0 -4.3,0a2.16,2.16 0 1 0 4.3,0M703.4,260.9a2.16,2.16 0 1 0 -4.3,0a2.16,2.16 0 1 0 4.3,0M703.4,256.1a2.16,2.16 0 1 0 -4.3,0a2.16,2.16 0 1 0 4.3,0M703.4,251.3a2.16,2.16 0 1 0 -4.3,0a2.16,2.16 0 1 0 4.3,0M703.4,246.5a2.16,2.16 0 1 0 -4.3,0a2.16,2.16 0 1 0 4.3,0M703.4,241.8a2.16,2.16 0 1 0 -4.3,0a2.16,2.16 0 1 0 4.3,0M703.4,237.0a2.16,2.16 0 1 0 -4.3,0a2.16,2.16 0 1 0 4.3,0M703.4,232.2a2.16,2.16 0 1 0 -4.3,0a2.16,2.16 0 1 0 4.3,0M703.4,227.4a2.16,2.16 0 1 0 -4.3,0a2.16,2.16 0 1 0 4.3,0M703.4,222.6a2.16,2.16 0 1 0 -4.3,0a2.16,2.16 0 1 0 4.3,0M703.4,217.9a2.16,2.16 0 1 0 -4.3,0a2.16,2.16 0 1 0 4.3,0M703.4,213.1a2.16,2.16 0 1 0 -4.3,0a2.16,2.16 0 1 0 4.3,0M703.4,208.3a2.16,2.16 0 1 0 -4.3,0a2.16,2.16 0 1 0 4.3,0M703.4,203.5a2.16,2.16 0 1 0 -4.3,0a2.16,2.16 0 1 0 4.3,0M703.4,198.7a2.16,2.16 0 1 0 -4.3,0a2.16,2.16 0 1 0 4.3,0M703.4,194.0a2.16,2.16 0 1 0 -4.3,0a2.16,2.16 0 1 0 4.3,0M703.4,189.2a2.16,2.16 0 1 0 -4.3,0a2.16,2.16 0 1 0 4.3,0M703.4,184.4a2.16,2.16 0 1 0 -4.3,0a2.16,2.16 0 1 0 4.3,0M703.4,179.6a2.16,2.16 0 1 0 -4.3,0a2.16,2.16 0 1 0 4.3,0M703.4,174.8a2.16,2.16 0 1 0 -4.3,0a2.16,2.16 0 1 0 4.3,0M703.4,170.1a2.16,2.16 0 1 0 -4.3,0a2.16,2.16 0 1 0 4.3,0M703.4,165.3a2.16,2.16 0 1 0 -4.3,0a2.16,2.16 0 1 0 4.3,0M703.4,160.5a2.16,2.16 0 1 0 -4.3,0a2.16,2.16 0 1 0 4.3,0M703.4,155.7a2.16,2.16 0 1 0 -4.3,0a2.16,2.16 0 1 0 4.3,0M703.4,150.9a2.16,2.16 0 1 0 -4.3,0a2.16,2.16 0 1 0 4.3,0M703.4,146.2a2.16,2.16 0 1 0 -4.3,0a2.16,2.16 0 1 0 4.3,0M703.4,141.4a2.16,2.16 0 1 0 -4.3,0a2.16,2.16 0 1 0 4.3,0M703.4,136.6a2.16,2.16 0 1 0 -4.3,0a2.16,2.16 0 1 0 4.3,0M703.4,131.8a2.16,2.16 0 1 0 -4.3,0a2.16,2.16 0 1 0 4.3,0M703.4,127.0a2.16,2.16 0 1 0 -4.3,0a2.16,2.16 0 1 0 4.3,0M703.4,122.3a2.16,2.16 0 1 0 -4.3,0a2.16,2.16 0 1 0 4.3,0M703.4,117.5a2.16,2.16 0 1 0 -4.3,0a2.16,2.16 0 1 0 4.3,0M703.4,112.7a2.16,2.16 0 1 0 -4.3,0a2.16,2.16 0 1 0 4.3,0M703.4,107.9a2.16,2.16 0 1 0 -4.3,0a2.16,2.16 0 1 0 4.3,0M703.4,103.1a2.16,2.16 0 1 0 -4.3,0a2.16,2.16 0 1 0 4.3,0M703.4,98.4a2.16,2.16 0 1 0 -4.3,0a2.16,2.16 0 1 0 4.3,0M703.4,93.6a2.16,2.16 0 1 0 -4.3,0a2.16,2.16 0 1 0 4.3,0M703.4,88.8a2.16,2.16 0 1 0 -4.3,0a2.16,2.16 0 1 0 4.3,0M710.9,92.2a2.16,2.16 0 1 0 -4.3,0a2.16,2.16 0 1 0 4.3,0M724.9,83.1a2.16,2.16 0 1 0 -4.3,0a2.16,2.16 0 1 0 4.3,0M779.0,95.5a2.16,2.16 0 1 0 -4.3,0a2.16,2.16 0 1 0 4.3,0M791.5,91.9a2.16,2.16 0 1 0 -4.3,0a2.16,2.16 0 1 0 4.3,0M825.3,94.2a2.16,2.16 0 1 0 -4.3,0a2.16,2.16 0 1 0 4.3,0M834.0,88.8a2.16,2.16 0 1 0 -4.3,0a2.16,2.16 0 1 0 4.3,0M860.1,89.3a2.16,2.16 0 1 0 -4.3,0a2.16,2.16 0 1 0 4.3,0M864.5,86.6a2.16,2.16 0 1 0 -4.3,0a2.16,2.16 0 1 0 4.3,0M873.2,90.9a2.16,2.16 0 1 0 -4.3,0a2.16,2.16 0 1 0 4.3,0M886.2,87.4a2.16,2.16 0 1 0 -4.3,0a2.16,2.16 0 1 0 4.3,0M907.9,98.1a2.16,2.16 0 1 0 -4.3,0a2.16,2.16 0 1 0 4.3,0M969.3,102.7a2.16,2.16 0 1 0 -4.3,0a2.16,2.16 0 1 0 4.3,0M982.8,101.3a2.16,2.16 0 1 0 -4.3,0a2.16,2.16 0 1 0 4.3,0M984.7,93.4a2.16,2.16 0 1 0 -4.3,0a2.16,2.16 0 1 0 4.3,0M730.2,98.8a2.16,2.16 0 1 0 -4.3,0a2.16,2.16 0 1 0 4.3,0M731.2,94.5a2.16,2.16 0 1 0 -4.3,0a2.16,2.16 0 1 0 4.3,0M739.8,103.1a2.16,2.16 0 1 0 -4.3,0a2.16,2.16 0 1 0 4.3,0M741.3,101.0a2.16,2.16 0 1 0 -4.3,0a2.16,2.16 0 1 0 4.3,0M752.9,105.3a2.16,2.16 0 1 0 -4.3,0a2.16,2.16 0 1 0 4.3,0M754.3,101.0a2.16,2.16 0 1 0 -4.3,0a2.16,2.16 0 1 0 4.3,0M808.0,105.3a2.16,2.16 0 1 0 -4.3,0a2.16,2.16 0 1 0 4.3,0M808.9,111.8a2.16,2.16 0 1 0 -4.3,0a2.16,2.16 0 1 0 4.3,0M810.4,116.2a2.16,2.16 0 1 0 -4.3,0a2.16,2.16 0 1 0 4.3,0M811.3,109.7a2.16,2.16 0 1 0 -4.3,0a2.16,2.16 0 1 0 4.3,0M812.8,115.3a2.16,2.16 0 1 0 -4.3,0a2.16,2.16 0 1 0 4.3,0M814.2,107.5a2.16,2.16 0 1 0 -4.3,0a2.16,2.16 0 1 0 4.3,0M816.6,103.1a2.16,2.16 0 1 0 -4.3,0a2.16,2.16 0 1 0 4.3,0M985.7,96.6a2.16,2.16 0 1 0 -4.3,0a2.16,2.16 0 1 0 4.3,0" fill="none" stroke="#d98080" stroke-width="0.9"/>
<path d="M1003.2,83.6a2.0250000000000004,2.0250000000000004 0 1 0 -4.1,0a2.0250000000000004,2.0250000000000004 0 1 0 4.1,0M1003.2,87.3a2.0250000000000004,2.0250000000000004 0 1 0 -4.1,0a2.0250000000000004,2.0250000000000004 0 1 0 4.1,0M1003.2,91.0a2.0250000000000004,2.0250000000000004 0 1 0 -4.1,0a2.0250000000000004,2.0250000000000004 0 1 0 4.1,0M1003.2,94.7a2.0250000000000004,2.0250000000000004 0 1 0 -4.1,0a2.0250000000000004,2.0250000000000004 0 1 0 4.1,0M1003.2,98.4a2.0250000000000004,2.0250000000000004 0 1 0 -4.1,0a2.0250000000000004,2.0250000000000004 0 1 0 4.1,0M1003.2,102.1a2.0250000000000004,2.0250000000000004 0 1 0 -4.1,0a2.0250000000000004,2.0250000000000004 0 1 0 4.1,0M1003.2,105.8a2.0250000000000004,2.0250000000000004 0 1 0 -4.1,0a2.0250000000000004,2.0250000000000004 0 1 0 4.1,0M1003.2,109.4a2.0250000000000004,2.0250000000000004 0 1 0 -4.1,0a2.0250000000000004,2.0250000000000004 0 1 0 4.1,0M1003.2,113.1a2.0250000000000004,2.0250000000000004 0 1 0 -4.1,0a2.0250000000000004,2.0250000000000004 0 1 0 4.1,0M1003.2,116.8a2.0250000000000004,2.0250000000000004 0 1 0 -4.1,0a2.0250000000000004,2.0250000000000004 0 1 0 4.1,0M1003.2,120.5a2.0250000000000004,2.0250000000000004 0 1 0 -4.1,0a2.0250000000000004,2.0250000000000004 0 1 0 4.1,0M1003.2,124.2a2.0250000000000004,2.0250000000000004 0 1 0 -4.1,0a2.0250000000000004,2.0250000000000004 0 1 0 4.1,0M1003.2,127.9a2.0250000000000004,2.0250000000000004 0 1 0 -4.1,0a2.0250000000000004,2.0250000000000004 0 1 0 4.1,0M1003.2,131.6a2.0250000000000004,2.0250000000000004 0 1 0 -4.1,0a2.0250000000000004,2.0250000000000004 0 1 0 4.1,0M1003.2,135.3a2.0250000000000004,2.0250000000000004 0 1 0 -4.1,0a2.0250000000000004,2.0250000000000004 0 1 0 4.1,0M1003.2,139.0a2.0250000000000004,2.0250000000000004 0 1 0 -4.1,0a2.0250000000000004,2.0250000000000004 0 1 0 4.1,0M1003.2,142.7a2.0250000000000004,2.0250000000000004 0 1 0 -4.1,0a2.0250000000000004,2.0250000000000004 0 1 0 4.1,0M1003.2,146.4a2.0250000000000004,2.0250000000000004 0 1 0 -4.1,0a2.0250000000000004,2.0250000000000004 0 1 0 4.1,0M1003.2,150.1a2.0250000000000004,2.0250000000000004 0 1 0 -4.1,0a2.0250000000000004,2.0250000000000004 0 1 0 4.1,0M1003.2,153.8a2.0250000000000004,2.0250000000000004 0 1 0 -4.1,0a2.0250000000000004,2.0250000000000004 0 1 0 4.1,0M1003.2,157.5a2.0250000000000004,2.0250000000000004 0 1 0 -4.1,0a2.0250000000000004,2.0250000000000004 0 1 0 4.1,0M1003.2,161.2a2.0250000000000004,2.0250000000000004 0 1 0 -4.1,0a2.0250000000000004,2.0250000000000004 0 1 0 4.1,0M1003.2,164.8a2.0250000000000004,2.0250000000000004 0 1 0 -4.1,0a2.0250000000000004,2.0250000000000004 0 1 0 4.1,0M1003.2,168.5a2.0250000000000004,2.0250000000000004 0 1 0 -4.1,0a2.0250000000000004,2.0250000000000004 0 1 0 4.1,0M1003.2,172.2a2.0250000000000004,2.0250000000000004 0 1 0 -4.1,0a2.0250000000000004,2.0250000000000004 0 1 0 4.1,0M1003.2,175.9a2.0250000000000004,2.0250000000000004 0 1 0 -4.1,0a2.0250000000000004,2.0250000000000004 0 1 0 4.1,0M1003.2,179.6a2.0250000000000004,2.0250000000000004 0 1 0 -4.1,0a2.0250000000000004,2.0250000000000004 0 1 0 4.1,0M1003.2,183.3a2.0250000000000004,2.0250000000000004 0 1 0 -4.1,0a2.0250000000000004,2.0250000000000004 0 1 0 4.1,0M1003.2,187.0a2.0250000000000004,2.0250000000000004 0 1 0 -4.1,0a2.0250000000000004,2.0250000000000004 0 1 0 4.1,0M1003.2,190.7a2.0250000000000004,2.0250000000000004 0 1 0 -4.1,0a2.0250000000000004,2.0250000000000004 0 1 0 4.1,0M1003.2,194.4a2.0250000000000004,2.0250000000000004 0 1 0 -4.1,0a2.0250000000000004,2.0250000000000004 0 1 0 4.1,0M1003.2,198.1a2.0250000000000004,2.0250000000000004 0 1 0 -4.1,0a2.0250000000000004,2.0250000000000004 0 1 0 4.1,0M1003.2,201.8a2.0250000000000004,2.0250000000000004 0 1 0 -4.1,0a2.0250000000000004,2.0250000000000004 0 1 0 4.1,0M1003.2,205.5a2.0250000000000004,2.0250000000000004 0 1 0 -4.1,0a2.0250000000000004,2.0250000000000004 0 1 0 4.1,0M1003.2,209.2a2.0250000000000004,2.0250000000000004 0 1 0 -4.1,0a2.0250000000000004,2.0250000000000004 0 1 0 4.1,0M1003.2,212.9a2.0250000000000004,2.0250000000000004 0 1 0 -4.1,0a2.0250000000000004,2.0250000000000004 0 1 0 4.1,0M1003.2,216.5a2.0250000000000004,2.0250000000000004 0 1 0 -4.1,0a2.0250000000000004,2.0250000000000004 0 1 0 4.1,0M1003.2,220.2a2.0250000000000004,2.0250000000000004 0 1 0 -4.1,0a2.0250000000000004,2.0250000000000004 0 1 0 4.1,0M1003.2,223.9a2.0250000000000004,2.0250000000000004 0 1 0 -4.1,0a2.0250000000000004,2.0250000000000004 0 1 0 4.1,0M1003.2,227.6a2.0250000000000004,2.0250000000000004 0 1 0 -4.1,0a2.0250000000000004,2.0250000000000004 0 1 0 4.1,0M1003.2,231.3a2.0250000000000004,2.0250000000000004 0 1 0 -4.1,0a2.0250000000000004,2.0250000000000004 0 1 0 4.1,0M1003.2,235.0a2.0250000000000004,2.0250000000000004 0 1 0 -4.1,0a2.0250000000000004,2.0250000000000004 0 1 0 4.1,0M1003.2,238.7a2.0250000000000004,2.0250000000000004 0 1 0 -4.1,0a2.0250000000000004,2.0250000000000004 0 1 0 4.1,0M1003.2,242.4a2.0250000000000004,2.0250000000000004 0 1 0 -4.1,0a2.0250000000000004,2.0250000000000004 0 1 0 4.1,0M1003.2,246.1a2.0250000000000004,2.0250000000000004 0 1 0 -4.1,0a2.0250000000000004,2.0250000000000004 0 1 0 4.1,0M1003.2,249.8a2.0250000000000004,2.0250000000000004 0 1 0 -4.1,0a2.0250000000000004,2.0250000000000004 0 1 0 4.1,0M1003.2,253.5a2.0250000000000004,2.0250000000000004 0 1 0 -4.1,0a2.0250000000000004,2.0250000000000004 0 1 0 4.1,0M1003.2,257.2a2.0250000000000004,2.0250000000000004 0 1 0 -4.1,0a2.0250000000000004,2.0250000000000004 0 1 0 4.1,0M1003.2,260.9a2.0250000000000004,2.0250000000000004 0 1 0 -4.1,0a2.0250000000000004,2.0250000000000004 0 1 0 4.1,0M1003.2,264.6a2.0250000000000004,2.0250000000000004 0 1 0 -4.1,0a2.0250000000000004,2.0250000000000004 0 1 0 4.1,0M1003.2,268.3a2.0250000000000004,2.0250000000000004 0 1 0 -4.1,0a2.0250000000000004,2.0250000000000004 0 1 0 4.1,0M1003.2,271.9a2.0250000000000004,2.0250000000000004 0 1 0 -4.1,0a2.0250000000000004,2.0250000000000004 0 1 0 4.1,0M1003.2,275.6a2.0250000000000004,2.0250000000000004 0 1 0 -4.1,0a2.0250000000000004,2.0250000000000004 0 1 0 4.1,0M1003.2,279.3a2.0250000000000004,2.0250000000000004 0 1 0 -4.1,0a2.0250000000000004,2.0250000000000004 0 1 0 4.1,0M1003.2,283.0a2.0250000000000004,2.0250000000000004 0 1 0 -4.1,0a2.0250000000000004,2.0250000000000004 0 1 0 4.1,0M1003.2,286.7a2.0250000000000004,2.0250000000000004 0 1 0 -4.1,0a2.0250000000000004,2.0250000000000004 0 1 0 4.1,0M1003.2,290.4a2.0250000000000004,2.0250000000000004 0 1 0 -4.1,0a2.0250000000000004,2.0250000000000004 0 1 0 4.1,0M1003.2,294.1a2.0250000000000004,2.0250000000000004 0 1 0 -4.1,0a2.0250000000000004,2.0250000000000004 0 1 0 4.1,0M1003.2,297.8a2.0250000000000004,2.0250000000000004 0 1 0 -4.1,0a2.0250000000000004,2.0250000000000004 0 1 0 4.1,0M1003.2,301.5a2.0250000000000004,2.0250000000000004 0 1 0 -4.1,0a2.0250000000000004,2.0250000000000004 0 1 0 4.1,0M1003.2,305.2a2.0250000000000004,2.0250000000000004 0 1 0 -4.1,0a2.0250000000000004,2.0250000000000004 0 1 0 4.1,0M1003.2,308.9a2.0250000000000004,2.0250000000000004 0 1 0 -4.1,0a2.0250000000000004,2.0250000000000004 0 1 0 4.1,0M1003.2,312.6a2.0250000000000004,2.0250000000000004 0 1 0 -4.1,0a2.0250000000000004,2.0250000000000004 0 1 0 4.1,0M1003.2,316.3a2.0250000000000004,2.0250000000000004 0 1 0 -4.1,0a2.0250000000000004,2.0250000000000004 0 1 0 4.1,0M1003.2,320.0a2.0250000000000004,2.0250000000000004 0 1 0 -4.1,0a2.0250000000000004,2.0250000000000004 0 1 0 4.1,0M1003.2,323.7a2.0250000000000004,2.0250000000000004 0 1 0 -4.1,0a2.0250000000000004,2.0250000000000004 0 1 0 4.1,0M1003.2,327.3a2.0250000000000004,2.0250000000000004 0 1 0 -4.1,0a2.0250000000000004,2.0250000000000004 0 1 0 4.1,0M1003.2,331.0a2.0250000000000004,2.0250000000000004 0 1 0 -4.1,0a2.0250000000000004,2.0250000000000004 0 1 0 4.1,0M1003.2,334.7a2.0250000000000004,2.0250000000000004 0 1 0 -4.1,0a2.0250000000000004,2.0250000000000004 0 1 0 4.1,0M1003.2,338.4a2.0250000000000004,2.0250000000000004 0 1 0 -4.1,0a2.0250000000000004,2.0250000000000004 0 1 0 4.1,0M1003.2,342.1a2.0250000000000004,2.0250000000000004 0 1 0 -4.1,0a2.0250000000000004,2.0250000000000004 0 1 0 4.1,0M1003.2,345.8a2.0250000000000004,2.0250000000000004 0 1 0 -4.1,0a2.0250000000000004,2.0250000000000004 0 1 0 4.1,0M1003.2,349.5a2.0250000000000004,2.0250000000000004 0 1 0 -4.1,0a2.0250000000000004,2.0250000000000004 0 1 0 4.1,0" fill="none" stroke="#e08a8a" stroke-width="0.9"/>
<path d="M1001.4,339.9 L1001.6,359.5 L1040,359.5" fill="none" stroke="#e03535" stroke-width="5" stroke-linejoin="round"/>
<path d="M1029,360.0 L1036,360.0" stroke="#4a1414" stroke-width="2.5"/>
</g>
<path d="M601,12H1036V368H601" fill="none" stroke="#2a2a2a" stroke-width="1.8"/><path d="M601,11.1V368.9" stroke="#585858" stroke-width="1.8"/>
<path d="M649.3,368V361.5M745.9,368V361.5M842.5,368V361.5M939.1,368V361.5M1035.7,368V361.5M697.6,368V364.5M794.2,368V364.5M890.8,368V364.5M987.4,368V364.5M601,360.0H607.5M601,290.4H607.5M601,220.8H607.5M601,151.2H607.5M601,81.6H607.5M601,12.0H607.5M601,325.2H604.5M601,255.6H604.5M601,186.0H604.5M601,116.4H604.5M601,46.8H604.5M1036,359.5H1029.5M1036,272.6H1029.5M1036,185.7H1029.5M1036,98.8H1029.5M1036,11.9H1029.5M1036,316.1H1032.5M1036,229.1H1032.5M1036,142.2H1032.5M1036,55.3H1032.5" stroke="#222" stroke-width="1.5" fill="none"/>
<text x="649.3" y="390.3" text-anchor="middle" font-family='"Liberation Serif", serif' font-size="18" fill="#111">220</text>
<text x="745.9" y="390.3" text-anchor="middle" font-family='"Liberation Serif", serif' font-size="18" fill="#111">240</text>
<text x="842.5" y="390.3" text-anchor="middle" font-family='"Liberation Serif", serif' font-size="18" fill="#111">260</text>
<text x="939.1" y="390.3" text-anchor="middle" font-family='"Liberation Serif", serif' font-size="18" fill="#111">280</text>
<text x="1035.7" y="390.3" text-anchor="middle" font-family='"Liberation Serif", serif' font-size="18" fill="#111">300</text>
<text x="593" y="366.1" text-anchor="end" font-family='"Liberation Serif", serif' font-size="18" fill="#111">0</text>
<text x="593" y="296.5" text-anchor="end" font-family='"Liberation Serif", serif' font-size="18" fill="#111">40</text>
<text x="593" y="226.9" text-anchor="end" font-family='"Liberation Serif", serif' font-size="18" fill="#111">80</text>
<text x="593" y="157.3" text-anchor="end" font-family='"Liberation Serif", serif' font-size="18" fill="#111">120</text>
<text x="593" y="87.7" text-anchor="end" font-family='"Liberation Serif", serif' font-size="18" fill="#111">160</text>
<text x="593" y="18.1" text-anchor="end" font-family='"Liberation Serif", serif' font-size="18" fill="#111">200</text>
<text x="1045" y="365.6" font-family='"Liberation Serif", serif' font-size="18" fill="#111">0</text>
<text x="1045" y="278.7" font-family='"Liberation Serif", serif' font-size="18" fill="#111">2</text>
<text x="1045" y="191.8" font-family='"Liberation Serif", serif' font-size="18" fill="#111">4</text>
<text x="1045" y="104.9" font-family='"Liberation Serif", serif' font-size="18" fill="#111">6</text>
<text x="1045" y="18.0" font-family='"Liberation Serif", serif' font-size="18" fill="#111">8</text>
<text x="818.5" y="415.9" text-anchor="middle" font-family='"Liberation Serif", serif' font-size="18.7" fill="#111">Time (s)</text>
<text transform="translate(556.7,186) rotate(-90)" text-anchor="middle" font-family='"Liberation Serif", serif' font-size="19.2" fill="#111">Inter-electrode voltage (V)</text>
<text transform="translate(1071.5,189) rotate(-90)" text-anchor="middle" font-family='"Liberation Serif", serif' font-size="19.3" fill="#111">Circuit current (A)</text>
<path d="M78.5,25.8 l3.8,6.2 h-7.6z" fill="none" stroke="#9a9a9a" stroke-width="1"/><circle cx="78.5" cy="54" r="3.2" fill="none" stroke="#a8a8a8" stroke-width="1"/><path d="M799.9,23.8 l3.8,6.2 h-7.6z" fill="none" stroke="#9a9a9a" stroke-width="1"/><circle cx="799.9" cy="52" r="3.2" fill="none" stroke="#a8a8a8" stroke-width="1"/><text x="105.8" y="36.9" font-family='"Liberation Serif", serif' font-size="19.2" fill="#111" text-anchor="start" >Inter-electrode voltage</text><text x="105.8" y="60.9" font-family='"Liberation Serif", serif' font-size="19.2" fill="#111" text-anchor="start" >Circuit current</text><text x="827.7" y="34.8" font-family='"Liberation Serif", serif' font-size="19.2" fill="#111" text-anchor="start" >Inter-electrode voltage</text><text x="827.7" y="59.0" font-family='"Liberation Serif", serif' font-size="19.2" fill="#111" text-anchor="start" >Circuit current</text><text x="369.3" y="34.8" font-family='"Liberation Sans", sans-serif' font-size="17.5" fill="#111" text-anchor="start" >Arc event</text><text x="294" y="73.5" font-family='"Liberation Sans", sans-serif' font-size="17.5" fill="#3a3a3a"><tspan font-style="italic">V</tspan><tspan font-size="12.6" dy="5">2</tspan><tspan dy="-5">=160V</tspan></text><text x="232" y="118.7" font-family='"Liberation Sans", sans-serif' font-size="17.5" fill="#3a3a3a"><tspan font-style="italic">V</tspan><tspan font-size="12.6" dy="5">1</tspan><tspan dy="-5">=150V</tspan></text><text x="75.6" y="153.9" font-family='"Liberation Sans", sans-serif' font-size="17.3" fill="#64388a"><tspan font-style="italic">V</tspan><tspan font-size="12.5" dy="5">c</tspan><tspan dy="-5">=155±5V</tspan></text><text x="400.6" y="210.6" font-family='"Liberation Sans", sans-serif' font-size="17.6" fill="#111" text-anchor="start" >Stable arc</text><text x="158.9" y="291.9" font-family='"Liberation Sans", sans-serif' font-size="17.5" fill="#111" text-anchor="start" >Open circuit state</text><text x="172" y="327.8" font-family='"Liberation Sans", sans-serif' font-size="17.5" fill="#111"><tspan font-style="italic">U</tspan> = <tspan font-style="italic">U</tspan><tspan font-size="12.6" dy="5">0</tspan><tspan dy="-5">, </tspan><tspan font-style="italic">I</tspan> = 0</text><line x1="399.6" y1="43.3" x2="399.6" y2="52.8" stroke="#111" stroke-width="1.2"/><path d="M396.8,49.8 L402.40000000000003,49.8 L399.6,58.8Z" fill="#111"/><line x1="75" y1="300" x2="374.3" y2="300" stroke="#b0b0b0" stroke-width="1.6"/><path d="M70,300 L79.5,297 L79.5,303Z M379.3,300 L369.8,297 L369.8,303Z" fill="#111"/><line x1="407" y1="224" x2="473.3" y2="224" stroke="#8a8a8a" stroke-width="1.1"/><path d="M402,224 L411.5,221 L411.5,227Z M478.3,224 L468.8,221 L468.8,227Z" fill="#111"/><text x="666.8" y="37" font-family='"Liberation Sans", sans-serif' font-size="17.5" fill="#111" text-anchor="start" >Arc event</text><line x1="703.2" y1="48.2" x2="703.2" y2="63.599999999999994" stroke="#111" stroke-width="1.2"/><path d="M700.4000000000001,60.599999999999994 L706.0,60.599999999999994 L703.2,69.6Z" fill="#111"/><text x="825.7" y="123.3" font-family='"Liberation Sans", sans-serif' font-size="17.5" fill="#c23a36"><tspan font-style="italic">I</tspan><tspan font-size="12.6" dy="5">avg</tspan><tspan dy="-5">=6.35A</tspan></text><text x="913.7" y="142.8" font-family='"Liberation Sans", sans-serif' font-size="17.3" fill="#111" text-anchor="start" >Extinction</text><line x1="972" y1="123.3" x2="990" y2="104" stroke="#111" stroke-width="1.1"/><path d="M994.3,100.2 L984.5,104.8 L990.2,109.6Z" fill="#111"/><text x="643.9" y="203.2" font-family='"Liberation Sans", sans-serif' font-size="17.2" fill="#111" text-anchor="start" >Transition</text><text x="775.7" y="201.3" font-family='"Liberation Sans", sans-serif' font-size="17.6" fill="#111" text-anchor="start" >Stable arc</text><line x1="660.5" y1="98" x2="660.5" y2="358" stroke="#333" stroke-width="1.1" stroke-dasharray="2.2,2.2"/><line x1="667.5" y1="224.3" x2="697.3" y2="224.3" stroke="#8a8a8a" stroke-width="1.1"/><path d="M662.5,224.3 L672.0,221.3 L672.0,227.3Z M702.3,224.3 L692.8,221.3 L692.8,227.3Z" fill="#111"/><line x1="713.5" y1="224.3" x2="986.5" y2="224.3" stroke="#8a8a8a" stroke-width="1.1"/><path d="M708.5,224.3 L718.0,221.3 L718.0,227.3Z M991.5,224.3 L982.0,221.3 L982.0,227.3Z" fill="#111"/><text x="811.5" y="340.7" font-family='"Liberation Sans", sans-serif' font-size="17.5" fill="#3a3a3a"><tspan font-style="italic">U</tspan><tspan font-size="12.6" dy="5">avg</tspan><tspan dy="-5">=32.5V</tspan></text>
<text x="2" y="18" font-family='"Liberation Serif", serif' font-weight="bold" font-size="21" fill="#111">a)</text><text x="543.5" y="18" font-family='"Liberation Serif", serif' font-weight="bold" font-size="21" fill="#111">b)</text><text x="17.7" y="468.6" font-family='"Liberation Serif", serif' font-weight="bold" font-size="27" fill="#111">c)</text><text x="570.6" y="468.6" font-family='"Liberation Serif", serif' font-weight="bold" font-size="27.5" fill="#111">d)</text>
<defs>
<filter id="b1" x="-50%" y="-50%" width="200%" height="200%"><feGaussianBlur stdDeviation="1.2"/></filter>
<filter id="b2" x="-50%" y="-50%" width="200%" height="200%"><feGaussianBlur stdDeviation="2"/></filter>
<filter id="b3" x="-50%" y="-50%" width="200%" height="200%"><feGaussianBlur stdDeviation="3"/></filter>
<filter id="b4" x="-50%" y="-50%" width="200%" height="200%"><feGaussianBlur stdDeviation="4"/></filter>
<filter id="b10" x="-50%" y="-50%" width="200%" height="200%"><feGaussianBlur stdDeviation="10"/></filter>
<filter id="b15" x="-50%" y="-50%" width="200%" height="200%"><feGaussianBlur stdDeviation="15"/></filter>
<filter id="b25" x="-50%" y="-50%" width="200%" height="200%"><feGaussianBlur stdDeviation="25"/></filter>
<filter id="b40" x="-60%" y="-60%" width="220%" height="220%"><feGaussianBlur stdDeviation="40"/></filter>
<linearGradient id="beam" x1="0" y1="0" x2="0" y2="1"><stop offset="0" stop-color="#c06058" stop-opacity="0.15"/><stop offset="0.45" stop-color="#a04848" stop-opacity="0.5"/><stop offset="1" stop-color="#d07060" stop-opacity="1"/></linearGradient>
<linearGradient id="bgd" x1="0" y1="0" x2="0" y2="1"><stop offset="0" stop-color="#0d0208"/><stop offset="0.55" stop-color="#10030b"/><stop offset="1" stop-color="#1a050e"/></linearGradient>
<radialGradient id="glowd" cx="0.5" cy="0.5" r="0.5"><stop offset="0" stop-color="#fff4f6"/><stop offset="0.2" stop-color="#f4c0cc"/><stop offset="0.38" stop-color="#d08090" stop-opacity="0.92"/><stop offset="0.6" stop-color="#8a3a4c" stop-opacity="0.55"/><stop offset="0.85" stop-color="#4a1828" stop-opacity="0.22"/><stop offset="1" stop-color="#300c1c" stop-opacity="0"/></radialGradient>
<clipPath id="clipc"><rect x="49" y="445" width="450" height="437"/></clipPath>
<clipPath id="clipd"><rect x="603" y="445" width="449" height="437"/></clipPath>
</defs>
<rect x="49" y="445" width="450" height="437" fill="#080205"/>
<g clip-path="url(#clipc)">
<rect x="265" y="700" width="34" height="190" fill="#160307" opacity="0.3" filter="url(#b10)"/>
<ellipse cx="287" cy="708" rx="26" ry="22" fill="#3a0a14" opacity="0.8" filter="url(#b10)"/>
<path d="M289.5,650 C291,665 298,680 303,698 C300,706 284,706 282,698 C285,682 288,665 289.5,650Z" fill="#d86428" filter="url(#b2)"/>
<path d="M290,672 C292,682 296,690 298,698 L286,698 C288,690 289,682 290,672Z" fill="#f0a050" filter="url(#b2)"/>
<ellipse cx="286" cy="714" rx="16" ry="9" fill="#7a1c30" filter="url(#b4)"/>
<circle cx="274" cy="709" r="10" fill="#d87898" filter="url(#b4)"/>
<circle cx="274" cy="709" r="5" fill="#fff" filter="url(#b2)"/>
<circle cx="296" cy="698" r="9" fill="#e8907a" filter="url(#b4)"/>
<circle cx="296" cy="698" r="4.5" fill="#fff8f0" filter="url(#b2)"/>
<circle cx="283" cy="686" r="3" fill="#f0c0b0" filter="url(#b1)"/>
<circle cx="276" cy="731" r="4" fill="#905060" filter="url(#b2)"/>
</g>
<rect x="603" y="445" width="449" height="437" fill="url(#bgd)"/>
<g clip-path="url(#clipd)">
<ellipse cx="880" cy="705" rx="190" ry="70" fill="#4a1a36" opacity="0.45" filter="url(#b25)"/>
<ellipse cx="1040" cy="672" rx="42" ry="44" fill="#7a4262" filter="url(#b10)"/>
<path d="M712,722 L838,700 L978,712 L940,920 L775,920 Z" fill="#4a1620" filter="url(#b40)"/>
<path d="M812,752 L838,722 L866,752 L860,900 L815,900 Z" fill="#b86050" opacity="0.8" filter="url(#b10)"/>
<ellipse cx="735" cy="722" rx="30" ry="18" fill="#6a3048" opacity="0.6" filter="url(#b10)"/>
<circle cx="838" cy="712" r="135" fill="url(#glowd)"/>
<ellipse cx="840" cy="716" rx="115" ry="50" fill="#a85870" opacity="0.45" filter="url(#b15)"/>
<path d="M875,445 C866,520 862,590 858,665 L846,665 C850,590 854,520 858,445Z" fill="url(#beam)" filter="url(#b4)"/>
<path d="M606,813 C640,790 680,760 713,716" stroke="#c07478" stroke-width="5" fill="none" filter="url(#b2)"/>
<path d="M861,881 C900,820 940,760 972,715" stroke="#8a4a52" stroke-width="3.5" fill="none" filter="url(#b2)"/>
<path d="M998,734 L1014,748 L1002,752Z" fill="#d09070" filter="url(#b2)"/>
<ellipse cx="838" cy="712" rx="48" ry="50" fill="#ffd0dc" opacity="0.9" filter="url(#b10)"/>
<path d="M805,702 C805,682 824,673 840,673 C860,673 872,690 872,708 C872,726 858,738 842,752 C826,740 805,724 805,702Z" fill="#fff" filter="url(#b4)"/>
<circle cx="847" cy="840" r="3" fill="#d06868" filter="url(#b1)"/>
</g>

</svg>
</body></html>
